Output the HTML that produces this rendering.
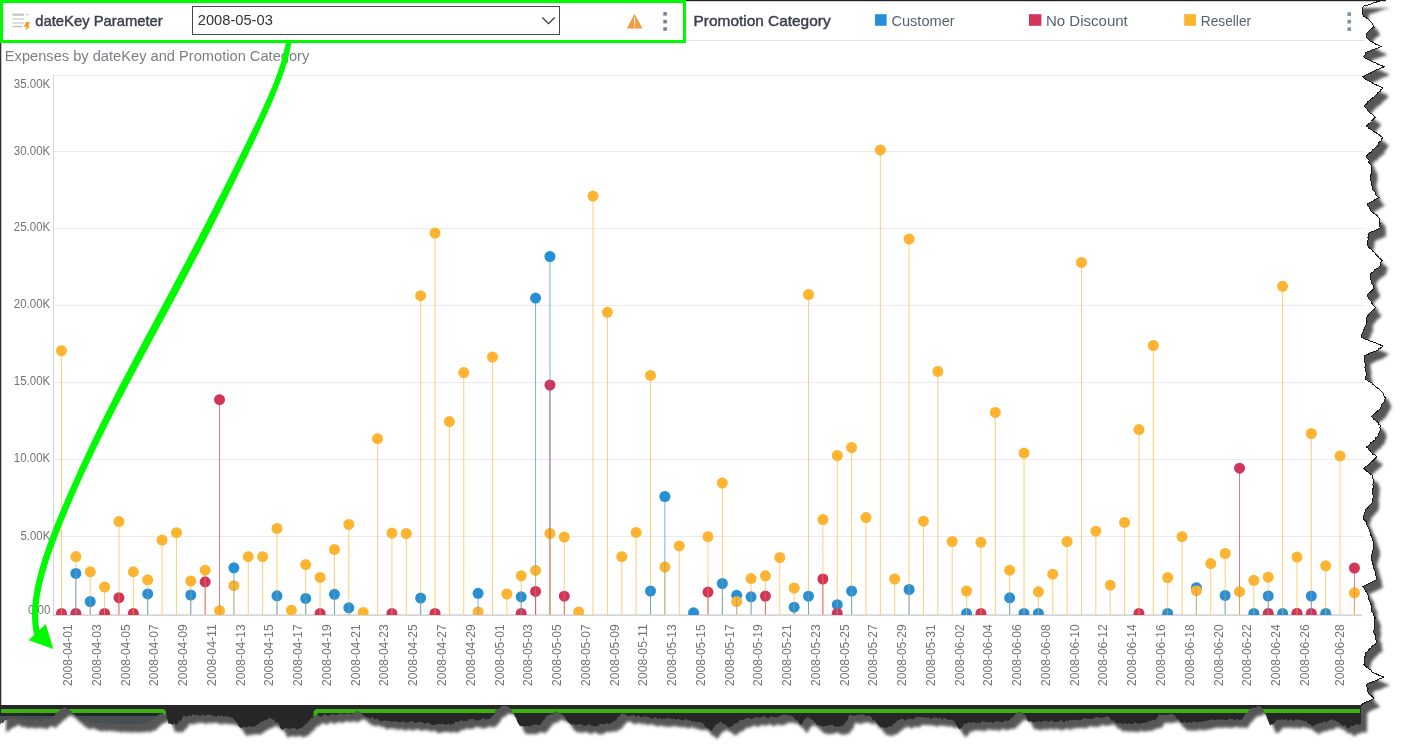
<!DOCTYPE html>
<html><head><meta charset="utf-8"><title>Expenses by dateKey and Promotion Category</title>
<style>
html,body{margin:0;padding:0;background:#fff;}
body{width:1407px;height:753px;overflow:hidden;position:relative;font-family:"Liberation Sans",Arial,sans-serif;}
svg{position:absolute;left:0;top:0;}
.ax{font-family:"Liberation Sans",Arial,sans-serif;font-size:12px;fill:#737373;}
.hd{font-family:"Liberation Sans",Arial,sans-serif;}
</style></head>
<body>
<svg width="1407" height="753" viewBox="0 0 1407 753">
<defs>
<clipPath id="plotclip"><rect x="54" y="60" width="1310" height="555"/></clipPath>
<clipPath id="paperclip"><path d="M0,0 L1384.7,0 L1382.3,0.4 L1379.9,0.9 L1378.4,1.3 L1376.3,2.1 L1373,3 L1371.5,3.8 L1369.1,4.6 L1366.9,5.3 L1364.4,5.9 L1363.2,6.6 L1362.5,8.6 L1362.5,11.4 L1362.5,14.3 L1363.7,16.1 L1366.5,17.9 L1368.4,19.5 L1370.5,21.2 L1372.8,24.2 L1374.1,27.2 L1371.5,28.6 L1369.1,30.6 L1367.4,32.5 L1366.5,34.5 L1366.5,37.2 L1368.4,39.2 L1370.5,41.2 L1373.2,42.3 L1374.1,43.3 L1376.4,44.4 L1379.2,45.4 L1381.1,46.5 L1379.5,47.5 L1376.4,48.5 L1373.8,49.5 L1371.6,50.2 L1370.6,50.8 L1367.7,51.5 L1365.4,53.2 L1365.3,55 L1363.2,56.7 L1365.2,58 L1367.2,59.2 L1370.2,60.5 L1371.5,61.4 L1373.8,62.3 L1376.7,63.2 L1377.5,64.1 L1380.2,65 L1382.3,65.9 L1384,66.8 L1381.9,67.6 L1380.3,68.5 L1377.6,69.3 L1375.7,70.1 L1374.1,71 L1372.7,71.8 L1371,72.8 L1368.6,73.8 L1366.4,74.8 L1364.9,75.8 L1362.7,76.8 L1364.3,78.1 L1365.7,79.3 L1367.7,80.6 L1370.1,81.5 L1371.8,82.5 L1372.9,83.5 L1375.4,84.4 L1377.2,85.3 L1379.7,86.3 L1381.3,87.2 L1382.8,88.2 L1380.9,89.7 L1380.7,91.2 L1377.6,92.7 L1376.7,94.2 L1375.3,95.7 L1374.1,97.1 L1371.4,98.6 L1370.4,100 L1368,101.5 L1367.5,102.9 L1366.1,104.4 L1364,105.8 L1365.4,107.5 L1367.1,109.1 L1367.7,110.8 L1369.3,112.4 L1371.9,113.9 L1373.6,115.5 L1375.3,117.1 L1374,118.6 L1372.3,120.1 L1371.5,121.5 L1370.2,123 L1367.8,124.5 L1366.4,126 L1368.3,127.2 L1368.8,128.5 L1371.5,129.8 L1372.7,131 L1375,132.3 L1377.6,133.5 L1379.3,134.8 L1380.4,136 L1382.8,137.3 L1381.6,139 L1381.1,140.8 L1378.9,142.5 L1378.7,144.3 L1377.8,146 L1375.6,147.5 L1373.9,148.9 L1372.1,150.4 L1371.8,151.8 L1369,153.3 L1367.6,154.7 L1366.4,156.2 L1367.2,158.2 L1369.1,160.2 L1368.7,162.2 L1370.4,164.2 L1371.5,166.2 L1371.3,168.2 L1371.7,170.2 L1371.3,172.3 L1371.1,174.3 L1370.2,176.3 L1370.2,178.5 L1370.9,180.8 L1371.5,183 L1371.6,185.3 L1373,187.7 L1372.7,190 L1375.1,191.9 L1375.2,193.8 L1376.8,195.7 L1379,197.6 L1376.6,198.7 L1374.8,199.7 L1373.3,200.8 L1371.6,201.9 L1369.2,202.9 L1367.7,204 L1367.8,205.9 L1369.5,207.8 L1370.3,209.6 L1371.5,211.5 L1373.5,213.1 L1376.1,214.7 L1377.5,216.2 L1379,217.8 L1379.3,219.8 L1379.7,221.8 L1380.1,223.9 L1379.2,225.9 L1380.3,227.9 L1379.1,228.7 L1377,229.6 L1375.3,230.4 L1373.3,231.2 L1370.7,232.1 L1369,232.9 L1368.6,235 L1367.9,237.1 L1368.6,239.2 L1367.3,241.3 L1367.1,243.4 L1367.7,245.5 L1368.7,247 L1370.1,248.5 L1372,250 L1373,251.5 L1375.3,253 L1375.8,254.5 L1377.5,256 L1378.8,257.6 L1380.7,259.1 L1382.3,260.6 L1380.3,262.7 L1380.8,264.8 L1379,266.9 L1377.4,268.4 L1374.8,269.9 L1373.3,271.5 L1371.7,273 L1370.2,274.5 L1370.3,276.7 L1370.2,278.9 L1371.8,281.1 L1371.5,283.3 L1373.6,285.8 L1374,288.3 L1372.6,289.8 L1371.3,291.3 L1369.2,292.9 L1367.8,294.4 L1367.2,295.9 L1368.3,297.8 L1369.5,299.7 L1371.8,301.5 L1372,303.4 L1373.1,305.3 L1375.3,307.2 L1374.6,309 L1372.3,310.7 L1370.1,312.5 L1369.3,314.2 L1367.7,316 L1366.3,318 L1366.8,320 L1367.1,322.1 L1366.4,324.1 L1365.2,326.1 L1364.8,328.4 L1363.3,330.6 L1362.7,332.9 L1361.6,335.1 L1361.4,337.4 L1363.8,338.2 L1365.3,339 L1367.7,339.8 L1368.9,340.6 L1370.6,341.4 L1373.6,342.2 L1375.9,343 L1377.6,343.8 L1379.5,344.6 L1381.4,345.4 L1382.8,346.2 L1381.6,347.5 L1379,348.7 L1377.8,350 L1375.9,350.9 L1373.6,351.8 L1371,352.7 L1369.1,353.6 L1367.5,354.5 L1365.5,355.4 L1364,356.3 L1364.6,359.1 L1364.5,362 L1365.6,364.6 L1364.9,367.1 L1365.2,369.7 L1366,372 L1366.1,374.3 L1366,376.6 L1365.2,378.9 L1367.1,380.2 L1368.9,381.4 L1371.5,382.7 L1372.8,384.2 L1374.5,385.7 L1376.2,387.2 L1378.8,388.7 L1380.3,390.2 L1382.3,392.1 L1383.4,394 L1384,395.9 L1385.3,397.8 L1384.7,400 L1384,402.2 L1381.8,404.4 L1381.6,406.6 L1380.4,408 L1379.5,409.5 L1377.8,410.9 L1376.3,412.4 L1374.3,413.8 L1372.4,415.3 L1371.5,416.7 L1373.5,418.2 L1374.1,419.6 L1376.4,421.1 L1378.2,422.6 L1378.6,424 L1380.3,425.5 L1379.9,427.5 L1380.6,429.5 L1379.9,431.6 L1378.7,433.6 L1379,435.6 L1376.8,437 L1375.2,438.4 L1375,439.8 L1373.3,441.2 L1370.5,442.7 L1370.1,444.1 L1368.8,445.5 L1366.4,446.9 L1368.1,448.3 L1369,449.8 L1370.8,451.2 L1371.5,452.7 L1372.7,454.1 L1375.9,455.6 L1376.5,457 L1375.2,458.4 L1373.4,459.8 L1372.6,461.2 L1370.1,462.6 L1369.3,464.1 L1367.6,465.5 L1365,466.9 L1363.9,468.3 L1365.2,469.8 L1367,471.3 L1368.7,472.9 L1371.1,474.4 L1372.7,475.9 L1372.9,478.4 L1374,480.9 L1373.6,482.9 L1372.8,484.9 L1374,487 L1372.7,489 L1372.7,491 L1372.6,493 L1372.9,495 L1373.4,497.1 L1372.6,499.1 L1372.7,501.1 L1372.2,502.8 L1370.2,504.4 L1369,506.1 L1367.7,507.8 L1365.6,509.4 L1365.2,511.1 L1364.7,513.2 L1363.8,515.3 L1363.9,517.4 L1364,519.6 L1366.3,521.8 L1366.2,524 L1367.7,526.2 L1368.4,528.2 L1369.6,530.2 L1370.1,532.3 L1370.4,534.3 L1371.5,536.3 L1372.1,538.5 L1372.8,540.6 L1373.8,542.8 L1373.9,545 L1373.9,548.5 L1372.5,550.6 L1372.6,552.8 L1371.3,554.9 L1371.1,557 L1371.3,559.3 L1372.7,561.5 L1372.8,563.8 L1373.5,566 L1373.9,568.3 L1374.9,570.6 L1375.8,572.8 L1375.5,575.1 L1376.4,577.3 L1376.8,579.6 L1374.8,580.6 L1372.8,581.6 L1371.1,582.6 L1368.6,583.6 L1366.7,584.6 L1364.6,585.6 L1362.6,586.6 L1364.5,588.6 L1365.2,590.6 L1366.7,592.5 L1368,594.5 L1368.3,596.5 L1368.4,598.8 L1369.5,601.1 L1370.8,603.3 L1371.2,605.6 L1371.1,607.9 L1371.3,609.9 L1372.1,611.8 L1373.5,613.8 L1373.7,615.7 L1375.3,617.7 L1374.6,619.8 L1374.1,622 L1374.9,624.1 L1374.9,626.2 L1374.8,628.4 L1373.9,630.5 L1373.9,632.8 L1375.4,635 L1375.9,637.3 L1375.6,639.5 L1376.8,641.8 L1376.1,643.2 L1374.8,644.6 L1372,646 L1371.9,647.5 L1369.5,648.9 L1368.2,650.3 L1367.7,651.7 L1365.4,653.1 L1365.7,655.4 L1364.2,657.6 L1364.4,659.9 L1364.3,662.1 L1364,664.4 L1365.4,665.8 L1366.8,667.2 L1368.6,668.6 L1371,670.1 L1371.4,671.5 L1373.9,672.9 L1376,673.7 L1377.8,674.6 L1379,675.4 L1381.5,676.3 L1383.8,677.1 L1382.1,677.9 L1380.1,678.7 L1377.4,679.5 L1377.2,680.3 L1374.9,681 L1373.4,681.8 L1369.9,682.6 L1368.4,683.4 L1366.9,684.2 L1366.4,686.3 L1368.1,688.5 L1367.5,690.6 L1368.3,692.7 L1369.5,694.6 L1371.9,696.4 L1373.9,698.3 L1372.5,699.4 L1370.2,700.5 L1367.1,701.5 L1365.4,702.6 L1362.7,703.9 L1361.2,705.2 L1361,723.8 L1358.7,724.9 L1356.4,723.8 L1354.9,724.9 L1353.5,726.2 L1352,725.5 L1350.6,726.3 L1349.1,728.4 L1347.6,728.1 L1346.1,726.5 L1344.6,724.8 L1343.1,726.2 L1341.6,724.6 L1340.1,724.2 L1338.6,721.5 L1337.1,722.6 L1335.6,719.7 L1334.1,721 L1332.6,719.2 L1331.1,719.6 L1329.5,719.9 L1328,721 L1326.4,722.6 L1324.9,721.4 L1323.4,721.6 L1321.8,723.2 L1320.3,723 L1318.8,723.2 L1317.2,723.9 L1315.7,724.2 L1314.1,725.2 L1312.6,726.5 L1311.1,724.9 L1309.7,723.8 L1308.2,723.9 L1306.8,721.6 L1305.3,721 L1303.7,720.9 L1302.1,720 L1300.5,720.3 L1298.9,719.3 L1297.2,719.8 L1295.6,719.1 L1294,720.9 L1292.4,720.3 L1290.8,719.2 L1289.2,719.9 L1287.6,721 L1286,718.7 L1284.3,720.5 L1282.7,719.3 L1281.1,719.4 L1279.5,720.2 L1277.9,719.2 L1276.7,720 L1275.4,721.4 L1274.2,722.9 L1273,724.7 L1271.7,724.1 L1270.5,725.6 L1269.8,724.9 L1269,723 L1268.3,721.3 L1267.6,719.2 L1266.8,717.5 L1266.1,715.1 L1265.4,713.8 L1264.7,712.1 L1263.9,712.3 L1263.2,710.1 L1262,708.2 L1260.8,706.8 L1259.6,706.4 L1257.8,705.6 L1255.9,707.8 L1254.1,708.1 L1252.3,707.4 L1251.2,709 L1250.1,709.2 L1249,710.3 L1247.9,711.6 L1246.8,713.2 L1245.7,713.6 L1244.6,715.5 L1243.5,716.2 L1242.4,719.2 L1241.3,719.2 L1239.6,720.5 L1238,719.5 L1236.3,718.8 L1234.7,720.7 L1233,719.1 L1231.3,719.3 L1229.7,718.5 L1228,719.5 L1226.4,719.9 L1224.7,720 L1223,719.3 L1221.4,720.2 L1219.7,719 L1218.1,719.7 L1216.4,719.4 L1214.8,720.2 L1213.1,719.4 L1211.4,719.4 L1209.8,720.2 L1208.1,720.1 L1206.5,721.1 L1204.8,721 L1203.1,721.2 L1201.4,721.9 L1199.7,721.8 L1198.1,722.1 L1196.4,722.7 L1194.7,721.6 L1193,721.6 L1191.3,723.4 L1189.6,721.4 L1188,723 L1186.3,723 L1184.6,721.6 L1182.9,722.9 L1181.5,722.6 L1180.2,721.6 L1178.8,719.8 L1177.4,718.9 L1176,718 L1174.7,715.1 L1173.3,714.9 L1171.9,713.7 L1170.2,713.8 L1168.5,714.8 L1166.8,714.9 L1165.1,715.1 L1163.4,714.6 L1161.7,715.5 L1160,714.6 L1158.8,714.6 L1158,716.6 L1157.1,718.1 L1156.2,718.4 L1155.4,720.6 L1153.7,719.7 L1152,720.3 L1150.3,721.2 L1148.6,720.8 L1146.8,723 L1145.1,722.6 L1143.4,723.1 L1141.7,723.1 L1140,723.5 L1138.3,723.7 L1136.6,723.3 L1134.9,722.1 L1133.2,724.2 L1131.5,724.1 L1129.8,723.6 L1128.1,723.7 L1126.4,724.1 L1124.7,722.6 L1123,724.4 L1121.3,723.2 L1119.6,722.8 L1117.9,724 L1116.6,722.4 L1115.3,722.7 L1114,720.3 L1112.8,720.8 L1111.5,720.4 L1110.2,718.2 L1108.9,717 L1107.6,716.3 L1105.9,716.5 L1104.2,717.3 L1102.5,717.8 L1100.8,717.6 L1099.1,718 L1097.4,716.8 L1095.7,717.2 L1094,717.7 L1092.3,719.3 L1090.6,718.9 L1089,718.5 L1087.4,719.3 L1085.7,718 L1084.1,718.2 L1082.5,718.9 L1080.9,720.1 L1079.2,720.2 L1077.6,720.3 L1076,719.4 L1074.4,720.1 L1072.7,720.1 L1071.1,720.2 L1069.5,719.5 L1067.9,721.6 L1066.2,719.9 L1064.6,722 L1063,722.1 L1061.4,719.8 L1059.7,721.1 L1058.1,722.1 L1056.5,721.4 L1054.9,722.6 L1053.3,721.3 L1051.7,720.8 L1050.1,720.6 L1048.5,722.6 L1046.9,720.6 L1045.3,721.6 L1043.7,720.5 L1042,721.5 L1040.4,722.6 L1038.8,720.4 L1037.2,722.2 L1035.6,721.4 L1034,722.4 L1032.4,721.9 L1030.8,720.7 L1029.2,721.4 L1028,721 L1026.9,718.5 L1025.8,715.9 L1024.6,714.4 L1023.4,714.3 L1022.3,712.9 L1020.6,712.3 L1018.9,712 L1017.6,712.6 L1016.4,713.2 L1015.1,714.8 L1013.8,715.8 L1012.5,718.3 L1011.2,717.2 L1010,720.2 L1008.7,720.6 L1007,721.6 L1005.3,719.9 L1003.6,722.1 L1001.9,721.7 L1000.2,722.4 L998.5,720.9 L996.7,721.3 L995,721.5 L993.3,723.2 L991.6,722.2 L989.9,721.8 L988.2,722.3 L986.5,722.2 L984.8,721.8 L983.1,721.3 L981.4,721.5 L979.7,723.5 L978,722.1 L976.2,723.8 L974.5,722.1 L972.8,722.2 L971.1,722.9 L969.4,722.1 L967.7,722.7 L966,724.2 L964.3,723.1 L963.2,725.6 L962.2,726.9 L961.1,727.9 L960.1,729.1 L959,728.8 L957.9,727.6 L956.8,725.2 L955.7,724.3 L954.6,721.2 L953.5,721.6 L952.4,719.7 L950.7,719.4 L949,720 L947.3,719.5 L945.6,718.4 L943.9,717.6 L942.2,719.7 L940.5,717.4 L938.8,718.1 L937.1,718 L935.4,717.5 L933.7,717.3 L932,718.4 L930.3,718.9 L928.5,717 L926.8,717.9 L925.1,716.9 L923.4,717.5 L921.7,717 L920,717.2 L918.4,716.7 L916.7,717 L915.1,717.5 L913.4,719.6 L911.8,718.9 L910.1,719 L908.4,718.4 L906.7,720.3 L904.9,720.6 L903.2,719.3 L901.5,718.6 L899.8,719.7 L898.4,720.1 L897,720.9 L895.5,722.7 L894.1,723.2 L892.7,724.8 L891.3,726.6 L889.6,726.1 L887.9,727 L886.1,728 L884.4,727.8 L882.7,727 L881,727.4 L879.8,726 L878.6,725.1 L877.4,723.5 L876.2,722.2 L875,720.3 L873.9,719.7 L872.7,720.3 L871.5,716.9 L870.3,716.7 L869.1,715.5 L867.4,715.8 L865.7,716.3 L864,714.5 L862.3,714.6 L860.6,714.4 L858.8,714.7 L857.1,714.8 L855.4,716 L853.7,715.7 L852,715.7 L850.3,714.6 L849.4,714.7 L848.6,716.2 L847.8,719.3 L846.9,721.2 L846,721.5 L845.2,723.2 L844.4,723 L843.5,725.7 L841.8,725.4 L840.1,726.8 L838.4,726.5 L836.7,726.6 L835,726.9 L833.3,725 L831.6,724.7 L829.9,724.8 L828.2,725.8 L826.5,725.7 L824.8,726 L823.1,726.5 L821.3,725.8 L819.6,725.4 L817.9,724.9 L816.6,724.5 L815.4,722.6 L814.1,721.8 L812.8,719.4 L811.5,720.3 L810.2,717.8 L809,718.5 L807.7,716.3 L806.6,718.1 L805.4,718.7 L804.3,719.6 L803.2,721.4 L802,723.8 L800.9,724.9 L799.7,724.2 L798.4,721.4 L797.2,720.1 L796,720 L794.8,719 L793.5,717.2 L792.3,716.3 L790.6,715.3 L788.9,716 L787.2,714.2 L785.5,714.7 L783.8,714.8 L782.1,714.6 L780.4,716.4 L778.7,716.3 L777,717.5 L775.3,717.2 L773.6,717.1 L771.9,716.5 L770.2,716.5 L768.5,718.4 L766.8,717.7 L765,716.7 L763.3,716 L761.6,717.2 L759.9,717.7 L758.2,717.2 L756.5,717.2 L754.8,717.1 L753.1,718.4 L751.4,719.3 L749.7,717.7 L748,717.5 L746.3,718.5 L744.6,719 L742.9,719.9 L741.2,719.7 L739.7,719.9 L738.2,722.4 L736.7,723.2 L735.2,723.6 L733.7,723.7 L732.2,726.7 L730.7,725.9 L729.2,727.4 L727.7,727.2 L726.1,724.7 L724.5,723.7 L723,724.1 L721.5,721.9 L719.9,721.4 L718.7,723.8 L717.5,723.7 L716.4,724.1 L715.2,725.4 L714,727.1 L712.9,728.9 L711.7,730.8 L710.5,730.8 L709.2,728.8 L707.9,728.4 L706.6,726.9 L705.4,727.8 L704.1,724.6 L702.8,723.3 L701.5,722.2 L700.2,722.3 L698.5,721.6 L696.8,722.5 L695.1,722 L693.4,721.2 L691.7,721.4 L690,719.7 L688.4,720.8 L686.7,719.3 L685.1,718.9 L683.4,720.8 L681.8,719.7 L680.1,720.3 L678.4,718.3 L676.7,719.9 L675,719.1 L673.2,719 L671.5,718.8 L669.8,718.3 L668.1,717.8 L666.4,718.4 L664.7,718.9 L663,718.3 L661.3,719.7 L659.6,717.4 L657.9,719.4 L656.2,717.3 L654.4,717.5 L652.7,718.5 L651,718.4 L649.3,717.2 L647.6,717.2 L645.9,715.9 L644.2,716.8 L642.5,716.4 L640.8,717.6 L639.1,715.6 L637.4,715.8 L635.7,717 L634,714.6 L632.3,715.4 L630.6,715.5 L628.9,716.2 L627.2,715.9 L625.5,713.9 L623.7,713.7 L622,713.6 L620.3,714.6 L619.2,717 L618,716.5 L616.9,719.1 L615.8,720.8 L614.6,720.6 L613.5,722.3 L611.8,722 L610.1,724.2 L608.4,723.6 L606.7,723 L605,724.6 L603.3,723.9 L601.6,724.1 L599.9,723.7 L598.2,726 L596.5,725.7 L594.9,726.7 L593.3,725.8 L591.7,726.5 L590.1,724 L588.5,724.5 L586.9,725 L585.3,726.1 L583.7,726 L582.1,724.4 L580.5,724 L578.9,724.3 L577.3,724.4 L575.7,725.4 L574.1,723.4 L572.5,724.9 L570.9,724 L569.7,723.3 L568.4,722.2 L567.2,720.7 L566,718.9 L564.8,716.8 L563.5,715.5 L562.3,714.6 L560.6,713.4 L558.9,713.6 L557.2,712 L555.5,711.6 L553.8,712.6 L552.1,714.8 L550.4,714.1 L548.7,715.5 L547.4,715.5 L546.2,716.6 L544.9,719.2 L543.6,719.7 L542.3,722.6 L541,723.5 L539.8,725 L538.5,724.9 L536.8,724.5 L535.1,724.2 L533.4,724.5 L531.6,725.7 L529.9,726.5 L528.2,726 L526.5,725.7 L524.8,726.6 L523.1,726.1 L521.4,726.3 L519.7,725.7 L518.9,724.6 L518.2,723.3 L517.4,722 L516.7,720 L515.9,717.1 L515.2,717.5 L514.4,714.5 L513.7,713.7 L512.9,712 L511.6,710.3 L510.4,709.9 L509.1,707.2 L507.8,706.6 L506.1,705.9 L504.4,705.9 L502.7,705.7 L501,706.6 L499.6,708.6 L498.1,708.7 L496.7,709.5 L495.7,710.5 L494.7,712.1 L493.7,715 L492.7,715.2 L491.7,715.9 L490.7,718 L489,719 L487.3,718.8 L485.6,719.9 L483.9,717.8 L482.1,719 L480.4,720.1 L478.7,720.4 L477,719.7 L475.3,720.9 L473.6,718.7 L471.9,719.4 L470.2,719.1 L468.5,719.3 L466.8,721.5 L465.1,720.5 L463.4,721.5 L461.7,720.2 L460,720.6 L458.4,722.2 L456.7,721.8 L455.1,722 L453.4,724 L451.8,724 L450.1,725.2 L448.4,723.2 L446.7,724.5 L445,724.7 L443.2,723.7 L441.5,724.2 L439.8,723.7 L438.1,724 L436.4,724.2 L434.7,724.9 L433,724.9 L431.3,724.8 L429.6,723.3 L427.9,722.6 L426.1,723.2 L424.4,723.8 L422.7,722.3 L421,722.3 L419.3,721.8 L417.6,722.3 L415.9,723.1 L414.2,722.4 L412.5,721.2 L410.8,721.3 L409.1,722 L407.4,722.4 L405.7,722.7 L404,721.2 L402.3,721.4 L400.6,722.3 L398.9,722.6 L397.2,721.7 L395.5,721.2 L393.8,721.1 L392.1,722.6 L390.3,720.8 L388.6,721.3 L386.9,720.6 L385.2,720.6 L383.5,720.6 L381.8,721.2 L380.1,721.2 L378.4,719.2 L376.7,718.5 L375,719.5 L373.3,717.8 L371.6,716.9 L369.9,718.9 L368.2,717.3 L366.5,717.2 L365.1,717 L363.7,714.9 L362.4,715.1 L361,712.9 L359.6,712 L357.9,711.4 L356.2,711.3 L354.5,713 L352.8,713.6 L351.1,714.6 L349.4,713.8 L347.7,712.8 L346,714.3 L344.3,713.7 L342.6,714.1 L340.9,713.3 L339.1,713.7 L337.4,714.4 L335.7,715.5 L334,713.5 L332.3,714.6 L330.6,714.7 L328.9,715.6 L327.2,716.1 L325.5,714.2 L323.8,714.1 L322.1,716.4 L320.4,716.5 L318.7,715.4 L317,715.5 L315.3,715.2 L313.6,718.3 L311.9,717.8 L310.2,718.9 L309,721.3 L307.7,721.9 L306.5,723.8 L305.3,723.4 L304.1,726.4 L302.8,726.2 L301.6,728.3 L299.9,728.1 L298.2,729.3 L296.5,729.4 L294.8,727.7 L293.1,727.9 L291.4,728.4 L289.7,728.8 L288,728.5 L286.3,727.9 L284.6,728.3 L282.9,729.6 L281.2,729.1 L280.4,728 L279.5,724.9 L278.1,722.6 L276.6,722.8 L275.2,722.1 L273.8,719.1 L272.3,720 L270.9,718 L269.2,717.7 L267.5,719.6 L265.8,720.1 L264.1,720.6 L262.6,721.8 L261.2,721.8 L259.7,723 L258.3,724.2 L256.8,724.7 L255.4,726.2 L253.9,726.6 L252.2,726.6 L250.5,726.6 L248.8,725.7 L247.1,727.3 L245.3,727.1 L243.6,726.5 L241.9,728 L240.2,727.4 L239.2,726.8 L238.1,724.6 L237.1,722.5 L236,721.9 L235,720.6 L233.3,718.4 L231.7,717.4 L230,717.2 L228.3,716.8 L226.6,715.8 L225,716.5 L223.3,716.5 L221.6,715.2 L219.9,716.5 L218.2,714.9 L216.6,716.4 L214.9,716.4 L213.2,715.5 L211.5,715.4 L209.8,714.2 L208.1,715.2 L206.4,714.8 L204.7,716.2 L203,714 L201.3,715.8 L199.6,716.1 L197.9,715.3 L196.2,714.6 L194.5,715.5 L192.8,714.1 L191.1,716.2 L189.3,715.1 L187.6,716.4 L185.9,716.5 L184.2,715.5 L183.1,716 L181.9,719.1 L180.8,720.9 L179.7,720 L178.5,722.2 L177.4,724 L175.7,724.7 L174,723.1 L172.3,725 L170.6,723.4 L168.9,724 L168.4,723.1 L167.9,719.7 L167.3,718.9 L166.8,718.3 L166.3,715.5 L164.3,714.2 L162.3,713.8 L160.3,713.8 L158.9,714.8 L157.6,715.4 L156.2,715.7 L154.9,717.1 L153.5,718.9 L152.1,718.9 L150.7,721.7 L149.2,721.9 L147.8,723.3 L146.4,722.3 L145,724 L143.3,724.7 L141.6,723 L139.9,724.1 L138.2,724.4 L136.5,723.6 L134.8,725 L133.1,724.1 L131.3,724.2 L129.6,725 L127.9,723 L126.2,725.3 L124.5,724.3 L122.8,723.7 L121.1,724.8 L119.4,724 L117.7,723.3 L116,725.1 L114.3,723.9 L112.6,723.3 L110.8,724.2 L109.1,723.3 L107.4,722.5 L105.7,723.9 L104,722 L102.3,723.1 L100.6,723.8 L98.9,722.2 L97.2,723 L95.5,723.7 L93.8,722.6 L92.1,722.6 L90.4,721.5 L88.7,720.6 L87,720.5 L85.3,720.6 L83.6,721.4 L82.2,720.7 L80.7,719.3 L79.3,718.5 L77.9,718.5 L76.4,715.5 L75,715.5 L73.8,713.7 L72.5,713.7 L71.2,711 L70,711.2 L68.5,709.1 L67,709.1 L65.5,707.6 L64,707.8 L62.5,708.5 L61,709.2 L59.5,711.2 L58,712 L56.8,713.4 L55.7,713.5 L54.5,715.8 L53.3,716.5 L52.2,716.8 L51,718.9 L49.3,720.2 L47.6,718.6 L45.9,718.5 L44.2,718.5 L42.5,720.1 L40.8,720.9 L39.1,720.8 L37.4,720 L35.7,719.8 L34,720.6 L32.3,719.2 L30.6,720.6 L28.9,720.3 L27.2,719.5 L25.5,720.1 L23.8,719.4 L22.1,720.5 L20.4,719.8 L18.7,718.4 L17,718.9 L15.3,719.4 L13.6,716.6 L11.9,717.2 L10.5,718.1 L9.1,718.6 L7.7,719.7 L6.2,720.1 L4.6,720.6 L3.1,723.5 L1.5,722.6 L0,724.9 Z"/></clipPath>
<clipPath id="bandclip"><path clip-rule="evenodd" d="M0,705 H1361 V753 H0 Z M0,716 H163 V753 H0 Z"/></clipPath>
<clipPath id="upperclip"><rect x="0" y="0" width="1407" height="705"/></clipPath>
<clipPath id="slateclip"><rect x="0" y="716" width="163" height="37"/></clipPath>
<filter id="blur" x="-5%" y="-5%" width="110%" height="110%"><feGaussianBlur stdDeviation="1.8"/></filter>
</defs>
<path d="M0,0 L1384.7,0 L1382.3,0.4 L1379.9,0.9 L1378.4,1.3 L1376.3,2.1 L1373,3 L1371.5,3.8 L1369.1,4.6 L1366.9,5.3 L1364.4,5.9 L1363.2,6.6 L1362.5,8.6 L1362.5,11.4 L1362.5,14.3 L1363.7,16.1 L1366.5,17.9 L1368.4,19.5 L1370.5,21.2 L1372.8,24.2 L1374.1,27.2 L1371.5,28.6 L1369.1,30.6 L1367.4,32.5 L1366.5,34.5 L1366.5,37.2 L1368.4,39.2 L1370.5,41.2 L1373.2,42.3 L1374.1,43.3 L1376.4,44.4 L1379.2,45.4 L1381.1,46.5 L1379.5,47.5 L1376.4,48.5 L1373.8,49.5 L1371.6,50.2 L1370.6,50.8 L1367.7,51.5 L1365.4,53.2 L1365.3,55 L1363.2,56.7 L1365.2,58 L1367.2,59.2 L1370.2,60.5 L1371.5,61.4 L1373.8,62.3 L1376.7,63.2 L1377.5,64.1 L1380.2,65 L1382.3,65.9 L1384,66.8 L1381.9,67.6 L1380.3,68.5 L1377.6,69.3 L1375.7,70.1 L1374.1,71 L1372.7,71.8 L1371,72.8 L1368.6,73.8 L1366.4,74.8 L1364.9,75.8 L1362.7,76.8 L1364.3,78.1 L1365.7,79.3 L1367.7,80.6 L1370.1,81.5 L1371.8,82.5 L1372.9,83.5 L1375.4,84.4 L1377.2,85.3 L1379.7,86.3 L1381.3,87.2 L1382.8,88.2 L1380.9,89.7 L1380.7,91.2 L1377.6,92.7 L1376.7,94.2 L1375.3,95.7 L1374.1,97.1 L1371.4,98.6 L1370.4,100 L1368,101.5 L1367.5,102.9 L1366.1,104.4 L1364,105.8 L1365.4,107.5 L1367.1,109.1 L1367.7,110.8 L1369.3,112.4 L1371.9,113.9 L1373.6,115.5 L1375.3,117.1 L1374,118.6 L1372.3,120.1 L1371.5,121.5 L1370.2,123 L1367.8,124.5 L1366.4,126 L1368.3,127.2 L1368.8,128.5 L1371.5,129.8 L1372.7,131 L1375,132.3 L1377.6,133.5 L1379.3,134.8 L1380.4,136 L1382.8,137.3 L1381.6,139 L1381.1,140.8 L1378.9,142.5 L1378.7,144.3 L1377.8,146 L1375.6,147.5 L1373.9,148.9 L1372.1,150.4 L1371.8,151.8 L1369,153.3 L1367.6,154.7 L1366.4,156.2 L1367.2,158.2 L1369.1,160.2 L1368.7,162.2 L1370.4,164.2 L1371.5,166.2 L1371.3,168.2 L1371.7,170.2 L1371.3,172.3 L1371.1,174.3 L1370.2,176.3 L1370.2,178.5 L1370.9,180.8 L1371.5,183 L1371.6,185.3 L1373,187.7 L1372.7,190 L1375.1,191.9 L1375.2,193.8 L1376.8,195.7 L1379,197.6 L1376.6,198.7 L1374.8,199.7 L1373.3,200.8 L1371.6,201.9 L1369.2,202.9 L1367.7,204 L1367.8,205.9 L1369.5,207.8 L1370.3,209.6 L1371.5,211.5 L1373.5,213.1 L1376.1,214.7 L1377.5,216.2 L1379,217.8 L1379.3,219.8 L1379.7,221.8 L1380.1,223.9 L1379.2,225.9 L1380.3,227.9 L1379.1,228.7 L1377,229.6 L1375.3,230.4 L1373.3,231.2 L1370.7,232.1 L1369,232.9 L1368.6,235 L1367.9,237.1 L1368.6,239.2 L1367.3,241.3 L1367.1,243.4 L1367.7,245.5 L1368.7,247 L1370.1,248.5 L1372,250 L1373,251.5 L1375.3,253 L1375.8,254.5 L1377.5,256 L1378.8,257.6 L1380.7,259.1 L1382.3,260.6 L1380.3,262.7 L1380.8,264.8 L1379,266.9 L1377.4,268.4 L1374.8,269.9 L1373.3,271.5 L1371.7,273 L1370.2,274.5 L1370.3,276.7 L1370.2,278.9 L1371.8,281.1 L1371.5,283.3 L1373.6,285.8 L1374,288.3 L1372.6,289.8 L1371.3,291.3 L1369.2,292.9 L1367.8,294.4 L1367.2,295.9 L1368.3,297.8 L1369.5,299.7 L1371.8,301.5 L1372,303.4 L1373.1,305.3 L1375.3,307.2 L1374.6,309 L1372.3,310.7 L1370.1,312.5 L1369.3,314.2 L1367.7,316 L1366.3,318 L1366.8,320 L1367.1,322.1 L1366.4,324.1 L1365.2,326.1 L1364.8,328.4 L1363.3,330.6 L1362.7,332.9 L1361.6,335.1 L1361.4,337.4 L1363.8,338.2 L1365.3,339 L1367.7,339.8 L1368.9,340.6 L1370.6,341.4 L1373.6,342.2 L1375.9,343 L1377.6,343.8 L1379.5,344.6 L1381.4,345.4 L1382.8,346.2 L1381.6,347.5 L1379,348.7 L1377.8,350 L1375.9,350.9 L1373.6,351.8 L1371,352.7 L1369.1,353.6 L1367.5,354.5 L1365.5,355.4 L1364,356.3 L1364.6,359.1 L1364.5,362 L1365.6,364.6 L1364.9,367.1 L1365.2,369.7 L1366,372 L1366.1,374.3 L1366,376.6 L1365.2,378.9 L1367.1,380.2 L1368.9,381.4 L1371.5,382.7 L1372.8,384.2 L1374.5,385.7 L1376.2,387.2 L1378.8,388.7 L1380.3,390.2 L1382.3,392.1 L1383.4,394 L1384,395.9 L1385.3,397.8 L1384.7,400 L1384,402.2 L1381.8,404.4 L1381.6,406.6 L1380.4,408 L1379.5,409.5 L1377.8,410.9 L1376.3,412.4 L1374.3,413.8 L1372.4,415.3 L1371.5,416.7 L1373.5,418.2 L1374.1,419.6 L1376.4,421.1 L1378.2,422.6 L1378.6,424 L1380.3,425.5 L1379.9,427.5 L1380.6,429.5 L1379.9,431.6 L1378.7,433.6 L1379,435.6 L1376.8,437 L1375.2,438.4 L1375,439.8 L1373.3,441.2 L1370.5,442.7 L1370.1,444.1 L1368.8,445.5 L1366.4,446.9 L1368.1,448.3 L1369,449.8 L1370.8,451.2 L1371.5,452.7 L1372.7,454.1 L1375.9,455.6 L1376.5,457 L1375.2,458.4 L1373.4,459.8 L1372.6,461.2 L1370.1,462.6 L1369.3,464.1 L1367.6,465.5 L1365,466.9 L1363.9,468.3 L1365.2,469.8 L1367,471.3 L1368.7,472.9 L1371.1,474.4 L1372.7,475.9 L1372.9,478.4 L1374,480.9 L1373.6,482.9 L1372.8,484.9 L1374,487 L1372.7,489 L1372.7,491 L1372.6,493 L1372.9,495 L1373.4,497.1 L1372.6,499.1 L1372.7,501.1 L1372.2,502.8 L1370.2,504.4 L1369,506.1 L1367.7,507.8 L1365.6,509.4 L1365.2,511.1 L1364.7,513.2 L1363.8,515.3 L1363.9,517.4 L1364,519.6 L1366.3,521.8 L1366.2,524 L1367.7,526.2 L1368.4,528.2 L1369.6,530.2 L1370.1,532.3 L1370.4,534.3 L1371.5,536.3 L1372.1,538.5 L1372.8,540.6 L1373.8,542.8 L1373.9,545 L1373.9,548.5 L1372.5,550.6 L1372.6,552.8 L1371.3,554.9 L1371.1,557 L1371.3,559.3 L1372.7,561.5 L1372.8,563.8 L1373.5,566 L1373.9,568.3 L1374.9,570.6 L1375.8,572.8 L1375.5,575.1 L1376.4,577.3 L1376.8,579.6 L1374.8,580.6 L1372.8,581.6 L1371.1,582.6 L1368.6,583.6 L1366.7,584.6 L1364.6,585.6 L1362.6,586.6 L1364.5,588.6 L1365.2,590.6 L1366.7,592.5 L1368,594.5 L1368.3,596.5 L1368.4,598.8 L1369.5,601.1 L1370.8,603.3 L1371.2,605.6 L1371.1,607.9 L1371.3,609.9 L1372.1,611.8 L1373.5,613.8 L1373.7,615.7 L1375.3,617.7 L1374.6,619.8 L1374.1,622 L1374.9,624.1 L1374.9,626.2 L1374.8,628.4 L1373.9,630.5 L1373.9,632.8 L1375.4,635 L1375.9,637.3 L1375.6,639.5 L1376.8,641.8 L1376.1,643.2 L1374.8,644.6 L1372,646 L1371.9,647.5 L1369.5,648.9 L1368.2,650.3 L1367.7,651.7 L1365.4,653.1 L1365.7,655.4 L1364.2,657.6 L1364.4,659.9 L1364.3,662.1 L1364,664.4 L1365.4,665.8 L1366.8,667.2 L1368.6,668.6 L1371,670.1 L1371.4,671.5 L1373.9,672.9 L1376,673.7 L1377.8,674.6 L1379,675.4 L1381.5,676.3 L1383.8,677.1 L1382.1,677.9 L1380.1,678.7 L1377.4,679.5 L1377.2,680.3 L1374.9,681 L1373.4,681.8 L1369.9,682.6 L1368.4,683.4 L1366.9,684.2 L1366.4,686.3 L1368.1,688.5 L1367.5,690.6 L1368.3,692.7 L1369.5,694.6 L1371.9,696.4 L1373.9,698.3 L1372.5,699.4 L1370.2,700.5 L1367.1,701.5 L1365.4,702.6 L1362.7,703.9 L1361.2,705.2 L1361,723.8 L1358.7,724.9 L1356.4,723.8 L1354.9,724.9 L1353.5,726.2 L1352,725.5 L1350.6,726.3 L1349.1,728.4 L1347.6,728.1 L1346.1,726.5 L1344.6,724.8 L1343.1,726.2 L1341.6,724.6 L1340.1,724.2 L1338.6,721.5 L1337.1,722.6 L1335.6,719.7 L1334.1,721 L1332.6,719.2 L1331.1,719.6 L1329.5,719.9 L1328,721 L1326.4,722.6 L1324.9,721.4 L1323.4,721.6 L1321.8,723.2 L1320.3,723 L1318.8,723.2 L1317.2,723.9 L1315.7,724.2 L1314.1,725.2 L1312.6,726.5 L1311.1,724.9 L1309.7,723.8 L1308.2,723.9 L1306.8,721.6 L1305.3,721 L1303.7,720.9 L1302.1,720 L1300.5,720.3 L1298.9,719.3 L1297.2,719.8 L1295.6,719.1 L1294,720.9 L1292.4,720.3 L1290.8,719.2 L1289.2,719.9 L1287.6,721 L1286,718.7 L1284.3,720.5 L1282.7,719.3 L1281.1,719.4 L1279.5,720.2 L1277.9,719.2 L1276.7,720 L1275.4,721.4 L1274.2,722.9 L1273,724.7 L1271.7,724.1 L1270.5,725.6 L1269.8,724.9 L1269,723 L1268.3,721.3 L1267.6,719.2 L1266.8,717.5 L1266.1,715.1 L1265.4,713.8 L1264.7,712.1 L1263.9,712.3 L1263.2,710.1 L1262,708.2 L1260.8,706.8 L1259.6,706.4 L1257.8,705.6 L1255.9,707.8 L1254.1,708.1 L1252.3,707.4 L1251.2,709 L1250.1,709.2 L1249,710.3 L1247.9,711.6 L1246.8,713.2 L1245.7,713.6 L1244.6,715.5 L1243.5,716.2 L1242.4,719.2 L1241.3,719.2 L1239.6,720.5 L1238,719.5 L1236.3,718.8 L1234.7,720.7 L1233,719.1 L1231.3,719.3 L1229.7,718.5 L1228,719.5 L1226.4,719.9 L1224.7,720 L1223,719.3 L1221.4,720.2 L1219.7,719 L1218.1,719.7 L1216.4,719.4 L1214.8,720.2 L1213.1,719.4 L1211.4,719.4 L1209.8,720.2 L1208.1,720.1 L1206.5,721.1 L1204.8,721 L1203.1,721.2 L1201.4,721.9 L1199.7,721.8 L1198.1,722.1 L1196.4,722.7 L1194.7,721.6 L1193,721.6 L1191.3,723.4 L1189.6,721.4 L1188,723 L1186.3,723 L1184.6,721.6 L1182.9,722.9 L1181.5,722.6 L1180.2,721.6 L1178.8,719.8 L1177.4,718.9 L1176,718 L1174.7,715.1 L1173.3,714.9 L1171.9,713.7 L1170.2,713.8 L1168.5,714.8 L1166.8,714.9 L1165.1,715.1 L1163.4,714.6 L1161.7,715.5 L1160,714.6 L1158.8,714.6 L1158,716.6 L1157.1,718.1 L1156.2,718.4 L1155.4,720.6 L1153.7,719.7 L1152,720.3 L1150.3,721.2 L1148.6,720.8 L1146.8,723 L1145.1,722.6 L1143.4,723.1 L1141.7,723.1 L1140,723.5 L1138.3,723.7 L1136.6,723.3 L1134.9,722.1 L1133.2,724.2 L1131.5,724.1 L1129.8,723.6 L1128.1,723.7 L1126.4,724.1 L1124.7,722.6 L1123,724.4 L1121.3,723.2 L1119.6,722.8 L1117.9,724 L1116.6,722.4 L1115.3,722.7 L1114,720.3 L1112.8,720.8 L1111.5,720.4 L1110.2,718.2 L1108.9,717 L1107.6,716.3 L1105.9,716.5 L1104.2,717.3 L1102.5,717.8 L1100.8,717.6 L1099.1,718 L1097.4,716.8 L1095.7,717.2 L1094,717.7 L1092.3,719.3 L1090.6,718.9 L1089,718.5 L1087.4,719.3 L1085.7,718 L1084.1,718.2 L1082.5,718.9 L1080.9,720.1 L1079.2,720.2 L1077.6,720.3 L1076,719.4 L1074.4,720.1 L1072.7,720.1 L1071.1,720.2 L1069.5,719.5 L1067.9,721.6 L1066.2,719.9 L1064.6,722 L1063,722.1 L1061.4,719.8 L1059.7,721.1 L1058.1,722.1 L1056.5,721.4 L1054.9,722.6 L1053.3,721.3 L1051.7,720.8 L1050.1,720.6 L1048.5,722.6 L1046.9,720.6 L1045.3,721.6 L1043.7,720.5 L1042,721.5 L1040.4,722.6 L1038.8,720.4 L1037.2,722.2 L1035.6,721.4 L1034,722.4 L1032.4,721.9 L1030.8,720.7 L1029.2,721.4 L1028,721 L1026.9,718.5 L1025.8,715.9 L1024.6,714.4 L1023.4,714.3 L1022.3,712.9 L1020.6,712.3 L1018.9,712 L1017.6,712.6 L1016.4,713.2 L1015.1,714.8 L1013.8,715.8 L1012.5,718.3 L1011.2,717.2 L1010,720.2 L1008.7,720.6 L1007,721.6 L1005.3,719.9 L1003.6,722.1 L1001.9,721.7 L1000.2,722.4 L998.5,720.9 L996.7,721.3 L995,721.5 L993.3,723.2 L991.6,722.2 L989.9,721.8 L988.2,722.3 L986.5,722.2 L984.8,721.8 L983.1,721.3 L981.4,721.5 L979.7,723.5 L978,722.1 L976.2,723.8 L974.5,722.1 L972.8,722.2 L971.1,722.9 L969.4,722.1 L967.7,722.7 L966,724.2 L964.3,723.1 L963.2,725.6 L962.2,726.9 L961.1,727.9 L960.1,729.1 L959,728.8 L957.9,727.6 L956.8,725.2 L955.7,724.3 L954.6,721.2 L953.5,721.6 L952.4,719.7 L950.7,719.4 L949,720 L947.3,719.5 L945.6,718.4 L943.9,717.6 L942.2,719.7 L940.5,717.4 L938.8,718.1 L937.1,718 L935.4,717.5 L933.7,717.3 L932,718.4 L930.3,718.9 L928.5,717 L926.8,717.9 L925.1,716.9 L923.4,717.5 L921.7,717 L920,717.2 L918.4,716.7 L916.7,717 L915.1,717.5 L913.4,719.6 L911.8,718.9 L910.1,719 L908.4,718.4 L906.7,720.3 L904.9,720.6 L903.2,719.3 L901.5,718.6 L899.8,719.7 L898.4,720.1 L897,720.9 L895.5,722.7 L894.1,723.2 L892.7,724.8 L891.3,726.6 L889.6,726.1 L887.9,727 L886.1,728 L884.4,727.8 L882.7,727 L881,727.4 L879.8,726 L878.6,725.1 L877.4,723.5 L876.2,722.2 L875,720.3 L873.9,719.7 L872.7,720.3 L871.5,716.9 L870.3,716.7 L869.1,715.5 L867.4,715.8 L865.7,716.3 L864,714.5 L862.3,714.6 L860.6,714.4 L858.8,714.7 L857.1,714.8 L855.4,716 L853.7,715.7 L852,715.7 L850.3,714.6 L849.4,714.7 L848.6,716.2 L847.8,719.3 L846.9,721.2 L846,721.5 L845.2,723.2 L844.4,723 L843.5,725.7 L841.8,725.4 L840.1,726.8 L838.4,726.5 L836.7,726.6 L835,726.9 L833.3,725 L831.6,724.7 L829.9,724.8 L828.2,725.8 L826.5,725.7 L824.8,726 L823.1,726.5 L821.3,725.8 L819.6,725.4 L817.9,724.9 L816.6,724.5 L815.4,722.6 L814.1,721.8 L812.8,719.4 L811.5,720.3 L810.2,717.8 L809,718.5 L807.7,716.3 L806.6,718.1 L805.4,718.7 L804.3,719.6 L803.2,721.4 L802,723.8 L800.9,724.9 L799.7,724.2 L798.4,721.4 L797.2,720.1 L796,720 L794.8,719 L793.5,717.2 L792.3,716.3 L790.6,715.3 L788.9,716 L787.2,714.2 L785.5,714.7 L783.8,714.8 L782.1,714.6 L780.4,716.4 L778.7,716.3 L777,717.5 L775.3,717.2 L773.6,717.1 L771.9,716.5 L770.2,716.5 L768.5,718.4 L766.8,717.7 L765,716.7 L763.3,716 L761.6,717.2 L759.9,717.7 L758.2,717.2 L756.5,717.2 L754.8,717.1 L753.1,718.4 L751.4,719.3 L749.7,717.7 L748,717.5 L746.3,718.5 L744.6,719 L742.9,719.9 L741.2,719.7 L739.7,719.9 L738.2,722.4 L736.7,723.2 L735.2,723.6 L733.7,723.7 L732.2,726.7 L730.7,725.9 L729.2,727.4 L727.7,727.2 L726.1,724.7 L724.5,723.7 L723,724.1 L721.5,721.9 L719.9,721.4 L718.7,723.8 L717.5,723.7 L716.4,724.1 L715.2,725.4 L714,727.1 L712.9,728.9 L711.7,730.8 L710.5,730.8 L709.2,728.8 L707.9,728.4 L706.6,726.9 L705.4,727.8 L704.1,724.6 L702.8,723.3 L701.5,722.2 L700.2,722.3 L698.5,721.6 L696.8,722.5 L695.1,722 L693.4,721.2 L691.7,721.4 L690,719.7 L688.4,720.8 L686.7,719.3 L685.1,718.9 L683.4,720.8 L681.8,719.7 L680.1,720.3 L678.4,718.3 L676.7,719.9 L675,719.1 L673.2,719 L671.5,718.8 L669.8,718.3 L668.1,717.8 L666.4,718.4 L664.7,718.9 L663,718.3 L661.3,719.7 L659.6,717.4 L657.9,719.4 L656.2,717.3 L654.4,717.5 L652.7,718.5 L651,718.4 L649.3,717.2 L647.6,717.2 L645.9,715.9 L644.2,716.8 L642.5,716.4 L640.8,717.6 L639.1,715.6 L637.4,715.8 L635.7,717 L634,714.6 L632.3,715.4 L630.6,715.5 L628.9,716.2 L627.2,715.9 L625.5,713.9 L623.7,713.7 L622,713.6 L620.3,714.6 L619.2,717 L618,716.5 L616.9,719.1 L615.8,720.8 L614.6,720.6 L613.5,722.3 L611.8,722 L610.1,724.2 L608.4,723.6 L606.7,723 L605,724.6 L603.3,723.9 L601.6,724.1 L599.9,723.7 L598.2,726 L596.5,725.7 L594.9,726.7 L593.3,725.8 L591.7,726.5 L590.1,724 L588.5,724.5 L586.9,725 L585.3,726.1 L583.7,726 L582.1,724.4 L580.5,724 L578.9,724.3 L577.3,724.4 L575.7,725.4 L574.1,723.4 L572.5,724.9 L570.9,724 L569.7,723.3 L568.4,722.2 L567.2,720.7 L566,718.9 L564.8,716.8 L563.5,715.5 L562.3,714.6 L560.6,713.4 L558.9,713.6 L557.2,712 L555.5,711.6 L553.8,712.6 L552.1,714.8 L550.4,714.1 L548.7,715.5 L547.4,715.5 L546.2,716.6 L544.9,719.2 L543.6,719.7 L542.3,722.6 L541,723.5 L539.8,725 L538.5,724.9 L536.8,724.5 L535.1,724.2 L533.4,724.5 L531.6,725.7 L529.9,726.5 L528.2,726 L526.5,725.7 L524.8,726.6 L523.1,726.1 L521.4,726.3 L519.7,725.7 L518.9,724.6 L518.2,723.3 L517.4,722 L516.7,720 L515.9,717.1 L515.2,717.5 L514.4,714.5 L513.7,713.7 L512.9,712 L511.6,710.3 L510.4,709.9 L509.1,707.2 L507.8,706.6 L506.1,705.9 L504.4,705.9 L502.7,705.7 L501,706.6 L499.6,708.6 L498.1,708.7 L496.7,709.5 L495.7,710.5 L494.7,712.1 L493.7,715 L492.7,715.2 L491.7,715.9 L490.7,718 L489,719 L487.3,718.8 L485.6,719.9 L483.9,717.8 L482.1,719 L480.4,720.1 L478.7,720.4 L477,719.7 L475.3,720.9 L473.6,718.7 L471.9,719.4 L470.2,719.1 L468.5,719.3 L466.8,721.5 L465.1,720.5 L463.4,721.5 L461.7,720.2 L460,720.6 L458.4,722.2 L456.7,721.8 L455.1,722 L453.4,724 L451.8,724 L450.1,725.2 L448.4,723.2 L446.7,724.5 L445,724.7 L443.2,723.7 L441.5,724.2 L439.8,723.7 L438.1,724 L436.4,724.2 L434.7,724.9 L433,724.9 L431.3,724.8 L429.6,723.3 L427.9,722.6 L426.1,723.2 L424.4,723.8 L422.7,722.3 L421,722.3 L419.3,721.8 L417.6,722.3 L415.9,723.1 L414.2,722.4 L412.5,721.2 L410.8,721.3 L409.1,722 L407.4,722.4 L405.7,722.7 L404,721.2 L402.3,721.4 L400.6,722.3 L398.9,722.6 L397.2,721.7 L395.5,721.2 L393.8,721.1 L392.1,722.6 L390.3,720.8 L388.6,721.3 L386.9,720.6 L385.2,720.6 L383.5,720.6 L381.8,721.2 L380.1,721.2 L378.4,719.2 L376.7,718.5 L375,719.5 L373.3,717.8 L371.6,716.9 L369.9,718.9 L368.2,717.3 L366.5,717.2 L365.1,717 L363.7,714.9 L362.4,715.1 L361,712.9 L359.6,712 L357.9,711.4 L356.2,711.3 L354.5,713 L352.8,713.6 L351.1,714.6 L349.4,713.8 L347.7,712.8 L346,714.3 L344.3,713.7 L342.6,714.1 L340.9,713.3 L339.1,713.7 L337.4,714.4 L335.7,715.5 L334,713.5 L332.3,714.6 L330.6,714.7 L328.9,715.6 L327.2,716.1 L325.5,714.2 L323.8,714.1 L322.1,716.4 L320.4,716.5 L318.7,715.4 L317,715.5 L315.3,715.2 L313.6,718.3 L311.9,717.8 L310.2,718.9 L309,721.3 L307.7,721.9 L306.5,723.8 L305.3,723.4 L304.1,726.4 L302.8,726.2 L301.6,728.3 L299.9,728.1 L298.2,729.3 L296.5,729.4 L294.8,727.7 L293.1,727.9 L291.4,728.4 L289.7,728.8 L288,728.5 L286.3,727.9 L284.6,728.3 L282.9,729.6 L281.2,729.1 L280.4,728 L279.5,724.9 L278.1,722.6 L276.6,722.8 L275.2,722.1 L273.8,719.1 L272.3,720 L270.9,718 L269.2,717.7 L267.5,719.6 L265.8,720.1 L264.1,720.6 L262.6,721.8 L261.2,721.8 L259.7,723 L258.3,724.2 L256.8,724.7 L255.4,726.2 L253.9,726.6 L252.2,726.6 L250.5,726.6 L248.8,725.7 L247.1,727.3 L245.3,727.1 L243.6,726.5 L241.9,728 L240.2,727.4 L239.2,726.8 L238.1,724.6 L237.1,722.5 L236,721.9 L235,720.6 L233.3,718.4 L231.7,717.4 L230,717.2 L228.3,716.8 L226.6,715.8 L225,716.5 L223.3,716.5 L221.6,715.2 L219.9,716.5 L218.2,714.9 L216.6,716.4 L214.9,716.4 L213.2,715.5 L211.5,715.4 L209.8,714.2 L208.1,715.2 L206.4,714.8 L204.7,716.2 L203,714 L201.3,715.8 L199.6,716.1 L197.9,715.3 L196.2,714.6 L194.5,715.5 L192.8,714.1 L191.1,716.2 L189.3,715.1 L187.6,716.4 L185.9,716.5 L184.2,715.5 L183.1,716 L181.9,719.1 L180.8,720.9 L179.7,720 L178.5,722.2 L177.4,724 L175.7,724.7 L174,723.1 L172.3,725 L170.6,723.4 L168.9,724 L168.4,723.1 L167.9,719.7 L167.3,718.9 L166.8,718.3 L166.3,715.5 L164.3,714.2 L162.3,713.8 L160.3,713.8 L158.9,714.8 L157.6,715.4 L156.2,715.7 L154.9,717.1 L153.5,718.9 L152.1,718.9 L150.7,721.7 L149.2,721.9 L147.8,723.3 L146.4,722.3 L145,724 L143.3,724.7 L141.6,723 L139.9,724.1 L138.2,724.4 L136.5,723.6 L134.8,725 L133.1,724.1 L131.3,724.2 L129.6,725 L127.9,723 L126.2,725.3 L124.5,724.3 L122.8,723.7 L121.1,724.8 L119.4,724 L117.7,723.3 L116,725.1 L114.3,723.9 L112.6,723.3 L110.8,724.2 L109.1,723.3 L107.4,722.5 L105.7,723.9 L104,722 L102.3,723.1 L100.6,723.8 L98.9,722.2 L97.2,723 L95.5,723.7 L93.8,722.6 L92.1,722.6 L90.4,721.5 L88.7,720.6 L87,720.5 L85.3,720.6 L83.6,721.4 L82.2,720.7 L80.7,719.3 L79.3,718.5 L77.9,718.5 L76.4,715.5 L75,715.5 L73.8,713.7 L72.5,713.7 L71.2,711 L70,711.2 L68.5,709.1 L67,709.1 L65.5,707.6 L64,707.8 L62.5,708.5 L61,709.2 L59.5,711.2 L58,712 L56.8,713.4 L55.7,713.5 L54.5,715.8 L53.3,716.5 L52.2,716.8 L51,718.9 L49.3,720.2 L47.6,718.6 L45.9,718.5 L44.2,718.5 L42.5,720.1 L40.8,720.9 L39.1,720.8 L37.4,720 L35.7,719.8 L34,720.6 L32.3,719.2 L30.6,720.6 L28.9,720.3 L27.2,719.5 L25.5,720.1 L23.8,719.4 L22.1,720.5 L20.4,719.8 L18.7,718.4 L17,718.9 L15.3,719.4 L13.6,716.6 L11.9,717.2 L10.5,718.1 L9.1,718.6 L7.7,719.7 L6.2,720.1 L4.6,720.6 L3.1,723.5 L1.5,722.6 L0,724.9 Z" transform="translate(6,8)" fill="#575757" filter="url(#blur)"/>
<g clip-path="url(#upperclip)"><path d="M0,0 L1384.7,0 L1382.3,0.4 L1379.9,0.9 L1378.4,1.3 L1376.3,2.1 L1373,3 L1371.5,3.8 L1369.1,4.6 L1366.9,5.3 L1364.4,5.9 L1363.2,6.6 L1362.5,8.6 L1362.5,11.4 L1362.5,14.3 L1363.7,16.1 L1366.5,17.9 L1368.4,19.5 L1370.5,21.2 L1372.8,24.2 L1374.1,27.2 L1371.5,28.6 L1369.1,30.6 L1367.4,32.5 L1366.5,34.5 L1366.5,37.2 L1368.4,39.2 L1370.5,41.2 L1373.2,42.3 L1374.1,43.3 L1376.4,44.4 L1379.2,45.4 L1381.1,46.5 L1379.5,47.5 L1376.4,48.5 L1373.8,49.5 L1371.6,50.2 L1370.6,50.8 L1367.7,51.5 L1365.4,53.2 L1365.3,55 L1363.2,56.7 L1365.2,58 L1367.2,59.2 L1370.2,60.5 L1371.5,61.4 L1373.8,62.3 L1376.7,63.2 L1377.5,64.1 L1380.2,65 L1382.3,65.9 L1384,66.8 L1381.9,67.6 L1380.3,68.5 L1377.6,69.3 L1375.7,70.1 L1374.1,71 L1372.7,71.8 L1371,72.8 L1368.6,73.8 L1366.4,74.8 L1364.9,75.8 L1362.7,76.8 L1364.3,78.1 L1365.7,79.3 L1367.7,80.6 L1370.1,81.5 L1371.8,82.5 L1372.9,83.5 L1375.4,84.4 L1377.2,85.3 L1379.7,86.3 L1381.3,87.2 L1382.8,88.2 L1380.9,89.7 L1380.7,91.2 L1377.6,92.7 L1376.7,94.2 L1375.3,95.7 L1374.1,97.1 L1371.4,98.6 L1370.4,100 L1368,101.5 L1367.5,102.9 L1366.1,104.4 L1364,105.8 L1365.4,107.5 L1367.1,109.1 L1367.7,110.8 L1369.3,112.4 L1371.9,113.9 L1373.6,115.5 L1375.3,117.1 L1374,118.6 L1372.3,120.1 L1371.5,121.5 L1370.2,123 L1367.8,124.5 L1366.4,126 L1368.3,127.2 L1368.8,128.5 L1371.5,129.8 L1372.7,131 L1375,132.3 L1377.6,133.5 L1379.3,134.8 L1380.4,136 L1382.8,137.3 L1381.6,139 L1381.1,140.8 L1378.9,142.5 L1378.7,144.3 L1377.8,146 L1375.6,147.5 L1373.9,148.9 L1372.1,150.4 L1371.8,151.8 L1369,153.3 L1367.6,154.7 L1366.4,156.2 L1367.2,158.2 L1369.1,160.2 L1368.7,162.2 L1370.4,164.2 L1371.5,166.2 L1371.3,168.2 L1371.7,170.2 L1371.3,172.3 L1371.1,174.3 L1370.2,176.3 L1370.2,178.5 L1370.9,180.8 L1371.5,183 L1371.6,185.3 L1373,187.7 L1372.7,190 L1375.1,191.9 L1375.2,193.8 L1376.8,195.7 L1379,197.6 L1376.6,198.7 L1374.8,199.7 L1373.3,200.8 L1371.6,201.9 L1369.2,202.9 L1367.7,204 L1367.8,205.9 L1369.5,207.8 L1370.3,209.6 L1371.5,211.5 L1373.5,213.1 L1376.1,214.7 L1377.5,216.2 L1379,217.8 L1379.3,219.8 L1379.7,221.8 L1380.1,223.9 L1379.2,225.9 L1380.3,227.9 L1379.1,228.7 L1377,229.6 L1375.3,230.4 L1373.3,231.2 L1370.7,232.1 L1369,232.9 L1368.6,235 L1367.9,237.1 L1368.6,239.2 L1367.3,241.3 L1367.1,243.4 L1367.7,245.5 L1368.7,247 L1370.1,248.5 L1372,250 L1373,251.5 L1375.3,253 L1375.8,254.5 L1377.5,256 L1378.8,257.6 L1380.7,259.1 L1382.3,260.6 L1380.3,262.7 L1380.8,264.8 L1379,266.9 L1377.4,268.4 L1374.8,269.9 L1373.3,271.5 L1371.7,273 L1370.2,274.5 L1370.3,276.7 L1370.2,278.9 L1371.8,281.1 L1371.5,283.3 L1373.6,285.8 L1374,288.3 L1372.6,289.8 L1371.3,291.3 L1369.2,292.9 L1367.8,294.4 L1367.2,295.9 L1368.3,297.8 L1369.5,299.7 L1371.8,301.5 L1372,303.4 L1373.1,305.3 L1375.3,307.2 L1374.6,309 L1372.3,310.7 L1370.1,312.5 L1369.3,314.2 L1367.7,316 L1366.3,318 L1366.8,320 L1367.1,322.1 L1366.4,324.1 L1365.2,326.1 L1364.8,328.4 L1363.3,330.6 L1362.7,332.9 L1361.6,335.1 L1361.4,337.4 L1363.8,338.2 L1365.3,339 L1367.7,339.8 L1368.9,340.6 L1370.6,341.4 L1373.6,342.2 L1375.9,343 L1377.6,343.8 L1379.5,344.6 L1381.4,345.4 L1382.8,346.2 L1381.6,347.5 L1379,348.7 L1377.8,350 L1375.9,350.9 L1373.6,351.8 L1371,352.7 L1369.1,353.6 L1367.5,354.5 L1365.5,355.4 L1364,356.3 L1364.6,359.1 L1364.5,362 L1365.6,364.6 L1364.9,367.1 L1365.2,369.7 L1366,372 L1366.1,374.3 L1366,376.6 L1365.2,378.9 L1367.1,380.2 L1368.9,381.4 L1371.5,382.7 L1372.8,384.2 L1374.5,385.7 L1376.2,387.2 L1378.8,388.7 L1380.3,390.2 L1382.3,392.1 L1383.4,394 L1384,395.9 L1385.3,397.8 L1384.7,400 L1384,402.2 L1381.8,404.4 L1381.6,406.6 L1380.4,408 L1379.5,409.5 L1377.8,410.9 L1376.3,412.4 L1374.3,413.8 L1372.4,415.3 L1371.5,416.7 L1373.5,418.2 L1374.1,419.6 L1376.4,421.1 L1378.2,422.6 L1378.6,424 L1380.3,425.5 L1379.9,427.5 L1380.6,429.5 L1379.9,431.6 L1378.7,433.6 L1379,435.6 L1376.8,437 L1375.2,438.4 L1375,439.8 L1373.3,441.2 L1370.5,442.7 L1370.1,444.1 L1368.8,445.5 L1366.4,446.9 L1368.1,448.3 L1369,449.8 L1370.8,451.2 L1371.5,452.7 L1372.7,454.1 L1375.9,455.6 L1376.5,457 L1375.2,458.4 L1373.4,459.8 L1372.6,461.2 L1370.1,462.6 L1369.3,464.1 L1367.6,465.5 L1365,466.9 L1363.9,468.3 L1365.2,469.8 L1367,471.3 L1368.7,472.9 L1371.1,474.4 L1372.7,475.9 L1372.9,478.4 L1374,480.9 L1373.6,482.9 L1372.8,484.9 L1374,487 L1372.7,489 L1372.7,491 L1372.6,493 L1372.9,495 L1373.4,497.1 L1372.6,499.1 L1372.7,501.1 L1372.2,502.8 L1370.2,504.4 L1369,506.1 L1367.7,507.8 L1365.6,509.4 L1365.2,511.1 L1364.7,513.2 L1363.8,515.3 L1363.9,517.4 L1364,519.6 L1366.3,521.8 L1366.2,524 L1367.7,526.2 L1368.4,528.2 L1369.6,530.2 L1370.1,532.3 L1370.4,534.3 L1371.5,536.3 L1372.1,538.5 L1372.8,540.6 L1373.8,542.8 L1373.9,545 L1373.9,548.5 L1372.5,550.6 L1372.6,552.8 L1371.3,554.9 L1371.1,557 L1371.3,559.3 L1372.7,561.5 L1372.8,563.8 L1373.5,566 L1373.9,568.3 L1374.9,570.6 L1375.8,572.8 L1375.5,575.1 L1376.4,577.3 L1376.8,579.6 L1374.8,580.6 L1372.8,581.6 L1371.1,582.6 L1368.6,583.6 L1366.7,584.6 L1364.6,585.6 L1362.6,586.6 L1364.5,588.6 L1365.2,590.6 L1366.7,592.5 L1368,594.5 L1368.3,596.5 L1368.4,598.8 L1369.5,601.1 L1370.8,603.3 L1371.2,605.6 L1371.1,607.9 L1371.3,609.9 L1372.1,611.8 L1373.5,613.8 L1373.7,615.7 L1375.3,617.7 L1374.6,619.8 L1374.1,622 L1374.9,624.1 L1374.9,626.2 L1374.8,628.4 L1373.9,630.5 L1373.9,632.8 L1375.4,635 L1375.9,637.3 L1375.6,639.5 L1376.8,641.8 L1376.1,643.2 L1374.8,644.6 L1372,646 L1371.9,647.5 L1369.5,648.9 L1368.2,650.3 L1367.7,651.7 L1365.4,653.1 L1365.7,655.4 L1364.2,657.6 L1364.4,659.9 L1364.3,662.1 L1364,664.4 L1365.4,665.8 L1366.8,667.2 L1368.6,668.6 L1371,670.1 L1371.4,671.5 L1373.9,672.9 L1376,673.7 L1377.8,674.6 L1379,675.4 L1381.5,676.3 L1383.8,677.1 L1382.1,677.9 L1380.1,678.7 L1377.4,679.5 L1377.2,680.3 L1374.9,681 L1373.4,681.8 L1369.9,682.6 L1368.4,683.4 L1366.9,684.2 L1366.4,686.3 L1368.1,688.5 L1367.5,690.6 L1368.3,692.7 L1369.5,694.6 L1371.9,696.4 L1373.9,698.3 L1372.5,699.4 L1370.2,700.5 L1367.1,701.5 L1365.4,702.6 L1362.7,703.9 L1361.2,705.2 L1361,723.8 L1358.7,724.9 L1356.4,723.8 L1354.9,724.9 L1353.5,726.2 L1352,725.5 L1350.6,726.3 L1349.1,728.4 L1347.6,728.1 L1346.1,726.5 L1344.6,724.8 L1343.1,726.2 L1341.6,724.6 L1340.1,724.2 L1338.6,721.5 L1337.1,722.6 L1335.6,719.7 L1334.1,721 L1332.6,719.2 L1331.1,719.6 L1329.5,719.9 L1328,721 L1326.4,722.6 L1324.9,721.4 L1323.4,721.6 L1321.8,723.2 L1320.3,723 L1318.8,723.2 L1317.2,723.9 L1315.7,724.2 L1314.1,725.2 L1312.6,726.5 L1311.1,724.9 L1309.7,723.8 L1308.2,723.9 L1306.8,721.6 L1305.3,721 L1303.7,720.9 L1302.1,720 L1300.5,720.3 L1298.9,719.3 L1297.2,719.8 L1295.6,719.1 L1294,720.9 L1292.4,720.3 L1290.8,719.2 L1289.2,719.9 L1287.6,721 L1286,718.7 L1284.3,720.5 L1282.7,719.3 L1281.1,719.4 L1279.5,720.2 L1277.9,719.2 L1276.7,720 L1275.4,721.4 L1274.2,722.9 L1273,724.7 L1271.7,724.1 L1270.5,725.6 L1269.8,724.9 L1269,723 L1268.3,721.3 L1267.6,719.2 L1266.8,717.5 L1266.1,715.1 L1265.4,713.8 L1264.7,712.1 L1263.9,712.3 L1263.2,710.1 L1262,708.2 L1260.8,706.8 L1259.6,706.4 L1257.8,705.6 L1255.9,707.8 L1254.1,708.1 L1252.3,707.4 L1251.2,709 L1250.1,709.2 L1249,710.3 L1247.9,711.6 L1246.8,713.2 L1245.7,713.6 L1244.6,715.5 L1243.5,716.2 L1242.4,719.2 L1241.3,719.2 L1239.6,720.5 L1238,719.5 L1236.3,718.8 L1234.7,720.7 L1233,719.1 L1231.3,719.3 L1229.7,718.5 L1228,719.5 L1226.4,719.9 L1224.7,720 L1223,719.3 L1221.4,720.2 L1219.7,719 L1218.1,719.7 L1216.4,719.4 L1214.8,720.2 L1213.1,719.4 L1211.4,719.4 L1209.8,720.2 L1208.1,720.1 L1206.5,721.1 L1204.8,721 L1203.1,721.2 L1201.4,721.9 L1199.7,721.8 L1198.1,722.1 L1196.4,722.7 L1194.7,721.6 L1193,721.6 L1191.3,723.4 L1189.6,721.4 L1188,723 L1186.3,723 L1184.6,721.6 L1182.9,722.9 L1181.5,722.6 L1180.2,721.6 L1178.8,719.8 L1177.4,718.9 L1176,718 L1174.7,715.1 L1173.3,714.9 L1171.9,713.7 L1170.2,713.8 L1168.5,714.8 L1166.8,714.9 L1165.1,715.1 L1163.4,714.6 L1161.7,715.5 L1160,714.6 L1158.8,714.6 L1158,716.6 L1157.1,718.1 L1156.2,718.4 L1155.4,720.6 L1153.7,719.7 L1152,720.3 L1150.3,721.2 L1148.6,720.8 L1146.8,723 L1145.1,722.6 L1143.4,723.1 L1141.7,723.1 L1140,723.5 L1138.3,723.7 L1136.6,723.3 L1134.9,722.1 L1133.2,724.2 L1131.5,724.1 L1129.8,723.6 L1128.1,723.7 L1126.4,724.1 L1124.7,722.6 L1123,724.4 L1121.3,723.2 L1119.6,722.8 L1117.9,724 L1116.6,722.4 L1115.3,722.7 L1114,720.3 L1112.8,720.8 L1111.5,720.4 L1110.2,718.2 L1108.9,717 L1107.6,716.3 L1105.9,716.5 L1104.2,717.3 L1102.5,717.8 L1100.8,717.6 L1099.1,718 L1097.4,716.8 L1095.7,717.2 L1094,717.7 L1092.3,719.3 L1090.6,718.9 L1089,718.5 L1087.4,719.3 L1085.7,718 L1084.1,718.2 L1082.5,718.9 L1080.9,720.1 L1079.2,720.2 L1077.6,720.3 L1076,719.4 L1074.4,720.1 L1072.7,720.1 L1071.1,720.2 L1069.5,719.5 L1067.9,721.6 L1066.2,719.9 L1064.6,722 L1063,722.1 L1061.4,719.8 L1059.7,721.1 L1058.1,722.1 L1056.5,721.4 L1054.9,722.6 L1053.3,721.3 L1051.7,720.8 L1050.1,720.6 L1048.5,722.6 L1046.9,720.6 L1045.3,721.6 L1043.7,720.5 L1042,721.5 L1040.4,722.6 L1038.8,720.4 L1037.2,722.2 L1035.6,721.4 L1034,722.4 L1032.4,721.9 L1030.8,720.7 L1029.2,721.4 L1028,721 L1026.9,718.5 L1025.8,715.9 L1024.6,714.4 L1023.4,714.3 L1022.3,712.9 L1020.6,712.3 L1018.9,712 L1017.6,712.6 L1016.4,713.2 L1015.1,714.8 L1013.8,715.8 L1012.5,718.3 L1011.2,717.2 L1010,720.2 L1008.7,720.6 L1007,721.6 L1005.3,719.9 L1003.6,722.1 L1001.9,721.7 L1000.2,722.4 L998.5,720.9 L996.7,721.3 L995,721.5 L993.3,723.2 L991.6,722.2 L989.9,721.8 L988.2,722.3 L986.5,722.2 L984.8,721.8 L983.1,721.3 L981.4,721.5 L979.7,723.5 L978,722.1 L976.2,723.8 L974.5,722.1 L972.8,722.2 L971.1,722.9 L969.4,722.1 L967.7,722.7 L966,724.2 L964.3,723.1 L963.2,725.6 L962.2,726.9 L961.1,727.9 L960.1,729.1 L959,728.8 L957.9,727.6 L956.8,725.2 L955.7,724.3 L954.6,721.2 L953.5,721.6 L952.4,719.7 L950.7,719.4 L949,720 L947.3,719.5 L945.6,718.4 L943.9,717.6 L942.2,719.7 L940.5,717.4 L938.8,718.1 L937.1,718 L935.4,717.5 L933.7,717.3 L932,718.4 L930.3,718.9 L928.5,717 L926.8,717.9 L925.1,716.9 L923.4,717.5 L921.7,717 L920,717.2 L918.4,716.7 L916.7,717 L915.1,717.5 L913.4,719.6 L911.8,718.9 L910.1,719 L908.4,718.4 L906.7,720.3 L904.9,720.6 L903.2,719.3 L901.5,718.6 L899.8,719.7 L898.4,720.1 L897,720.9 L895.5,722.7 L894.1,723.2 L892.7,724.8 L891.3,726.6 L889.6,726.1 L887.9,727 L886.1,728 L884.4,727.8 L882.7,727 L881,727.4 L879.8,726 L878.6,725.1 L877.4,723.5 L876.2,722.2 L875,720.3 L873.9,719.7 L872.7,720.3 L871.5,716.9 L870.3,716.7 L869.1,715.5 L867.4,715.8 L865.7,716.3 L864,714.5 L862.3,714.6 L860.6,714.4 L858.8,714.7 L857.1,714.8 L855.4,716 L853.7,715.7 L852,715.7 L850.3,714.6 L849.4,714.7 L848.6,716.2 L847.8,719.3 L846.9,721.2 L846,721.5 L845.2,723.2 L844.4,723 L843.5,725.7 L841.8,725.4 L840.1,726.8 L838.4,726.5 L836.7,726.6 L835,726.9 L833.3,725 L831.6,724.7 L829.9,724.8 L828.2,725.8 L826.5,725.7 L824.8,726 L823.1,726.5 L821.3,725.8 L819.6,725.4 L817.9,724.9 L816.6,724.5 L815.4,722.6 L814.1,721.8 L812.8,719.4 L811.5,720.3 L810.2,717.8 L809,718.5 L807.7,716.3 L806.6,718.1 L805.4,718.7 L804.3,719.6 L803.2,721.4 L802,723.8 L800.9,724.9 L799.7,724.2 L798.4,721.4 L797.2,720.1 L796,720 L794.8,719 L793.5,717.2 L792.3,716.3 L790.6,715.3 L788.9,716 L787.2,714.2 L785.5,714.7 L783.8,714.8 L782.1,714.6 L780.4,716.4 L778.7,716.3 L777,717.5 L775.3,717.2 L773.6,717.1 L771.9,716.5 L770.2,716.5 L768.5,718.4 L766.8,717.7 L765,716.7 L763.3,716 L761.6,717.2 L759.9,717.7 L758.2,717.2 L756.5,717.2 L754.8,717.1 L753.1,718.4 L751.4,719.3 L749.7,717.7 L748,717.5 L746.3,718.5 L744.6,719 L742.9,719.9 L741.2,719.7 L739.7,719.9 L738.2,722.4 L736.7,723.2 L735.2,723.6 L733.7,723.7 L732.2,726.7 L730.7,725.9 L729.2,727.4 L727.7,727.2 L726.1,724.7 L724.5,723.7 L723,724.1 L721.5,721.9 L719.9,721.4 L718.7,723.8 L717.5,723.7 L716.4,724.1 L715.2,725.4 L714,727.1 L712.9,728.9 L711.7,730.8 L710.5,730.8 L709.2,728.8 L707.9,728.4 L706.6,726.9 L705.4,727.8 L704.1,724.6 L702.8,723.3 L701.5,722.2 L700.2,722.3 L698.5,721.6 L696.8,722.5 L695.1,722 L693.4,721.2 L691.7,721.4 L690,719.7 L688.4,720.8 L686.7,719.3 L685.1,718.9 L683.4,720.8 L681.8,719.7 L680.1,720.3 L678.4,718.3 L676.7,719.9 L675,719.1 L673.2,719 L671.5,718.8 L669.8,718.3 L668.1,717.8 L666.4,718.4 L664.7,718.9 L663,718.3 L661.3,719.7 L659.6,717.4 L657.9,719.4 L656.2,717.3 L654.4,717.5 L652.7,718.5 L651,718.4 L649.3,717.2 L647.6,717.2 L645.9,715.9 L644.2,716.8 L642.5,716.4 L640.8,717.6 L639.1,715.6 L637.4,715.8 L635.7,717 L634,714.6 L632.3,715.4 L630.6,715.5 L628.9,716.2 L627.2,715.9 L625.5,713.9 L623.7,713.7 L622,713.6 L620.3,714.6 L619.2,717 L618,716.5 L616.9,719.1 L615.8,720.8 L614.6,720.6 L613.5,722.3 L611.8,722 L610.1,724.2 L608.4,723.6 L606.7,723 L605,724.6 L603.3,723.9 L601.6,724.1 L599.9,723.7 L598.2,726 L596.5,725.7 L594.9,726.7 L593.3,725.8 L591.7,726.5 L590.1,724 L588.5,724.5 L586.9,725 L585.3,726.1 L583.7,726 L582.1,724.4 L580.5,724 L578.9,724.3 L577.3,724.4 L575.7,725.4 L574.1,723.4 L572.5,724.9 L570.9,724 L569.7,723.3 L568.4,722.2 L567.2,720.7 L566,718.9 L564.8,716.8 L563.5,715.5 L562.3,714.6 L560.6,713.4 L558.9,713.6 L557.2,712 L555.5,711.6 L553.8,712.6 L552.1,714.8 L550.4,714.1 L548.7,715.5 L547.4,715.5 L546.2,716.6 L544.9,719.2 L543.6,719.7 L542.3,722.6 L541,723.5 L539.8,725 L538.5,724.9 L536.8,724.5 L535.1,724.2 L533.4,724.5 L531.6,725.7 L529.9,726.5 L528.2,726 L526.5,725.7 L524.8,726.6 L523.1,726.1 L521.4,726.3 L519.7,725.7 L518.9,724.6 L518.2,723.3 L517.4,722 L516.7,720 L515.9,717.1 L515.2,717.5 L514.4,714.5 L513.7,713.7 L512.9,712 L511.6,710.3 L510.4,709.9 L509.1,707.2 L507.8,706.6 L506.1,705.9 L504.4,705.9 L502.7,705.7 L501,706.6 L499.6,708.6 L498.1,708.7 L496.7,709.5 L495.7,710.5 L494.7,712.1 L493.7,715 L492.7,715.2 L491.7,715.9 L490.7,718 L489,719 L487.3,718.8 L485.6,719.9 L483.9,717.8 L482.1,719 L480.4,720.1 L478.7,720.4 L477,719.7 L475.3,720.9 L473.6,718.7 L471.9,719.4 L470.2,719.1 L468.5,719.3 L466.8,721.5 L465.1,720.5 L463.4,721.5 L461.7,720.2 L460,720.6 L458.4,722.2 L456.7,721.8 L455.1,722 L453.4,724 L451.8,724 L450.1,725.2 L448.4,723.2 L446.7,724.5 L445,724.7 L443.2,723.7 L441.5,724.2 L439.8,723.7 L438.1,724 L436.4,724.2 L434.7,724.9 L433,724.9 L431.3,724.8 L429.6,723.3 L427.9,722.6 L426.1,723.2 L424.4,723.8 L422.7,722.3 L421,722.3 L419.3,721.8 L417.6,722.3 L415.9,723.1 L414.2,722.4 L412.5,721.2 L410.8,721.3 L409.1,722 L407.4,722.4 L405.7,722.7 L404,721.2 L402.3,721.4 L400.6,722.3 L398.9,722.6 L397.2,721.7 L395.5,721.2 L393.8,721.1 L392.1,722.6 L390.3,720.8 L388.6,721.3 L386.9,720.6 L385.2,720.6 L383.5,720.6 L381.8,721.2 L380.1,721.2 L378.4,719.2 L376.7,718.5 L375,719.5 L373.3,717.8 L371.6,716.9 L369.9,718.9 L368.2,717.3 L366.5,717.2 L365.1,717 L363.7,714.9 L362.4,715.1 L361,712.9 L359.6,712 L357.9,711.4 L356.2,711.3 L354.5,713 L352.8,713.6 L351.1,714.6 L349.4,713.8 L347.7,712.8 L346,714.3 L344.3,713.7 L342.6,714.1 L340.9,713.3 L339.1,713.7 L337.4,714.4 L335.7,715.5 L334,713.5 L332.3,714.6 L330.6,714.7 L328.9,715.6 L327.2,716.1 L325.5,714.2 L323.8,714.1 L322.1,716.4 L320.4,716.5 L318.7,715.4 L317,715.5 L315.3,715.2 L313.6,718.3 L311.9,717.8 L310.2,718.9 L309,721.3 L307.7,721.9 L306.5,723.8 L305.3,723.4 L304.1,726.4 L302.8,726.2 L301.6,728.3 L299.9,728.1 L298.2,729.3 L296.5,729.4 L294.8,727.7 L293.1,727.9 L291.4,728.4 L289.7,728.8 L288,728.5 L286.3,727.9 L284.6,728.3 L282.9,729.6 L281.2,729.1 L280.4,728 L279.5,724.9 L278.1,722.6 L276.6,722.8 L275.2,722.1 L273.8,719.1 L272.3,720 L270.9,718 L269.2,717.7 L267.5,719.6 L265.8,720.1 L264.1,720.6 L262.6,721.8 L261.2,721.8 L259.7,723 L258.3,724.2 L256.8,724.7 L255.4,726.2 L253.9,726.6 L252.2,726.6 L250.5,726.6 L248.8,725.7 L247.1,727.3 L245.3,727.1 L243.6,726.5 L241.9,728 L240.2,727.4 L239.2,726.8 L238.1,724.6 L237.1,722.5 L236,721.9 L235,720.6 L233.3,718.4 L231.7,717.4 L230,717.2 L228.3,716.8 L226.6,715.8 L225,716.5 L223.3,716.5 L221.6,715.2 L219.9,716.5 L218.2,714.9 L216.6,716.4 L214.9,716.4 L213.2,715.5 L211.5,715.4 L209.8,714.2 L208.1,715.2 L206.4,714.8 L204.7,716.2 L203,714 L201.3,715.8 L199.6,716.1 L197.9,715.3 L196.2,714.6 L194.5,715.5 L192.8,714.1 L191.1,716.2 L189.3,715.1 L187.6,716.4 L185.9,716.5 L184.2,715.5 L183.1,716 L181.9,719.1 L180.8,720.9 L179.7,720 L178.5,722.2 L177.4,724 L175.7,724.7 L174,723.1 L172.3,725 L170.6,723.4 L168.9,724 L168.4,723.1 L167.9,719.7 L167.3,718.9 L166.8,718.3 L166.3,715.5 L164.3,714.2 L162.3,713.8 L160.3,713.8 L158.9,714.8 L157.6,715.4 L156.2,715.7 L154.9,717.1 L153.5,718.9 L152.1,718.9 L150.7,721.7 L149.2,721.9 L147.8,723.3 L146.4,722.3 L145,724 L143.3,724.7 L141.6,723 L139.9,724.1 L138.2,724.4 L136.5,723.6 L134.8,725 L133.1,724.1 L131.3,724.2 L129.6,725 L127.9,723 L126.2,725.3 L124.5,724.3 L122.8,723.7 L121.1,724.8 L119.4,724 L117.7,723.3 L116,725.1 L114.3,723.9 L112.6,723.3 L110.8,724.2 L109.1,723.3 L107.4,722.5 L105.7,723.9 L104,722 L102.3,723.1 L100.6,723.8 L98.9,722.2 L97.2,723 L95.5,723.7 L93.8,722.6 L92.1,722.6 L90.4,721.5 L88.7,720.6 L87,720.5 L85.3,720.6 L83.6,721.4 L82.2,720.7 L80.7,719.3 L79.3,718.5 L77.9,718.5 L76.4,715.5 L75,715.5 L73.8,713.7 L72.5,713.7 L71.2,711 L70,711.2 L68.5,709.1 L67,709.1 L65.5,707.6 L64,707.8 L62.5,708.5 L61,709.2 L59.5,711.2 L58,712 L56.8,713.4 L55.7,713.5 L54.5,715.8 L53.3,716.5 L52.2,716.8 L51,718.9 L49.3,720.2 L47.6,718.6 L45.9,718.5 L44.2,718.5 L42.5,720.1 L40.8,720.9 L39.1,720.8 L37.4,720 L35.7,719.8 L34,720.6 L32.3,719.2 L30.6,720.6 L28.9,720.3 L27.2,719.5 L25.5,720.1 L23.8,719.4 L22.1,720.5 L20.4,719.8 L18.7,718.4 L17,718.9 L15.3,719.4 L13.6,716.6 L11.9,717.2 L10.5,718.1 L9.1,718.6 L7.7,719.7 L6.2,720.1 L4.6,720.6 L3.1,723.5 L1.5,722.6 L0,724.9 Z" fill="#fff"/></g>
<!-- chart -->
<g clip-path="url(#paperclip)">
<line x1="54" y1="75.5" x2="1364" y2="75.5" stroke="#ebebeb" stroke-width="1"/>
<line x1="54" y1="151.5" x2="1364" y2="151.5" stroke="#ebebeb" stroke-width="1"/>
<line x1="54" y1="228.5" x2="1364" y2="228.5" stroke="#ebebeb" stroke-width="1"/>
<line x1="54" y1="305.5" x2="1364" y2="305.5" stroke="#ebebeb" stroke-width="1"/>
<line x1="54" y1="382.5" x2="1364" y2="382.5" stroke="#ebebeb" stroke-width="1"/>
<line x1="54" y1="459.5" x2="1364" y2="459.5" stroke="#ebebeb" stroke-width="1"/>
<line x1="54" y1="536.5" x2="1364" y2="536.5" stroke="#ebebeb" stroke-width="1"/>
<line x1="53.5" y1="75" x2="53.5" y2="615" stroke="#d6d6d6" stroke-width="1"/>
<line x1="53" y1="615.1" x2="1362" y2="615.1" stroke="#d6d6d6" stroke-width="1.6"/>
<g clip-path="url(#plotclip)"><circle cx="75.87" cy="573.4" r="5.5" fill="#278fd6"/><circle cx="90.23" cy="601.5" r="5.5" fill="#278fd6"/><circle cx="147.70" cy="593.9" r="5.5" fill="#278fd6"/><circle cx="190.79" cy="595.0" r="5.5" fill="#278fd6"/><circle cx="233.89" cy="567.8" r="5.5" fill="#278fd6"/><circle cx="276.99" cy="595.8" r="5.5" fill="#278fd6"/><circle cx="305.72" cy="598.4" r="5.5" fill="#278fd6"/><circle cx="334.45" cy="594.3" r="5.5" fill="#278fd6"/><circle cx="348.82" cy="607.8" r="5.5" fill="#278fd6"/><circle cx="420.65" cy="598.1" r="5.5" fill="#278fd6"/><circle cx="478.11" cy="593.3" r="5.5" fill="#278fd6"/><circle cx="521.21" cy="596.8" r="5.5" fill="#278fd6"/><circle cx="535.58" cy="298.1" r="5.5" fill="#278fd6"/><circle cx="549.94" cy="256.5" r="5.5" fill="#278fd6"/><circle cx="650.51" cy="591.0" r="5.5" fill="#278fd6"/><circle cx="664.87" cy="496.5" r="5.5" fill="#278fd6"/><circle cx="693.60" cy="612.8" r="5.5" fill="#278fd6"/><circle cx="722.34" cy="583.5" r="5.5" fill="#278fd6"/><circle cx="736.70" cy="595.3" r="5.5" fill="#278fd6"/><circle cx="751.07" cy="596.8" r="5.5" fill="#278fd6"/><circle cx="794.17" cy="607.2" r="5.5" fill="#278fd6"/><circle cx="808.53" cy="596.2" r="5.5" fill="#278fd6"/><circle cx="837.26" cy="604.7" r="5.5" fill="#278fd6"/><circle cx="851.63" cy="591.1" r="5.5" fill="#278fd6"/><circle cx="909.09" cy="589.5" r="5.5" fill="#278fd6"/><circle cx="966.56" cy="613.5" r="5.5" fill="#278fd6"/><circle cx="1009.66" cy="597.8" r="5.5" fill="#278fd6"/><circle cx="1024.02" cy="613.5" r="5.5" fill="#278fd6"/><circle cx="1038.39" cy="613.5" r="5.5" fill="#278fd6"/><circle cx="1167.68" cy="613.5" r="5.5" fill="#278fd6"/><circle cx="1196.41" cy="587.7" r="5.5" fill="#278fd6"/><circle cx="1225.15" cy="595.4" r="5.5" fill="#278fd6"/><circle cx="1253.88" cy="613.5" r="5.5" fill="#278fd6"/><circle cx="1268.24" cy="596.0" r="5.5" fill="#278fd6"/><circle cx="1282.61" cy="613.5" r="5.5" fill="#278fd6"/><circle cx="1296.98" cy="613.5" r="5.5" fill="#278fd6"/><circle cx="1311.34" cy="596.0" r="5.5" fill="#278fd6"/><circle cx="1325.71" cy="613.5" r="5.5" fill="#278fd6"/><circle cx="61.50" cy="613.5" r="5.5" fill="#d1355b"/><circle cx="75.87" cy="613.5" r="5.5" fill="#d1355b"/><circle cx="104.60" cy="613.5" r="5.5" fill="#d1355b"/><circle cx="118.96" cy="597.7" r="5.5" fill="#d1355b"/><circle cx="133.33" cy="613.5" r="5.5" fill="#d1355b"/><circle cx="205.16" cy="581.8" r="5.5" fill="#d1355b"/><circle cx="219.53" cy="399.7" r="5.5" fill="#d1355b"/><circle cx="320.09" cy="613.5" r="5.5" fill="#d1355b"/><circle cx="391.92" cy="613.5" r="5.5" fill="#d1355b"/><circle cx="435.02" cy="613.5" r="5.5" fill="#d1355b"/><circle cx="521.21" cy="613.5" r="5.5" fill="#d1355b"/><circle cx="535.58" cy="591.4" r="5.5" fill="#d1355b"/><circle cx="549.94" cy="385.0" r="5.5" fill="#d1355b"/><circle cx="564.31" cy="596.2" r="5.5" fill="#d1355b"/><circle cx="707.97" cy="592.1" r="5.5" fill="#d1355b"/><circle cx="765.43" cy="596.1" r="5.5" fill="#d1355b"/><circle cx="822.90" cy="579.0" r="5.5" fill="#d1355b"/><circle cx="837.26" cy="613.5" r="5.5" fill="#d1355b"/><circle cx="980.92" cy="613.5" r="5.5" fill="#d1355b"/><circle cx="1138.95" cy="613.5" r="5.5" fill="#d1355b"/><circle cx="1239.51" cy="468.2" r="5.5" fill="#d1355b"/><circle cx="1268.24" cy="613.5" r="5.5" fill="#d1355b"/><circle cx="1296.98" cy="613.5" r="5.5" fill="#d1355b"/><circle cx="1311.34" cy="613.5" r="5.5" fill="#d1355b"/><circle cx="1354.44" cy="568.0" r="5.5" fill="#d1355b"/><circle cx="61.50" cy="350.7" r="5.5" fill="#fdb431"/><circle cx="75.87" cy="556.6" r="5.5" fill="#fdb431"/><circle cx="90.23" cy="571.8" r="5.5" fill="#fdb431"/><circle cx="104.60" cy="587.0" r="5.5" fill="#fdb431"/><circle cx="118.96" cy="521.6" r="5.5" fill="#fdb431"/><circle cx="133.33" cy="571.8" r="5.5" fill="#fdb431"/><circle cx="147.70" cy="579.8" r="5.5" fill="#fdb431"/><circle cx="162.06" cy="540.0" r="5.5" fill="#fdb431"/><circle cx="176.43" cy="532.7" r="5.5" fill="#fdb431"/><circle cx="190.79" cy="581.0" r="5.5" fill="#fdb431"/><circle cx="205.16" cy="570.2" r="5.5" fill="#fdb431"/><circle cx="219.53" cy="610.7" r="5.5" fill="#fdb431"/><circle cx="233.89" cy="585.7" r="5.5" fill="#fdb431"/><circle cx="248.26" cy="556.7" r="5.5" fill="#fdb431"/><circle cx="262.62" cy="556.7" r="5.5" fill="#fdb431"/><circle cx="276.99" cy="528.4" r="5.5" fill="#fdb431"/><circle cx="291.36" cy="610.2" r="5.5" fill="#fdb431"/><circle cx="305.72" cy="564.6" r="5.5" fill="#fdb431"/><circle cx="320.09" cy="577.4" r="5.5" fill="#fdb431"/><circle cx="334.45" cy="549.5" r="5.5" fill="#fdb431"/><circle cx="348.82" cy="524.4" r="5.5" fill="#fdb431"/><circle cx="363.19" cy="612.4" r="5.5" fill="#fdb431"/><circle cx="377.55" cy="438.7" r="5.5" fill="#fdb431"/><circle cx="391.92" cy="533.1" r="5.5" fill="#fdb431"/><circle cx="406.28" cy="533.5" r="5.5" fill="#fdb431"/><circle cx="420.65" cy="295.7" r="5.5" fill="#fdb431"/><circle cx="435.02" cy="233.1" r="5.5" fill="#fdb431"/><circle cx="449.38" cy="421.6" r="5.5" fill="#fdb431"/><circle cx="463.75" cy="372.6" r="5.5" fill="#fdb431"/><circle cx="478.11" cy="612.0" r="5.5" fill="#fdb431"/><circle cx="492.48" cy="357.0" r="5.5" fill="#fdb431"/><circle cx="506.85" cy="594.0" r="5.5" fill="#fdb431"/><circle cx="521.21" cy="575.8" r="5.5" fill="#fdb431"/><circle cx="535.58" cy="570.4" r="5.5" fill="#fdb431"/><circle cx="549.94" cy="533.5" r="5.5" fill="#fdb431"/><circle cx="564.31" cy="537.1" r="5.5" fill="#fdb431"/><circle cx="578.68" cy="612.0" r="5.5" fill="#fdb431"/><circle cx="593.04" cy="196.1" r="5.5" fill="#fdb431"/><circle cx="607.41" cy="312.3" r="5.5" fill="#fdb431"/><circle cx="621.77" cy="556.7" r="5.5" fill="#fdb431"/><circle cx="636.14" cy="532.4" r="5.5" fill="#fdb431"/><circle cx="650.51" cy="375.4" r="5.5" fill="#fdb431"/><circle cx="664.87" cy="567.0" r="5.5" fill="#fdb431"/><circle cx="679.24" cy="545.9" r="5.5" fill="#fdb431"/><circle cx="707.97" cy="536.7" r="5.5" fill="#fdb431"/><circle cx="722.34" cy="483.0" r="5.5" fill="#fdb431"/><circle cx="736.70" cy="601.6" r="5.5" fill="#fdb431"/><circle cx="751.07" cy="578.6" r="5.5" fill="#fdb431"/><circle cx="765.43" cy="575.8" r="5.5" fill="#fdb431"/><circle cx="779.80" cy="557.5" r="5.5" fill="#fdb431"/><circle cx="794.17" cy="588.0" r="5.5" fill="#fdb431"/><circle cx="808.53" cy="294.5" r="5.5" fill="#fdb431"/><circle cx="822.90" cy="519.6" r="5.5" fill="#fdb431"/><circle cx="837.26" cy="455.5" r="5.5" fill="#fdb431"/><circle cx="851.63" cy="447.5" r="5.5" fill="#fdb431"/><circle cx="866.00" cy="517.6" r="5.5" fill="#fdb431"/><circle cx="880.36" cy="149.9" r="5.5" fill="#fdb431"/><circle cx="894.73" cy="579.0" r="5.5" fill="#fdb431"/><circle cx="909.09" cy="239.0" r="5.5" fill="#fdb431"/><circle cx="923.46" cy="521.2" r="5.5" fill="#fdb431"/><circle cx="937.83" cy="371.4" r="5.5" fill="#fdb431"/><circle cx="952.19" cy="541.5" r="5.5" fill="#fdb431"/><circle cx="966.56" cy="591.0" r="5.5" fill="#fdb431"/><circle cx="980.92" cy="542.3" r="5.5" fill="#fdb431"/><circle cx="995.29" cy="412.4" r="5.5" fill="#fdb431"/><circle cx="1009.66" cy="570.2" r="5.5" fill="#fdb431"/><circle cx="1024.02" cy="453.1" r="5.5" fill="#fdb431"/><circle cx="1038.39" cy="591.8" r="5.5" fill="#fdb431"/><circle cx="1052.75" cy="574.2" r="5.5" fill="#fdb431"/><circle cx="1067.12" cy="541.5" r="5.5" fill="#fdb431"/><circle cx="1081.49" cy="262.4" r="5.5" fill="#fdb431"/><circle cx="1095.85" cy="531.2" r="5.5" fill="#fdb431"/><circle cx="1110.22" cy="585.2" r="5.5" fill="#fdb431"/><circle cx="1124.58" cy="522.4" r="5.5" fill="#fdb431"/><circle cx="1138.95" cy="429.6" r="5.5" fill="#fdb431"/><circle cx="1153.32" cy="345.5" r="5.5" fill="#fdb431"/><circle cx="1167.68" cy="577.6" r="5.5" fill="#fdb431"/><circle cx="1182.05" cy="536.7" r="5.5" fill="#fdb431"/><circle cx="1196.41" cy="590.7" r="5.5" fill="#fdb431"/><circle cx="1210.78" cy="563.6" r="5.5" fill="#fdb431"/><circle cx="1225.15" cy="553.5" r="5.5" fill="#fdb431"/><circle cx="1239.51" cy="591.7" r="5.5" fill="#fdb431"/><circle cx="1253.88" cy="580.3" r="5.5" fill="#fdb431"/><circle cx="1268.24" cy="577.2" r="5.5" fill="#fdb431"/><circle cx="1282.61" cy="286.3" r="5.5" fill="#fdb431"/><circle cx="1296.98" cy="557.1" r="5.5" fill="#fdb431"/><circle cx="1311.34" cy="433.5" r="5.5" fill="#fdb431"/><circle cx="1325.71" cy="565.8" r="5.5" fill="#fdb431"/><circle cx="1340.07" cy="455.9" r="5.5" fill="#fdb431"/><circle cx="1354.44" cy="592.8" r="5.5" fill="#fdb431"/><line x1="61.50" y1="345.7" x2="61.50" y2="614.6" stroke="#fdb431" stroke-opacity="0.65" stroke-width="1"/><line x1="75.87" y1="551.6" x2="75.87" y2="614.6" stroke="#fdb431" stroke-opacity="0.65" stroke-width="1"/><line x1="75.87" y1="568.4" x2="75.87" y2="614.6" stroke="#278fd6" stroke-opacity="0.65" stroke-width="1"/><line x1="90.23" y1="566.8" x2="90.23" y2="614.6" stroke="#fdb431" stroke-opacity="0.65" stroke-width="1"/><line x1="90.23" y1="596.5" x2="90.23" y2="614.6" stroke="#278fd6" stroke-opacity="0.65" stroke-width="1"/><line x1="104.60" y1="582.0" x2="104.60" y2="614.6" stroke="#fdb431" stroke-opacity="0.65" stroke-width="1"/><line x1="118.96" y1="516.6" x2="118.96" y2="614.6" stroke="#fdb431" stroke-opacity="0.65" stroke-width="1"/><line x1="118.96" y1="592.7" x2="118.96" y2="614.6" stroke="#d1355b" stroke-opacity="0.65" stroke-width="1"/><line x1="133.33" y1="566.8" x2="133.33" y2="614.6" stroke="#fdb431" stroke-opacity="0.65" stroke-width="1"/><line x1="147.70" y1="574.8" x2="147.70" y2="614.6" stroke="#fdb431" stroke-opacity="0.65" stroke-width="1"/><line x1="147.70" y1="588.9" x2="147.70" y2="614.6" stroke="#278fd6" stroke-opacity="0.65" stroke-width="1"/><line x1="162.06" y1="535.0" x2="162.06" y2="614.6" stroke="#fdb431" stroke-opacity="0.65" stroke-width="1"/><line x1="176.43" y1="527.7" x2="176.43" y2="614.6" stroke="#fdb431" stroke-opacity="0.65" stroke-width="1"/><line x1="190.79" y1="576.0" x2="190.79" y2="614.6" stroke="#fdb431" stroke-opacity="0.65" stroke-width="1"/><line x1="190.79" y1="590.0" x2="190.79" y2="614.6" stroke="#278fd6" stroke-opacity="0.65" stroke-width="1"/><line x1="205.16" y1="565.2" x2="205.16" y2="614.6" stroke="#fdb431" stroke-opacity="0.65" stroke-width="1"/><line x1="205.16" y1="576.8" x2="205.16" y2="614.6" stroke="#d1355b" stroke-opacity="0.65" stroke-width="1"/><line x1="219.53" y1="394.7" x2="219.53" y2="614.6" stroke="#d1355b" stroke-opacity="0.65" stroke-width="1"/><line x1="219.53" y1="605.7" x2="219.53" y2="614.6" stroke="#fdb431" stroke-opacity="0.65" stroke-width="1"/><line x1="233.89" y1="562.8" x2="233.89" y2="614.6" stroke="#278fd6" stroke-opacity="0.65" stroke-width="1"/><line x1="233.89" y1="580.7" x2="233.89" y2="614.6" stroke="#fdb431" stroke-opacity="0.65" stroke-width="1"/><line x1="248.26" y1="551.7" x2="248.26" y2="614.6" stroke="#fdb431" stroke-opacity="0.65" stroke-width="1"/><line x1="262.62" y1="551.7" x2="262.62" y2="614.6" stroke="#fdb431" stroke-opacity="0.65" stroke-width="1"/><line x1="276.99" y1="523.4" x2="276.99" y2="614.6" stroke="#fdb431" stroke-opacity="0.65" stroke-width="1"/><line x1="276.99" y1="590.8" x2="276.99" y2="614.6" stroke="#278fd6" stroke-opacity="0.65" stroke-width="1"/><line x1="291.36" y1="605.2" x2="291.36" y2="614.6" stroke="#fdb431" stroke-opacity="0.65" stroke-width="1"/><line x1="305.72" y1="559.6" x2="305.72" y2="614.6" stroke="#fdb431" stroke-opacity="0.65" stroke-width="1"/><line x1="305.72" y1="593.4" x2="305.72" y2="614.6" stroke="#278fd6" stroke-opacity="0.65" stroke-width="1"/><line x1="320.09" y1="572.4" x2="320.09" y2="614.6" stroke="#fdb431" stroke-opacity="0.65" stroke-width="1"/><line x1="334.45" y1="544.5" x2="334.45" y2="614.6" stroke="#fdb431" stroke-opacity="0.65" stroke-width="1"/><line x1="334.45" y1="589.3" x2="334.45" y2="614.6" stroke="#278fd6" stroke-opacity="0.65" stroke-width="1"/><line x1="348.82" y1="519.4" x2="348.82" y2="614.6" stroke="#fdb431" stroke-opacity="0.65" stroke-width="1"/><line x1="348.82" y1="602.8" x2="348.82" y2="614.6" stroke="#278fd6" stroke-opacity="0.65" stroke-width="1"/><line x1="363.19" y1="607.4" x2="363.19" y2="614.6" stroke="#fdb431" stroke-opacity="0.65" stroke-width="1"/><line x1="377.55" y1="433.7" x2="377.55" y2="614.6" stroke="#fdb431" stroke-opacity="0.65" stroke-width="1"/><line x1="391.92" y1="528.1" x2="391.92" y2="614.6" stroke="#fdb431" stroke-opacity="0.65" stroke-width="1"/><line x1="406.28" y1="528.5" x2="406.28" y2="614.6" stroke="#fdb431" stroke-opacity="0.65" stroke-width="1"/><line x1="420.65" y1="290.7" x2="420.65" y2="614.6" stroke="#fdb431" stroke-opacity="0.65" stroke-width="1"/><line x1="420.65" y1="593.1" x2="420.65" y2="614.6" stroke="#278fd6" stroke-opacity="0.65" stroke-width="1"/><line x1="435.02" y1="228.1" x2="435.02" y2="614.6" stroke="#fdb431" stroke-opacity="0.65" stroke-width="1"/><line x1="449.38" y1="416.6" x2="449.38" y2="614.6" stroke="#fdb431" stroke-opacity="0.65" stroke-width="1"/><line x1="463.75" y1="367.6" x2="463.75" y2="614.6" stroke="#fdb431" stroke-opacity="0.65" stroke-width="1"/><line x1="478.11" y1="588.3" x2="478.11" y2="614.6" stroke="#278fd6" stroke-opacity="0.65" stroke-width="1"/><line x1="478.11" y1="607.0" x2="478.11" y2="614.6" stroke="#fdb431" stroke-opacity="0.65" stroke-width="1"/><line x1="492.48" y1="352.0" x2="492.48" y2="614.6" stroke="#fdb431" stroke-opacity="0.65" stroke-width="1"/><line x1="506.85" y1="589.0" x2="506.85" y2="614.6" stroke="#fdb431" stroke-opacity="0.65" stroke-width="1"/><line x1="521.21" y1="570.8" x2="521.21" y2="614.6" stroke="#fdb431" stroke-opacity="0.65" stroke-width="1"/><line x1="521.21" y1="591.8" x2="521.21" y2="614.6" stroke="#278fd6" stroke-opacity="0.65" stroke-width="1"/><line x1="535.58" y1="293.1" x2="535.58" y2="614.6" stroke="#278fd6" stroke-opacity="0.65" stroke-width="1"/><line x1="535.58" y1="565.4" x2="535.58" y2="614.6" stroke="#fdb431" stroke-opacity="0.65" stroke-width="1"/><line x1="535.58" y1="586.4" x2="535.58" y2="614.6" stroke="#d1355b" stroke-opacity="0.65" stroke-width="1"/><line x1="549.94" y1="251.5" x2="549.94" y2="614.6" stroke="#278fd6" stroke-opacity="0.65" stroke-width="1"/><line x1="549.94" y1="380.0" x2="549.94" y2="614.6" stroke="#d1355b" stroke-opacity="0.65" stroke-width="1"/><line x1="549.94" y1="528.5" x2="549.94" y2="614.6" stroke="#fdb431" stroke-opacity="0.65" stroke-width="1"/><line x1="564.31" y1="532.1" x2="564.31" y2="614.6" stroke="#fdb431" stroke-opacity="0.65" stroke-width="1"/><line x1="564.31" y1="591.2" x2="564.31" y2="614.6" stroke="#d1355b" stroke-opacity="0.65" stroke-width="1"/><line x1="578.68" y1="607.0" x2="578.68" y2="614.6" stroke="#fdb431" stroke-opacity="0.65" stroke-width="1"/><line x1="593.04" y1="191.1" x2="593.04" y2="614.6" stroke="#fdb431" stroke-opacity="0.65" stroke-width="1"/><line x1="607.41" y1="307.3" x2="607.41" y2="614.6" stroke="#fdb431" stroke-opacity="0.65" stroke-width="1"/><line x1="621.77" y1="551.7" x2="621.77" y2="614.6" stroke="#fdb431" stroke-opacity="0.65" stroke-width="1"/><line x1="636.14" y1="527.4" x2="636.14" y2="614.6" stroke="#fdb431" stroke-opacity="0.65" stroke-width="1"/><line x1="650.51" y1="370.4" x2="650.51" y2="614.6" stroke="#fdb431" stroke-opacity="0.65" stroke-width="1"/><line x1="650.51" y1="586.0" x2="650.51" y2="614.6" stroke="#278fd6" stroke-opacity="0.65" stroke-width="1"/><line x1="664.87" y1="491.5" x2="664.87" y2="614.6" stroke="#278fd6" stroke-opacity="0.65" stroke-width="1"/><line x1="664.87" y1="562.0" x2="664.87" y2="614.6" stroke="#fdb431" stroke-opacity="0.65" stroke-width="1"/><line x1="679.24" y1="540.9" x2="679.24" y2="614.6" stroke="#fdb431" stroke-opacity="0.65" stroke-width="1"/><line x1="693.60" y1="607.8" x2="693.60" y2="614.6" stroke="#278fd6" stroke-opacity="0.65" stroke-width="1"/><line x1="707.97" y1="531.7" x2="707.97" y2="614.6" stroke="#fdb431" stroke-opacity="0.65" stroke-width="1"/><line x1="707.97" y1="587.1" x2="707.97" y2="614.6" stroke="#d1355b" stroke-opacity="0.65" stroke-width="1"/><line x1="722.34" y1="478.0" x2="722.34" y2="614.6" stroke="#fdb431" stroke-opacity="0.65" stroke-width="1"/><line x1="722.34" y1="578.5" x2="722.34" y2="614.6" stroke="#278fd6" stroke-opacity="0.65" stroke-width="1"/><line x1="736.70" y1="590.3" x2="736.70" y2="614.6" stroke="#278fd6" stroke-opacity="0.65" stroke-width="1"/><line x1="736.70" y1="596.6" x2="736.70" y2="614.6" stroke="#fdb431" stroke-opacity="0.65" stroke-width="1"/><line x1="751.07" y1="573.6" x2="751.07" y2="614.6" stroke="#fdb431" stroke-opacity="0.65" stroke-width="1"/><line x1="751.07" y1="591.8" x2="751.07" y2="614.6" stroke="#278fd6" stroke-opacity="0.65" stroke-width="1"/><line x1="765.43" y1="570.8" x2="765.43" y2="614.6" stroke="#fdb431" stroke-opacity="0.65" stroke-width="1"/><line x1="765.43" y1="591.1" x2="765.43" y2="614.6" stroke="#d1355b" stroke-opacity="0.65" stroke-width="1"/><line x1="779.80" y1="552.5" x2="779.80" y2="614.6" stroke="#fdb431" stroke-opacity="0.65" stroke-width="1"/><line x1="794.17" y1="583.0" x2="794.17" y2="614.6" stroke="#fdb431" stroke-opacity="0.65" stroke-width="1"/><line x1="794.17" y1="602.2" x2="794.17" y2="614.6" stroke="#278fd6" stroke-opacity="0.65" stroke-width="1"/><line x1="808.53" y1="289.5" x2="808.53" y2="614.6" stroke="#fdb431" stroke-opacity="0.65" stroke-width="1"/><line x1="808.53" y1="591.2" x2="808.53" y2="614.6" stroke="#278fd6" stroke-opacity="0.65" stroke-width="1"/><line x1="822.90" y1="514.6" x2="822.90" y2="614.6" stroke="#fdb431" stroke-opacity="0.65" stroke-width="1"/><line x1="822.90" y1="574.0" x2="822.90" y2="614.6" stroke="#d1355b" stroke-opacity="0.65" stroke-width="1"/><line x1="837.26" y1="450.5" x2="837.26" y2="614.6" stroke="#fdb431" stroke-opacity="0.65" stroke-width="1"/><line x1="837.26" y1="599.7" x2="837.26" y2="614.6" stroke="#278fd6" stroke-opacity="0.65" stroke-width="1"/><line x1="851.63" y1="442.5" x2="851.63" y2="614.6" stroke="#fdb431" stroke-opacity="0.65" stroke-width="1"/><line x1="851.63" y1="586.1" x2="851.63" y2="614.6" stroke="#278fd6" stroke-opacity="0.65" stroke-width="1"/><line x1="866.00" y1="512.6" x2="866.00" y2="614.6" stroke="#fdb431" stroke-opacity="0.65" stroke-width="1"/><line x1="880.36" y1="144.9" x2="880.36" y2="614.6" stroke="#fdb431" stroke-opacity="0.65" stroke-width="1"/><line x1="894.73" y1="574.0" x2="894.73" y2="614.6" stroke="#fdb431" stroke-opacity="0.65" stroke-width="1"/><line x1="909.09" y1="234.0" x2="909.09" y2="614.6" stroke="#fdb431" stroke-opacity="0.65" stroke-width="1"/><line x1="909.09" y1="584.5" x2="909.09" y2="614.6" stroke="#278fd6" stroke-opacity="0.65" stroke-width="1"/><line x1="923.46" y1="516.2" x2="923.46" y2="614.6" stroke="#fdb431" stroke-opacity="0.65" stroke-width="1"/><line x1="937.83" y1="366.4" x2="937.83" y2="614.6" stroke="#fdb431" stroke-opacity="0.65" stroke-width="1"/><line x1="952.19" y1="536.5" x2="952.19" y2="614.6" stroke="#fdb431" stroke-opacity="0.65" stroke-width="1"/><line x1="966.56" y1="586.0" x2="966.56" y2="614.6" stroke="#fdb431" stroke-opacity="0.65" stroke-width="1"/><line x1="980.92" y1="537.3" x2="980.92" y2="614.6" stroke="#fdb431" stroke-opacity="0.65" stroke-width="1"/><line x1="995.29" y1="407.4" x2="995.29" y2="614.6" stroke="#fdb431" stroke-opacity="0.65" stroke-width="1"/><line x1="1009.66" y1="565.2" x2="1009.66" y2="614.6" stroke="#fdb431" stroke-opacity="0.65" stroke-width="1"/><line x1="1009.66" y1="592.8" x2="1009.66" y2="614.6" stroke="#278fd6" stroke-opacity="0.65" stroke-width="1"/><line x1="1024.02" y1="448.1" x2="1024.02" y2="614.6" stroke="#fdb431" stroke-opacity="0.65" stroke-width="1"/><line x1="1038.39" y1="586.8" x2="1038.39" y2="614.6" stroke="#fdb431" stroke-opacity="0.65" stroke-width="1"/><line x1="1052.75" y1="569.2" x2="1052.75" y2="614.6" stroke="#fdb431" stroke-opacity="0.65" stroke-width="1"/><line x1="1067.12" y1="536.5" x2="1067.12" y2="614.6" stroke="#fdb431" stroke-opacity="0.65" stroke-width="1"/><line x1="1081.49" y1="257.4" x2="1081.49" y2="614.6" stroke="#fdb431" stroke-opacity="0.65" stroke-width="1"/><line x1="1095.85" y1="526.2" x2="1095.85" y2="614.6" stroke="#fdb431" stroke-opacity="0.65" stroke-width="1"/><line x1="1110.22" y1="580.2" x2="1110.22" y2="614.6" stroke="#fdb431" stroke-opacity="0.65" stroke-width="1"/><line x1="1124.58" y1="517.4" x2="1124.58" y2="614.6" stroke="#fdb431" stroke-opacity="0.65" stroke-width="1"/><line x1="1138.95" y1="424.6" x2="1138.95" y2="614.6" stroke="#fdb431" stroke-opacity="0.65" stroke-width="1"/><line x1="1153.32" y1="340.5" x2="1153.32" y2="614.6" stroke="#fdb431" stroke-opacity="0.65" stroke-width="1"/><line x1="1167.68" y1="572.6" x2="1167.68" y2="614.6" stroke="#fdb431" stroke-opacity="0.65" stroke-width="1"/><line x1="1182.05" y1="531.7" x2="1182.05" y2="614.6" stroke="#fdb431" stroke-opacity="0.65" stroke-width="1"/><line x1="1196.41" y1="582.7" x2="1196.41" y2="614.6" stroke="#278fd6" stroke-opacity="0.65" stroke-width="1"/><line x1="1196.41" y1="585.7" x2="1196.41" y2="614.6" stroke="#fdb431" stroke-opacity="0.65" stroke-width="1"/><line x1="1210.78" y1="558.6" x2="1210.78" y2="614.6" stroke="#fdb431" stroke-opacity="0.65" stroke-width="1"/><line x1="1225.15" y1="548.5" x2="1225.15" y2="614.6" stroke="#fdb431" stroke-opacity="0.65" stroke-width="1"/><line x1="1225.15" y1="590.4" x2="1225.15" y2="614.6" stroke="#278fd6" stroke-opacity="0.65" stroke-width="1"/><line x1="1239.51" y1="463.2" x2="1239.51" y2="614.6" stroke="#d1355b" stroke-opacity="0.65" stroke-width="1"/><line x1="1239.51" y1="586.7" x2="1239.51" y2="614.6" stroke="#fdb431" stroke-opacity="0.65" stroke-width="1"/><line x1="1253.88" y1="575.3" x2="1253.88" y2="614.6" stroke="#fdb431" stroke-opacity="0.65" stroke-width="1"/><line x1="1268.24" y1="572.2" x2="1268.24" y2="614.6" stroke="#fdb431" stroke-opacity="0.65" stroke-width="1"/><line x1="1268.24" y1="591.0" x2="1268.24" y2="614.6" stroke="#278fd6" stroke-opacity="0.65" stroke-width="1"/><line x1="1282.61" y1="281.3" x2="1282.61" y2="614.6" stroke="#fdb431" stroke-opacity="0.65" stroke-width="1"/><line x1="1296.98" y1="552.1" x2="1296.98" y2="614.6" stroke="#fdb431" stroke-opacity="0.65" stroke-width="1"/><line x1="1311.34" y1="428.5" x2="1311.34" y2="614.6" stroke="#fdb431" stroke-opacity="0.65" stroke-width="1"/><line x1="1311.34" y1="591.0" x2="1311.34" y2="614.6" stroke="#278fd6" stroke-opacity="0.65" stroke-width="1"/><line x1="1325.71" y1="560.8" x2="1325.71" y2="614.6" stroke="#fdb431" stroke-opacity="0.65" stroke-width="1"/><line x1="1340.07" y1="450.9" x2="1340.07" y2="614.6" stroke="#fdb431" stroke-opacity="0.65" stroke-width="1"/><line x1="1354.44" y1="563.0" x2="1354.44" y2="614.6" stroke="#d1355b" stroke-opacity="0.65" stroke-width="1"/><line x1="1354.44" y1="587.8" x2="1354.44" y2="614.6" stroke="#fdb431" stroke-opacity="0.65" stroke-width="1"/></g>
<text x="13.8" y="87.9" class="ax" textLength="36.5" lengthAdjust="spacingAndGlyphs">35.00K</text>
<text x="13.8" y="154.6" class="ax" textLength="36.5" lengthAdjust="spacingAndGlyphs">30.00K</text>
<text x="13.8" y="231.4" class="ax" textLength="36.5" lengthAdjust="spacingAndGlyphs">25.00K</text>
<text x="13.8" y="308.4" class="ax" textLength="36.5" lengthAdjust="spacingAndGlyphs">20.00K</text>
<text x="13.8" y="385.4" class="ax" textLength="36.5" lengthAdjust="spacingAndGlyphs">15.00K</text>
<text x="13.8" y="462.4" class="ax" textLength="36.5" lengthAdjust="spacingAndGlyphs">10.00K</text>
<text x="20.5" y="539.6" class="ax" textLength="29.8" lengthAdjust="spacingAndGlyphs">5.00K</text>
<text x="28.0" y="613.6" class="ax" textLength="22.3" lengthAdjust="spacingAndGlyphs">0.00</text>
<text transform="translate(72.10,624.3) rotate(-90)" x="-61.6" class="ax" textLength="61.6" lengthAdjust="spacingAndGlyphs">2008-04-01</text>
<text transform="translate(100.86,624.3) rotate(-90)" x="-61.6" class="ax" textLength="61.6" lengthAdjust="spacingAndGlyphs">2008-04-03</text>
<text transform="translate(129.62,624.3) rotate(-90)" x="-61.6" class="ax" textLength="61.6" lengthAdjust="spacingAndGlyphs">2008-04-05</text>
<text transform="translate(158.38,624.3) rotate(-90)" x="-61.6" class="ax" textLength="61.6" lengthAdjust="spacingAndGlyphs">2008-04-07</text>
<text transform="translate(187.14,624.3) rotate(-90)" x="-61.6" class="ax" textLength="61.6" lengthAdjust="spacingAndGlyphs">2008-04-09</text>
<text transform="translate(215.90,624.3) rotate(-90)" x="-61.6" class="ax" textLength="61.6" lengthAdjust="spacingAndGlyphs">2008-04-11</text>
<text transform="translate(244.66,624.3) rotate(-90)" x="-61.6" class="ax" textLength="61.6" lengthAdjust="spacingAndGlyphs">2008-04-13</text>
<text transform="translate(273.42,624.3) rotate(-90)" x="-61.6" class="ax" textLength="61.6" lengthAdjust="spacingAndGlyphs">2008-04-15</text>
<text transform="translate(302.18,624.3) rotate(-90)" x="-61.6" class="ax" textLength="61.6" lengthAdjust="spacingAndGlyphs">2008-04-17</text>
<text transform="translate(330.94,624.3) rotate(-90)" x="-61.6" class="ax" textLength="61.6" lengthAdjust="spacingAndGlyphs">2008-04-19</text>
<text transform="translate(359.70,624.3) rotate(-90)" x="-61.6" class="ax" textLength="61.6" lengthAdjust="spacingAndGlyphs">2008-04-21</text>
<text transform="translate(388.46,624.3) rotate(-90)" x="-61.6" class="ax" textLength="61.6" lengthAdjust="spacingAndGlyphs">2008-04-23</text>
<text transform="translate(417.22,624.3) rotate(-90)" x="-61.6" class="ax" textLength="61.6" lengthAdjust="spacingAndGlyphs">2008-04-25</text>
<text transform="translate(445.98,624.3) rotate(-90)" x="-61.6" class="ax" textLength="61.6" lengthAdjust="spacingAndGlyphs">2008-04-27</text>
<text transform="translate(474.74,624.3) rotate(-90)" x="-61.6" class="ax" textLength="61.6" lengthAdjust="spacingAndGlyphs">2008-04-29</text>
<text transform="translate(503.50,624.3) rotate(-90)" x="-61.6" class="ax" textLength="61.6" lengthAdjust="spacingAndGlyphs">2008-05-01</text>
<text transform="translate(532.26,624.3) rotate(-90)" x="-61.6" class="ax" textLength="61.6" lengthAdjust="spacingAndGlyphs">2008-05-03</text>
<text transform="translate(561.02,624.3) rotate(-90)" x="-61.6" class="ax" textLength="61.6" lengthAdjust="spacingAndGlyphs">2008-05-05</text>
<text transform="translate(589.78,624.3) rotate(-90)" x="-61.6" class="ax" textLength="61.6" lengthAdjust="spacingAndGlyphs">2008-05-07</text>
<text transform="translate(618.54,624.3) rotate(-90)" x="-61.6" class="ax" textLength="61.6" lengthAdjust="spacingAndGlyphs">2008-05-09</text>
<text transform="translate(647.30,624.3) rotate(-90)" x="-61.6" class="ax" textLength="61.6" lengthAdjust="spacingAndGlyphs">2008-05-11</text>
<text transform="translate(676.06,624.3) rotate(-90)" x="-61.6" class="ax" textLength="61.6" lengthAdjust="spacingAndGlyphs">2008-05-13</text>
<text transform="translate(704.82,624.3) rotate(-90)" x="-61.6" class="ax" textLength="61.6" lengthAdjust="spacingAndGlyphs">2008-05-15</text>
<text transform="translate(733.58,624.3) rotate(-90)" x="-61.6" class="ax" textLength="61.6" lengthAdjust="spacingAndGlyphs">2008-05-17</text>
<text transform="translate(762.34,624.3) rotate(-90)" x="-61.6" class="ax" textLength="61.6" lengthAdjust="spacingAndGlyphs">2008-05-19</text>
<text transform="translate(791.10,624.3) rotate(-90)" x="-61.6" class="ax" textLength="61.6" lengthAdjust="spacingAndGlyphs">2008-05-21</text>
<text transform="translate(819.86,624.3) rotate(-90)" x="-61.6" class="ax" textLength="61.6" lengthAdjust="spacingAndGlyphs">2008-05-23</text>
<text transform="translate(848.62,624.3) rotate(-90)" x="-61.6" class="ax" textLength="61.6" lengthAdjust="spacingAndGlyphs">2008-05-25</text>
<text transform="translate(877.38,624.3) rotate(-90)" x="-61.6" class="ax" textLength="61.6" lengthAdjust="spacingAndGlyphs">2008-05-27</text>
<text transform="translate(906.14,624.3) rotate(-90)" x="-61.6" class="ax" textLength="61.6" lengthAdjust="spacingAndGlyphs">2008-05-29</text>
<text transform="translate(934.90,624.3) rotate(-90)" x="-61.6" class="ax" textLength="61.6" lengthAdjust="spacingAndGlyphs">2008-05-31</text>
<text transform="translate(963.66,624.3) rotate(-90)" x="-61.6" class="ax" textLength="61.6" lengthAdjust="spacingAndGlyphs">2008-06-02</text>
<text transform="translate(992.42,624.3) rotate(-90)" x="-61.6" class="ax" textLength="61.6" lengthAdjust="spacingAndGlyphs">2008-06-04</text>
<text transform="translate(1021.18,624.3) rotate(-90)" x="-61.6" class="ax" textLength="61.6" lengthAdjust="spacingAndGlyphs">2008-06-06</text>
<text transform="translate(1049.94,624.3) rotate(-90)" x="-61.6" class="ax" textLength="61.6" lengthAdjust="spacingAndGlyphs">2008-06-08</text>
<text transform="translate(1078.70,624.3) rotate(-90)" x="-61.6" class="ax" textLength="61.6" lengthAdjust="spacingAndGlyphs">2008-06-10</text>
<text transform="translate(1107.46,624.3) rotate(-90)" x="-61.6" class="ax" textLength="61.6" lengthAdjust="spacingAndGlyphs">2008-06-12</text>
<text transform="translate(1136.22,624.3) rotate(-90)" x="-61.6" class="ax" textLength="61.6" lengthAdjust="spacingAndGlyphs">2008-06-14</text>
<text transform="translate(1164.98,624.3) rotate(-90)" x="-61.6" class="ax" textLength="61.6" lengthAdjust="spacingAndGlyphs">2008-06-16</text>
<text transform="translate(1193.74,624.3) rotate(-90)" x="-61.6" class="ax" textLength="61.6" lengthAdjust="spacingAndGlyphs">2008-06-18</text>
<text transform="translate(1222.50,624.3) rotate(-90)" x="-61.6" class="ax" textLength="61.6" lengthAdjust="spacingAndGlyphs">2008-06-20</text>
<text transform="translate(1251.26,624.3) rotate(-90)" x="-61.6" class="ax" textLength="61.6" lengthAdjust="spacingAndGlyphs">2008-06-22</text>
<text transform="translate(1280.02,624.3) rotate(-90)" x="-61.6" class="ax" textLength="61.6" lengthAdjust="spacingAndGlyphs">2008-06-24</text>
<text transform="translate(1308.78,624.3) rotate(-90)" x="-61.6" class="ax" textLength="61.6" lengthAdjust="spacingAndGlyphs">2008-06-26</text>
<text transform="translate(1343.90,624.3) rotate(-90)" x="-61.6" class="ax" textLength="61.6" lengthAdjust="spacingAndGlyphs">2008-06-28</text>
</g>
<!-- title -->
<text x="4.8" y="60.9" class="hd" font-size="14" fill="#7a7e86" textLength="304.5" lengthAdjust="spacingAndGlyphs">Expenses by dateKey and Promotion Category</text>
<!-- header separator -->
<line x1="686" y1="40.5" x2="1365" y2="40.5" stroke="#e2e2e2" stroke-width="1"/>
<!-- legend -->
<text x="693.6" y="25.9" class="hd" font-size="15" fill="#3d3f4f" stroke="#3d3f4f" stroke-width="0.45" textLength="137" lengthAdjust="spacingAndGlyphs">Promotion Category</text>
<rect x="875" y="14.2" width="11.6" height="11.6" fill="#268ed6"/>
<text x="891.4" y="25.9" class="hd" font-size="15" fill="#58616f" textLength="63.3" lengthAdjust="spacingAndGlyphs">Customer</text>
<rect x="1029" y="14.2" width="12.4" height="11.6" fill="#d2355c"/>
<text x="1045.9" y="25.9" class="hd" font-size="15" fill="#58616f" textLength="81.9" lengthAdjust="spacingAndGlyphs">No Discount</text>
<rect x="1184.2" y="14.2" width="11.8" height="11.6" fill="#fdb52f"/>
<text x="1200.8" y="25.9" class="hd" font-size="15" fill="#58616f" textLength="50.3" lengthAdjust="spacingAndGlyphs">Reseller</text>
<rect x="1347.4" y="12.3" width="3.7" height="3.6" fill="#7f93aa"/>
<rect x="1347.4" y="19.9" width="3.7" height="3.6" fill="#7f93aa"/>
<rect x="1347.4" y="27.3" width="3.7" height="3.6" fill="#7f93aa"/>
<!-- parameter header -->
<g>
<rect x="12.5" y="13.6" width="11.3" height="2.2" fill="#c4c4c4"/>
<rect x="12.5" y="18.3" width="11.3" height="1.6" fill="#d4d4d4"/>
<rect x="12.5" y="22.2" width="11.3" height="1.6" fill="#d4d4d4"/>
<rect x="12.5" y="25.9" width="9.8" height="1.3" fill="#bdbdbd"/>
<polygon points="25.1,13.7 28.7,13.7 26.9,15.9" fill="#cfcfcf"/>
<polygon points="25.9,22 30.1,22 28.1,25.9 30.2,25.9 25.2,30.8 26.7,27 24,27" fill="#f89c1c"/>
</g>
<text x="35.3" y="25.5" class="hd" font-size="15" fill="#3d3f4f" stroke="#3d3f4f" stroke-width="0.45" textLength="127.4" lengthAdjust="spacingAndGlyphs">dateKey Parameter</text>
<rect x="192.5" y="6.5" width="367" height="28" fill="#fff" stroke="#474747" stroke-width="1"/>
<text x="197.8" y="24.9" class="hd" font-size="15" fill="#333" textLength="75" lengthAdjust="spacingAndGlyphs">2008-05-03</text>
<polyline points="542.3,17.5 548.5,23.7 554.7,17.5" fill="none" stroke="#3a3a3a" stroke-width="1.3"/>
<polygon points="634.6,13.7 626.8,28.5 642.5,28.5" fill="#f59c42"/>
<rect x="634.1" y="17.2" width="1" height="7.4" fill="#fff"/>
<rect x="634.1" y="25.8" width="1" height="1.4" fill="#fff"/>
<rect x="663.3" y="12.1" width="3.6" height="3.5" fill="#6f8196"/>
<rect x="663.3" y="19.9" width="3.6" height="3.5" fill="#6f8196"/>
<rect x="663.3" y="27.2" width="3.6" height="3.5" fill="#6f8196"/>
<!-- borders -->
<rect x="686" y="0" width="700" height="1.2" fill="#222"/>
<rect x="0" y="40" width="1.3" height="670" fill="#303030"/>
<!-- bottom dark band (inside paper) -->
<g clip-path="url(#bandclip)"><path d="M0,0 L1384.7,0 L1382.3,0.4 L1379.9,0.9 L1378.4,1.3 L1376.3,2.1 L1373,3 L1371.5,3.8 L1369.1,4.6 L1366.9,5.3 L1364.4,5.9 L1363.2,6.6 L1362.5,8.6 L1362.5,11.4 L1362.5,14.3 L1363.7,16.1 L1366.5,17.9 L1368.4,19.5 L1370.5,21.2 L1372.8,24.2 L1374.1,27.2 L1371.5,28.6 L1369.1,30.6 L1367.4,32.5 L1366.5,34.5 L1366.5,37.2 L1368.4,39.2 L1370.5,41.2 L1373.2,42.3 L1374.1,43.3 L1376.4,44.4 L1379.2,45.4 L1381.1,46.5 L1379.5,47.5 L1376.4,48.5 L1373.8,49.5 L1371.6,50.2 L1370.6,50.8 L1367.7,51.5 L1365.4,53.2 L1365.3,55 L1363.2,56.7 L1365.2,58 L1367.2,59.2 L1370.2,60.5 L1371.5,61.4 L1373.8,62.3 L1376.7,63.2 L1377.5,64.1 L1380.2,65 L1382.3,65.9 L1384,66.8 L1381.9,67.6 L1380.3,68.5 L1377.6,69.3 L1375.7,70.1 L1374.1,71 L1372.7,71.8 L1371,72.8 L1368.6,73.8 L1366.4,74.8 L1364.9,75.8 L1362.7,76.8 L1364.3,78.1 L1365.7,79.3 L1367.7,80.6 L1370.1,81.5 L1371.8,82.5 L1372.9,83.5 L1375.4,84.4 L1377.2,85.3 L1379.7,86.3 L1381.3,87.2 L1382.8,88.2 L1380.9,89.7 L1380.7,91.2 L1377.6,92.7 L1376.7,94.2 L1375.3,95.7 L1374.1,97.1 L1371.4,98.6 L1370.4,100 L1368,101.5 L1367.5,102.9 L1366.1,104.4 L1364,105.8 L1365.4,107.5 L1367.1,109.1 L1367.7,110.8 L1369.3,112.4 L1371.9,113.9 L1373.6,115.5 L1375.3,117.1 L1374,118.6 L1372.3,120.1 L1371.5,121.5 L1370.2,123 L1367.8,124.5 L1366.4,126 L1368.3,127.2 L1368.8,128.5 L1371.5,129.8 L1372.7,131 L1375,132.3 L1377.6,133.5 L1379.3,134.8 L1380.4,136 L1382.8,137.3 L1381.6,139 L1381.1,140.8 L1378.9,142.5 L1378.7,144.3 L1377.8,146 L1375.6,147.5 L1373.9,148.9 L1372.1,150.4 L1371.8,151.8 L1369,153.3 L1367.6,154.7 L1366.4,156.2 L1367.2,158.2 L1369.1,160.2 L1368.7,162.2 L1370.4,164.2 L1371.5,166.2 L1371.3,168.2 L1371.7,170.2 L1371.3,172.3 L1371.1,174.3 L1370.2,176.3 L1370.2,178.5 L1370.9,180.8 L1371.5,183 L1371.6,185.3 L1373,187.7 L1372.7,190 L1375.1,191.9 L1375.2,193.8 L1376.8,195.7 L1379,197.6 L1376.6,198.7 L1374.8,199.7 L1373.3,200.8 L1371.6,201.9 L1369.2,202.9 L1367.7,204 L1367.8,205.9 L1369.5,207.8 L1370.3,209.6 L1371.5,211.5 L1373.5,213.1 L1376.1,214.7 L1377.5,216.2 L1379,217.8 L1379.3,219.8 L1379.7,221.8 L1380.1,223.9 L1379.2,225.9 L1380.3,227.9 L1379.1,228.7 L1377,229.6 L1375.3,230.4 L1373.3,231.2 L1370.7,232.1 L1369,232.9 L1368.6,235 L1367.9,237.1 L1368.6,239.2 L1367.3,241.3 L1367.1,243.4 L1367.7,245.5 L1368.7,247 L1370.1,248.5 L1372,250 L1373,251.5 L1375.3,253 L1375.8,254.5 L1377.5,256 L1378.8,257.6 L1380.7,259.1 L1382.3,260.6 L1380.3,262.7 L1380.8,264.8 L1379,266.9 L1377.4,268.4 L1374.8,269.9 L1373.3,271.5 L1371.7,273 L1370.2,274.5 L1370.3,276.7 L1370.2,278.9 L1371.8,281.1 L1371.5,283.3 L1373.6,285.8 L1374,288.3 L1372.6,289.8 L1371.3,291.3 L1369.2,292.9 L1367.8,294.4 L1367.2,295.9 L1368.3,297.8 L1369.5,299.7 L1371.8,301.5 L1372,303.4 L1373.1,305.3 L1375.3,307.2 L1374.6,309 L1372.3,310.7 L1370.1,312.5 L1369.3,314.2 L1367.7,316 L1366.3,318 L1366.8,320 L1367.1,322.1 L1366.4,324.1 L1365.2,326.1 L1364.8,328.4 L1363.3,330.6 L1362.7,332.9 L1361.6,335.1 L1361.4,337.4 L1363.8,338.2 L1365.3,339 L1367.7,339.8 L1368.9,340.6 L1370.6,341.4 L1373.6,342.2 L1375.9,343 L1377.6,343.8 L1379.5,344.6 L1381.4,345.4 L1382.8,346.2 L1381.6,347.5 L1379,348.7 L1377.8,350 L1375.9,350.9 L1373.6,351.8 L1371,352.7 L1369.1,353.6 L1367.5,354.5 L1365.5,355.4 L1364,356.3 L1364.6,359.1 L1364.5,362 L1365.6,364.6 L1364.9,367.1 L1365.2,369.7 L1366,372 L1366.1,374.3 L1366,376.6 L1365.2,378.9 L1367.1,380.2 L1368.9,381.4 L1371.5,382.7 L1372.8,384.2 L1374.5,385.7 L1376.2,387.2 L1378.8,388.7 L1380.3,390.2 L1382.3,392.1 L1383.4,394 L1384,395.9 L1385.3,397.8 L1384.7,400 L1384,402.2 L1381.8,404.4 L1381.6,406.6 L1380.4,408 L1379.5,409.5 L1377.8,410.9 L1376.3,412.4 L1374.3,413.8 L1372.4,415.3 L1371.5,416.7 L1373.5,418.2 L1374.1,419.6 L1376.4,421.1 L1378.2,422.6 L1378.6,424 L1380.3,425.5 L1379.9,427.5 L1380.6,429.5 L1379.9,431.6 L1378.7,433.6 L1379,435.6 L1376.8,437 L1375.2,438.4 L1375,439.8 L1373.3,441.2 L1370.5,442.7 L1370.1,444.1 L1368.8,445.5 L1366.4,446.9 L1368.1,448.3 L1369,449.8 L1370.8,451.2 L1371.5,452.7 L1372.7,454.1 L1375.9,455.6 L1376.5,457 L1375.2,458.4 L1373.4,459.8 L1372.6,461.2 L1370.1,462.6 L1369.3,464.1 L1367.6,465.5 L1365,466.9 L1363.9,468.3 L1365.2,469.8 L1367,471.3 L1368.7,472.9 L1371.1,474.4 L1372.7,475.9 L1372.9,478.4 L1374,480.9 L1373.6,482.9 L1372.8,484.9 L1374,487 L1372.7,489 L1372.7,491 L1372.6,493 L1372.9,495 L1373.4,497.1 L1372.6,499.1 L1372.7,501.1 L1372.2,502.8 L1370.2,504.4 L1369,506.1 L1367.7,507.8 L1365.6,509.4 L1365.2,511.1 L1364.7,513.2 L1363.8,515.3 L1363.9,517.4 L1364,519.6 L1366.3,521.8 L1366.2,524 L1367.7,526.2 L1368.4,528.2 L1369.6,530.2 L1370.1,532.3 L1370.4,534.3 L1371.5,536.3 L1372.1,538.5 L1372.8,540.6 L1373.8,542.8 L1373.9,545 L1373.9,548.5 L1372.5,550.6 L1372.6,552.8 L1371.3,554.9 L1371.1,557 L1371.3,559.3 L1372.7,561.5 L1372.8,563.8 L1373.5,566 L1373.9,568.3 L1374.9,570.6 L1375.8,572.8 L1375.5,575.1 L1376.4,577.3 L1376.8,579.6 L1374.8,580.6 L1372.8,581.6 L1371.1,582.6 L1368.6,583.6 L1366.7,584.6 L1364.6,585.6 L1362.6,586.6 L1364.5,588.6 L1365.2,590.6 L1366.7,592.5 L1368,594.5 L1368.3,596.5 L1368.4,598.8 L1369.5,601.1 L1370.8,603.3 L1371.2,605.6 L1371.1,607.9 L1371.3,609.9 L1372.1,611.8 L1373.5,613.8 L1373.7,615.7 L1375.3,617.7 L1374.6,619.8 L1374.1,622 L1374.9,624.1 L1374.9,626.2 L1374.8,628.4 L1373.9,630.5 L1373.9,632.8 L1375.4,635 L1375.9,637.3 L1375.6,639.5 L1376.8,641.8 L1376.1,643.2 L1374.8,644.6 L1372,646 L1371.9,647.5 L1369.5,648.9 L1368.2,650.3 L1367.7,651.7 L1365.4,653.1 L1365.7,655.4 L1364.2,657.6 L1364.4,659.9 L1364.3,662.1 L1364,664.4 L1365.4,665.8 L1366.8,667.2 L1368.6,668.6 L1371,670.1 L1371.4,671.5 L1373.9,672.9 L1376,673.7 L1377.8,674.6 L1379,675.4 L1381.5,676.3 L1383.8,677.1 L1382.1,677.9 L1380.1,678.7 L1377.4,679.5 L1377.2,680.3 L1374.9,681 L1373.4,681.8 L1369.9,682.6 L1368.4,683.4 L1366.9,684.2 L1366.4,686.3 L1368.1,688.5 L1367.5,690.6 L1368.3,692.7 L1369.5,694.6 L1371.9,696.4 L1373.9,698.3 L1372.5,699.4 L1370.2,700.5 L1367.1,701.5 L1365.4,702.6 L1362.7,703.9 L1361.2,705.2 L1361,723.8 L1358.7,724.9 L1356.4,723.8 L1354.9,724.9 L1353.5,726.2 L1352,725.5 L1350.6,726.3 L1349.1,728.4 L1347.6,728.1 L1346.1,726.5 L1344.6,724.8 L1343.1,726.2 L1341.6,724.6 L1340.1,724.2 L1338.6,721.5 L1337.1,722.6 L1335.6,719.7 L1334.1,721 L1332.6,719.2 L1331.1,719.6 L1329.5,719.9 L1328,721 L1326.4,722.6 L1324.9,721.4 L1323.4,721.6 L1321.8,723.2 L1320.3,723 L1318.8,723.2 L1317.2,723.9 L1315.7,724.2 L1314.1,725.2 L1312.6,726.5 L1311.1,724.9 L1309.7,723.8 L1308.2,723.9 L1306.8,721.6 L1305.3,721 L1303.7,720.9 L1302.1,720 L1300.5,720.3 L1298.9,719.3 L1297.2,719.8 L1295.6,719.1 L1294,720.9 L1292.4,720.3 L1290.8,719.2 L1289.2,719.9 L1287.6,721 L1286,718.7 L1284.3,720.5 L1282.7,719.3 L1281.1,719.4 L1279.5,720.2 L1277.9,719.2 L1276.7,720 L1275.4,721.4 L1274.2,722.9 L1273,724.7 L1271.7,724.1 L1270.5,725.6 L1269.8,724.9 L1269,723 L1268.3,721.3 L1267.6,719.2 L1266.8,717.5 L1266.1,715.1 L1265.4,713.8 L1264.7,712.1 L1263.9,712.3 L1263.2,710.1 L1262,708.2 L1260.8,706.8 L1259.6,706.4 L1257.8,705.6 L1255.9,707.8 L1254.1,708.1 L1252.3,707.4 L1251.2,709 L1250.1,709.2 L1249,710.3 L1247.9,711.6 L1246.8,713.2 L1245.7,713.6 L1244.6,715.5 L1243.5,716.2 L1242.4,719.2 L1241.3,719.2 L1239.6,720.5 L1238,719.5 L1236.3,718.8 L1234.7,720.7 L1233,719.1 L1231.3,719.3 L1229.7,718.5 L1228,719.5 L1226.4,719.9 L1224.7,720 L1223,719.3 L1221.4,720.2 L1219.7,719 L1218.1,719.7 L1216.4,719.4 L1214.8,720.2 L1213.1,719.4 L1211.4,719.4 L1209.8,720.2 L1208.1,720.1 L1206.5,721.1 L1204.8,721 L1203.1,721.2 L1201.4,721.9 L1199.7,721.8 L1198.1,722.1 L1196.4,722.7 L1194.7,721.6 L1193,721.6 L1191.3,723.4 L1189.6,721.4 L1188,723 L1186.3,723 L1184.6,721.6 L1182.9,722.9 L1181.5,722.6 L1180.2,721.6 L1178.8,719.8 L1177.4,718.9 L1176,718 L1174.7,715.1 L1173.3,714.9 L1171.9,713.7 L1170.2,713.8 L1168.5,714.8 L1166.8,714.9 L1165.1,715.1 L1163.4,714.6 L1161.7,715.5 L1160,714.6 L1158.8,714.6 L1158,716.6 L1157.1,718.1 L1156.2,718.4 L1155.4,720.6 L1153.7,719.7 L1152,720.3 L1150.3,721.2 L1148.6,720.8 L1146.8,723 L1145.1,722.6 L1143.4,723.1 L1141.7,723.1 L1140,723.5 L1138.3,723.7 L1136.6,723.3 L1134.9,722.1 L1133.2,724.2 L1131.5,724.1 L1129.8,723.6 L1128.1,723.7 L1126.4,724.1 L1124.7,722.6 L1123,724.4 L1121.3,723.2 L1119.6,722.8 L1117.9,724 L1116.6,722.4 L1115.3,722.7 L1114,720.3 L1112.8,720.8 L1111.5,720.4 L1110.2,718.2 L1108.9,717 L1107.6,716.3 L1105.9,716.5 L1104.2,717.3 L1102.5,717.8 L1100.8,717.6 L1099.1,718 L1097.4,716.8 L1095.7,717.2 L1094,717.7 L1092.3,719.3 L1090.6,718.9 L1089,718.5 L1087.4,719.3 L1085.7,718 L1084.1,718.2 L1082.5,718.9 L1080.9,720.1 L1079.2,720.2 L1077.6,720.3 L1076,719.4 L1074.4,720.1 L1072.7,720.1 L1071.1,720.2 L1069.5,719.5 L1067.9,721.6 L1066.2,719.9 L1064.6,722 L1063,722.1 L1061.4,719.8 L1059.7,721.1 L1058.1,722.1 L1056.5,721.4 L1054.9,722.6 L1053.3,721.3 L1051.7,720.8 L1050.1,720.6 L1048.5,722.6 L1046.9,720.6 L1045.3,721.6 L1043.7,720.5 L1042,721.5 L1040.4,722.6 L1038.8,720.4 L1037.2,722.2 L1035.6,721.4 L1034,722.4 L1032.4,721.9 L1030.8,720.7 L1029.2,721.4 L1028,721 L1026.9,718.5 L1025.8,715.9 L1024.6,714.4 L1023.4,714.3 L1022.3,712.9 L1020.6,712.3 L1018.9,712 L1017.6,712.6 L1016.4,713.2 L1015.1,714.8 L1013.8,715.8 L1012.5,718.3 L1011.2,717.2 L1010,720.2 L1008.7,720.6 L1007,721.6 L1005.3,719.9 L1003.6,722.1 L1001.9,721.7 L1000.2,722.4 L998.5,720.9 L996.7,721.3 L995,721.5 L993.3,723.2 L991.6,722.2 L989.9,721.8 L988.2,722.3 L986.5,722.2 L984.8,721.8 L983.1,721.3 L981.4,721.5 L979.7,723.5 L978,722.1 L976.2,723.8 L974.5,722.1 L972.8,722.2 L971.1,722.9 L969.4,722.1 L967.7,722.7 L966,724.2 L964.3,723.1 L963.2,725.6 L962.2,726.9 L961.1,727.9 L960.1,729.1 L959,728.8 L957.9,727.6 L956.8,725.2 L955.7,724.3 L954.6,721.2 L953.5,721.6 L952.4,719.7 L950.7,719.4 L949,720 L947.3,719.5 L945.6,718.4 L943.9,717.6 L942.2,719.7 L940.5,717.4 L938.8,718.1 L937.1,718 L935.4,717.5 L933.7,717.3 L932,718.4 L930.3,718.9 L928.5,717 L926.8,717.9 L925.1,716.9 L923.4,717.5 L921.7,717 L920,717.2 L918.4,716.7 L916.7,717 L915.1,717.5 L913.4,719.6 L911.8,718.9 L910.1,719 L908.4,718.4 L906.7,720.3 L904.9,720.6 L903.2,719.3 L901.5,718.6 L899.8,719.7 L898.4,720.1 L897,720.9 L895.5,722.7 L894.1,723.2 L892.7,724.8 L891.3,726.6 L889.6,726.1 L887.9,727 L886.1,728 L884.4,727.8 L882.7,727 L881,727.4 L879.8,726 L878.6,725.1 L877.4,723.5 L876.2,722.2 L875,720.3 L873.9,719.7 L872.7,720.3 L871.5,716.9 L870.3,716.7 L869.1,715.5 L867.4,715.8 L865.7,716.3 L864,714.5 L862.3,714.6 L860.6,714.4 L858.8,714.7 L857.1,714.8 L855.4,716 L853.7,715.7 L852,715.7 L850.3,714.6 L849.4,714.7 L848.6,716.2 L847.8,719.3 L846.9,721.2 L846,721.5 L845.2,723.2 L844.4,723 L843.5,725.7 L841.8,725.4 L840.1,726.8 L838.4,726.5 L836.7,726.6 L835,726.9 L833.3,725 L831.6,724.7 L829.9,724.8 L828.2,725.8 L826.5,725.7 L824.8,726 L823.1,726.5 L821.3,725.8 L819.6,725.4 L817.9,724.9 L816.6,724.5 L815.4,722.6 L814.1,721.8 L812.8,719.4 L811.5,720.3 L810.2,717.8 L809,718.5 L807.7,716.3 L806.6,718.1 L805.4,718.7 L804.3,719.6 L803.2,721.4 L802,723.8 L800.9,724.9 L799.7,724.2 L798.4,721.4 L797.2,720.1 L796,720 L794.8,719 L793.5,717.2 L792.3,716.3 L790.6,715.3 L788.9,716 L787.2,714.2 L785.5,714.7 L783.8,714.8 L782.1,714.6 L780.4,716.4 L778.7,716.3 L777,717.5 L775.3,717.2 L773.6,717.1 L771.9,716.5 L770.2,716.5 L768.5,718.4 L766.8,717.7 L765,716.7 L763.3,716 L761.6,717.2 L759.9,717.7 L758.2,717.2 L756.5,717.2 L754.8,717.1 L753.1,718.4 L751.4,719.3 L749.7,717.7 L748,717.5 L746.3,718.5 L744.6,719 L742.9,719.9 L741.2,719.7 L739.7,719.9 L738.2,722.4 L736.7,723.2 L735.2,723.6 L733.7,723.7 L732.2,726.7 L730.7,725.9 L729.2,727.4 L727.7,727.2 L726.1,724.7 L724.5,723.7 L723,724.1 L721.5,721.9 L719.9,721.4 L718.7,723.8 L717.5,723.7 L716.4,724.1 L715.2,725.4 L714,727.1 L712.9,728.9 L711.7,730.8 L710.5,730.8 L709.2,728.8 L707.9,728.4 L706.6,726.9 L705.4,727.8 L704.1,724.6 L702.8,723.3 L701.5,722.2 L700.2,722.3 L698.5,721.6 L696.8,722.5 L695.1,722 L693.4,721.2 L691.7,721.4 L690,719.7 L688.4,720.8 L686.7,719.3 L685.1,718.9 L683.4,720.8 L681.8,719.7 L680.1,720.3 L678.4,718.3 L676.7,719.9 L675,719.1 L673.2,719 L671.5,718.8 L669.8,718.3 L668.1,717.8 L666.4,718.4 L664.7,718.9 L663,718.3 L661.3,719.7 L659.6,717.4 L657.9,719.4 L656.2,717.3 L654.4,717.5 L652.7,718.5 L651,718.4 L649.3,717.2 L647.6,717.2 L645.9,715.9 L644.2,716.8 L642.5,716.4 L640.8,717.6 L639.1,715.6 L637.4,715.8 L635.7,717 L634,714.6 L632.3,715.4 L630.6,715.5 L628.9,716.2 L627.2,715.9 L625.5,713.9 L623.7,713.7 L622,713.6 L620.3,714.6 L619.2,717 L618,716.5 L616.9,719.1 L615.8,720.8 L614.6,720.6 L613.5,722.3 L611.8,722 L610.1,724.2 L608.4,723.6 L606.7,723 L605,724.6 L603.3,723.9 L601.6,724.1 L599.9,723.7 L598.2,726 L596.5,725.7 L594.9,726.7 L593.3,725.8 L591.7,726.5 L590.1,724 L588.5,724.5 L586.9,725 L585.3,726.1 L583.7,726 L582.1,724.4 L580.5,724 L578.9,724.3 L577.3,724.4 L575.7,725.4 L574.1,723.4 L572.5,724.9 L570.9,724 L569.7,723.3 L568.4,722.2 L567.2,720.7 L566,718.9 L564.8,716.8 L563.5,715.5 L562.3,714.6 L560.6,713.4 L558.9,713.6 L557.2,712 L555.5,711.6 L553.8,712.6 L552.1,714.8 L550.4,714.1 L548.7,715.5 L547.4,715.5 L546.2,716.6 L544.9,719.2 L543.6,719.7 L542.3,722.6 L541,723.5 L539.8,725 L538.5,724.9 L536.8,724.5 L535.1,724.2 L533.4,724.5 L531.6,725.7 L529.9,726.5 L528.2,726 L526.5,725.7 L524.8,726.6 L523.1,726.1 L521.4,726.3 L519.7,725.7 L518.9,724.6 L518.2,723.3 L517.4,722 L516.7,720 L515.9,717.1 L515.2,717.5 L514.4,714.5 L513.7,713.7 L512.9,712 L511.6,710.3 L510.4,709.9 L509.1,707.2 L507.8,706.6 L506.1,705.9 L504.4,705.9 L502.7,705.7 L501,706.6 L499.6,708.6 L498.1,708.7 L496.7,709.5 L495.7,710.5 L494.7,712.1 L493.7,715 L492.7,715.2 L491.7,715.9 L490.7,718 L489,719 L487.3,718.8 L485.6,719.9 L483.9,717.8 L482.1,719 L480.4,720.1 L478.7,720.4 L477,719.7 L475.3,720.9 L473.6,718.7 L471.9,719.4 L470.2,719.1 L468.5,719.3 L466.8,721.5 L465.1,720.5 L463.4,721.5 L461.7,720.2 L460,720.6 L458.4,722.2 L456.7,721.8 L455.1,722 L453.4,724 L451.8,724 L450.1,725.2 L448.4,723.2 L446.7,724.5 L445,724.7 L443.2,723.7 L441.5,724.2 L439.8,723.7 L438.1,724 L436.4,724.2 L434.7,724.9 L433,724.9 L431.3,724.8 L429.6,723.3 L427.9,722.6 L426.1,723.2 L424.4,723.8 L422.7,722.3 L421,722.3 L419.3,721.8 L417.6,722.3 L415.9,723.1 L414.2,722.4 L412.5,721.2 L410.8,721.3 L409.1,722 L407.4,722.4 L405.7,722.7 L404,721.2 L402.3,721.4 L400.6,722.3 L398.9,722.6 L397.2,721.7 L395.5,721.2 L393.8,721.1 L392.1,722.6 L390.3,720.8 L388.6,721.3 L386.9,720.6 L385.2,720.6 L383.5,720.6 L381.8,721.2 L380.1,721.2 L378.4,719.2 L376.7,718.5 L375,719.5 L373.3,717.8 L371.6,716.9 L369.9,718.9 L368.2,717.3 L366.5,717.2 L365.1,717 L363.7,714.9 L362.4,715.1 L361,712.9 L359.6,712 L357.9,711.4 L356.2,711.3 L354.5,713 L352.8,713.6 L351.1,714.6 L349.4,713.8 L347.7,712.8 L346,714.3 L344.3,713.7 L342.6,714.1 L340.9,713.3 L339.1,713.7 L337.4,714.4 L335.7,715.5 L334,713.5 L332.3,714.6 L330.6,714.7 L328.9,715.6 L327.2,716.1 L325.5,714.2 L323.8,714.1 L322.1,716.4 L320.4,716.5 L318.7,715.4 L317,715.5 L315.3,715.2 L313.6,718.3 L311.9,717.8 L310.2,718.9 L309,721.3 L307.7,721.9 L306.5,723.8 L305.3,723.4 L304.1,726.4 L302.8,726.2 L301.6,728.3 L299.9,728.1 L298.2,729.3 L296.5,729.4 L294.8,727.7 L293.1,727.9 L291.4,728.4 L289.7,728.8 L288,728.5 L286.3,727.9 L284.6,728.3 L282.9,729.6 L281.2,729.1 L280.4,728 L279.5,724.9 L278.1,722.6 L276.6,722.8 L275.2,722.1 L273.8,719.1 L272.3,720 L270.9,718 L269.2,717.7 L267.5,719.6 L265.8,720.1 L264.1,720.6 L262.6,721.8 L261.2,721.8 L259.7,723 L258.3,724.2 L256.8,724.7 L255.4,726.2 L253.9,726.6 L252.2,726.6 L250.5,726.6 L248.8,725.7 L247.1,727.3 L245.3,727.1 L243.6,726.5 L241.9,728 L240.2,727.4 L239.2,726.8 L238.1,724.6 L237.1,722.5 L236,721.9 L235,720.6 L233.3,718.4 L231.7,717.4 L230,717.2 L228.3,716.8 L226.6,715.8 L225,716.5 L223.3,716.5 L221.6,715.2 L219.9,716.5 L218.2,714.9 L216.6,716.4 L214.9,716.4 L213.2,715.5 L211.5,715.4 L209.8,714.2 L208.1,715.2 L206.4,714.8 L204.7,716.2 L203,714 L201.3,715.8 L199.6,716.1 L197.9,715.3 L196.2,714.6 L194.5,715.5 L192.8,714.1 L191.1,716.2 L189.3,715.1 L187.6,716.4 L185.9,716.5 L184.2,715.5 L183.1,716 L181.9,719.1 L180.8,720.9 L179.7,720 L178.5,722.2 L177.4,724 L175.7,724.7 L174,723.1 L172.3,725 L170.6,723.4 L168.9,724 L168.4,723.1 L167.9,719.7 L167.3,718.9 L166.8,718.3 L166.3,715.5 L164.3,714.2 L162.3,713.8 L160.3,713.8 L158.9,714.8 L157.6,715.4 L156.2,715.7 L154.9,717.1 L153.5,718.9 L152.1,718.9 L150.7,721.7 L149.2,721.9 L147.8,723.3 L146.4,722.3 L145,724 L143.3,724.7 L141.6,723 L139.9,724.1 L138.2,724.4 L136.5,723.6 L134.8,725 L133.1,724.1 L131.3,724.2 L129.6,725 L127.9,723 L126.2,725.3 L124.5,724.3 L122.8,723.7 L121.1,724.8 L119.4,724 L117.7,723.3 L116,725.1 L114.3,723.9 L112.6,723.3 L110.8,724.2 L109.1,723.3 L107.4,722.5 L105.7,723.9 L104,722 L102.3,723.1 L100.6,723.8 L98.9,722.2 L97.2,723 L95.5,723.7 L93.8,722.6 L92.1,722.6 L90.4,721.5 L88.7,720.6 L87,720.5 L85.3,720.6 L83.6,721.4 L82.2,720.7 L80.7,719.3 L79.3,718.5 L77.9,718.5 L76.4,715.5 L75,715.5 L73.8,713.7 L72.5,713.7 L71.2,711 L70,711.2 L68.5,709.1 L67,709.1 L65.5,707.6 L64,707.8 L62.5,708.5 L61,709.2 L59.5,711.2 L58,712 L56.8,713.4 L55.7,713.5 L54.5,715.8 L53.3,716.5 L52.2,716.8 L51,718.9 L49.3,720.2 L47.6,718.6 L45.9,718.5 L44.2,718.5 L42.5,720.1 L40.8,720.9 L39.1,720.8 L37.4,720 L35.7,719.8 L34,720.6 L32.3,719.2 L30.6,720.6 L28.9,720.3 L27.2,719.5 L25.5,720.1 L23.8,719.4 L22.1,720.5 L20.4,719.8 L18.7,718.4 L17,718.9 L15.3,719.4 L13.6,716.6 L11.9,717.2 L10.5,718.1 L9.1,718.6 L7.7,719.7 L6.2,720.1 L4.6,720.6 L3.1,723.5 L1.5,722.6 L0,724.9 Z" fill="#272727"/></g>
<g clip-path="url(#slateclip)"><path d="M0,0 L1384.7,0 L1382.3,0.4 L1379.9,0.9 L1378.4,1.3 L1376.3,2.1 L1373,3 L1371.5,3.8 L1369.1,4.6 L1366.9,5.3 L1364.4,5.9 L1363.2,6.6 L1362.5,8.6 L1362.5,11.4 L1362.5,14.3 L1363.7,16.1 L1366.5,17.9 L1368.4,19.5 L1370.5,21.2 L1372.8,24.2 L1374.1,27.2 L1371.5,28.6 L1369.1,30.6 L1367.4,32.5 L1366.5,34.5 L1366.5,37.2 L1368.4,39.2 L1370.5,41.2 L1373.2,42.3 L1374.1,43.3 L1376.4,44.4 L1379.2,45.4 L1381.1,46.5 L1379.5,47.5 L1376.4,48.5 L1373.8,49.5 L1371.6,50.2 L1370.6,50.8 L1367.7,51.5 L1365.4,53.2 L1365.3,55 L1363.2,56.7 L1365.2,58 L1367.2,59.2 L1370.2,60.5 L1371.5,61.4 L1373.8,62.3 L1376.7,63.2 L1377.5,64.1 L1380.2,65 L1382.3,65.9 L1384,66.8 L1381.9,67.6 L1380.3,68.5 L1377.6,69.3 L1375.7,70.1 L1374.1,71 L1372.7,71.8 L1371,72.8 L1368.6,73.8 L1366.4,74.8 L1364.9,75.8 L1362.7,76.8 L1364.3,78.1 L1365.7,79.3 L1367.7,80.6 L1370.1,81.5 L1371.8,82.5 L1372.9,83.5 L1375.4,84.4 L1377.2,85.3 L1379.7,86.3 L1381.3,87.2 L1382.8,88.2 L1380.9,89.7 L1380.7,91.2 L1377.6,92.7 L1376.7,94.2 L1375.3,95.7 L1374.1,97.1 L1371.4,98.6 L1370.4,100 L1368,101.5 L1367.5,102.9 L1366.1,104.4 L1364,105.8 L1365.4,107.5 L1367.1,109.1 L1367.7,110.8 L1369.3,112.4 L1371.9,113.9 L1373.6,115.5 L1375.3,117.1 L1374,118.6 L1372.3,120.1 L1371.5,121.5 L1370.2,123 L1367.8,124.5 L1366.4,126 L1368.3,127.2 L1368.8,128.5 L1371.5,129.8 L1372.7,131 L1375,132.3 L1377.6,133.5 L1379.3,134.8 L1380.4,136 L1382.8,137.3 L1381.6,139 L1381.1,140.8 L1378.9,142.5 L1378.7,144.3 L1377.8,146 L1375.6,147.5 L1373.9,148.9 L1372.1,150.4 L1371.8,151.8 L1369,153.3 L1367.6,154.7 L1366.4,156.2 L1367.2,158.2 L1369.1,160.2 L1368.7,162.2 L1370.4,164.2 L1371.5,166.2 L1371.3,168.2 L1371.7,170.2 L1371.3,172.3 L1371.1,174.3 L1370.2,176.3 L1370.2,178.5 L1370.9,180.8 L1371.5,183 L1371.6,185.3 L1373,187.7 L1372.7,190 L1375.1,191.9 L1375.2,193.8 L1376.8,195.7 L1379,197.6 L1376.6,198.7 L1374.8,199.7 L1373.3,200.8 L1371.6,201.9 L1369.2,202.9 L1367.7,204 L1367.8,205.9 L1369.5,207.8 L1370.3,209.6 L1371.5,211.5 L1373.5,213.1 L1376.1,214.7 L1377.5,216.2 L1379,217.8 L1379.3,219.8 L1379.7,221.8 L1380.1,223.9 L1379.2,225.9 L1380.3,227.9 L1379.1,228.7 L1377,229.6 L1375.3,230.4 L1373.3,231.2 L1370.7,232.1 L1369,232.9 L1368.6,235 L1367.9,237.1 L1368.6,239.2 L1367.3,241.3 L1367.1,243.4 L1367.7,245.5 L1368.7,247 L1370.1,248.5 L1372,250 L1373,251.5 L1375.3,253 L1375.8,254.5 L1377.5,256 L1378.8,257.6 L1380.7,259.1 L1382.3,260.6 L1380.3,262.7 L1380.8,264.8 L1379,266.9 L1377.4,268.4 L1374.8,269.9 L1373.3,271.5 L1371.7,273 L1370.2,274.5 L1370.3,276.7 L1370.2,278.9 L1371.8,281.1 L1371.5,283.3 L1373.6,285.8 L1374,288.3 L1372.6,289.8 L1371.3,291.3 L1369.2,292.9 L1367.8,294.4 L1367.2,295.9 L1368.3,297.8 L1369.5,299.7 L1371.8,301.5 L1372,303.4 L1373.1,305.3 L1375.3,307.2 L1374.6,309 L1372.3,310.7 L1370.1,312.5 L1369.3,314.2 L1367.7,316 L1366.3,318 L1366.8,320 L1367.1,322.1 L1366.4,324.1 L1365.2,326.1 L1364.8,328.4 L1363.3,330.6 L1362.7,332.9 L1361.6,335.1 L1361.4,337.4 L1363.8,338.2 L1365.3,339 L1367.7,339.8 L1368.9,340.6 L1370.6,341.4 L1373.6,342.2 L1375.9,343 L1377.6,343.8 L1379.5,344.6 L1381.4,345.4 L1382.8,346.2 L1381.6,347.5 L1379,348.7 L1377.8,350 L1375.9,350.9 L1373.6,351.8 L1371,352.7 L1369.1,353.6 L1367.5,354.5 L1365.5,355.4 L1364,356.3 L1364.6,359.1 L1364.5,362 L1365.6,364.6 L1364.9,367.1 L1365.2,369.7 L1366,372 L1366.1,374.3 L1366,376.6 L1365.2,378.9 L1367.1,380.2 L1368.9,381.4 L1371.5,382.7 L1372.8,384.2 L1374.5,385.7 L1376.2,387.2 L1378.8,388.7 L1380.3,390.2 L1382.3,392.1 L1383.4,394 L1384,395.9 L1385.3,397.8 L1384.7,400 L1384,402.2 L1381.8,404.4 L1381.6,406.6 L1380.4,408 L1379.5,409.5 L1377.8,410.9 L1376.3,412.4 L1374.3,413.8 L1372.4,415.3 L1371.5,416.7 L1373.5,418.2 L1374.1,419.6 L1376.4,421.1 L1378.2,422.6 L1378.6,424 L1380.3,425.5 L1379.9,427.5 L1380.6,429.5 L1379.9,431.6 L1378.7,433.6 L1379,435.6 L1376.8,437 L1375.2,438.4 L1375,439.8 L1373.3,441.2 L1370.5,442.7 L1370.1,444.1 L1368.8,445.5 L1366.4,446.9 L1368.1,448.3 L1369,449.8 L1370.8,451.2 L1371.5,452.7 L1372.7,454.1 L1375.9,455.6 L1376.5,457 L1375.2,458.4 L1373.4,459.8 L1372.6,461.2 L1370.1,462.6 L1369.3,464.1 L1367.6,465.5 L1365,466.9 L1363.9,468.3 L1365.2,469.8 L1367,471.3 L1368.7,472.9 L1371.1,474.4 L1372.7,475.9 L1372.9,478.4 L1374,480.9 L1373.6,482.9 L1372.8,484.9 L1374,487 L1372.7,489 L1372.7,491 L1372.6,493 L1372.9,495 L1373.4,497.1 L1372.6,499.1 L1372.7,501.1 L1372.2,502.8 L1370.2,504.4 L1369,506.1 L1367.7,507.8 L1365.6,509.4 L1365.2,511.1 L1364.7,513.2 L1363.8,515.3 L1363.9,517.4 L1364,519.6 L1366.3,521.8 L1366.2,524 L1367.7,526.2 L1368.4,528.2 L1369.6,530.2 L1370.1,532.3 L1370.4,534.3 L1371.5,536.3 L1372.1,538.5 L1372.8,540.6 L1373.8,542.8 L1373.9,545 L1373.9,548.5 L1372.5,550.6 L1372.6,552.8 L1371.3,554.9 L1371.1,557 L1371.3,559.3 L1372.7,561.5 L1372.8,563.8 L1373.5,566 L1373.9,568.3 L1374.9,570.6 L1375.8,572.8 L1375.5,575.1 L1376.4,577.3 L1376.8,579.6 L1374.8,580.6 L1372.8,581.6 L1371.1,582.6 L1368.6,583.6 L1366.7,584.6 L1364.6,585.6 L1362.6,586.6 L1364.5,588.6 L1365.2,590.6 L1366.7,592.5 L1368,594.5 L1368.3,596.5 L1368.4,598.8 L1369.5,601.1 L1370.8,603.3 L1371.2,605.6 L1371.1,607.9 L1371.3,609.9 L1372.1,611.8 L1373.5,613.8 L1373.7,615.7 L1375.3,617.7 L1374.6,619.8 L1374.1,622 L1374.9,624.1 L1374.9,626.2 L1374.8,628.4 L1373.9,630.5 L1373.9,632.8 L1375.4,635 L1375.9,637.3 L1375.6,639.5 L1376.8,641.8 L1376.1,643.2 L1374.8,644.6 L1372,646 L1371.9,647.5 L1369.5,648.9 L1368.2,650.3 L1367.7,651.7 L1365.4,653.1 L1365.7,655.4 L1364.2,657.6 L1364.4,659.9 L1364.3,662.1 L1364,664.4 L1365.4,665.8 L1366.8,667.2 L1368.6,668.6 L1371,670.1 L1371.4,671.5 L1373.9,672.9 L1376,673.7 L1377.8,674.6 L1379,675.4 L1381.5,676.3 L1383.8,677.1 L1382.1,677.9 L1380.1,678.7 L1377.4,679.5 L1377.2,680.3 L1374.9,681 L1373.4,681.8 L1369.9,682.6 L1368.4,683.4 L1366.9,684.2 L1366.4,686.3 L1368.1,688.5 L1367.5,690.6 L1368.3,692.7 L1369.5,694.6 L1371.9,696.4 L1373.9,698.3 L1372.5,699.4 L1370.2,700.5 L1367.1,701.5 L1365.4,702.6 L1362.7,703.9 L1361.2,705.2 L1361,723.8 L1358.7,724.9 L1356.4,723.8 L1354.9,724.9 L1353.5,726.2 L1352,725.5 L1350.6,726.3 L1349.1,728.4 L1347.6,728.1 L1346.1,726.5 L1344.6,724.8 L1343.1,726.2 L1341.6,724.6 L1340.1,724.2 L1338.6,721.5 L1337.1,722.6 L1335.6,719.7 L1334.1,721 L1332.6,719.2 L1331.1,719.6 L1329.5,719.9 L1328,721 L1326.4,722.6 L1324.9,721.4 L1323.4,721.6 L1321.8,723.2 L1320.3,723 L1318.8,723.2 L1317.2,723.9 L1315.7,724.2 L1314.1,725.2 L1312.6,726.5 L1311.1,724.9 L1309.7,723.8 L1308.2,723.9 L1306.8,721.6 L1305.3,721 L1303.7,720.9 L1302.1,720 L1300.5,720.3 L1298.9,719.3 L1297.2,719.8 L1295.6,719.1 L1294,720.9 L1292.4,720.3 L1290.8,719.2 L1289.2,719.9 L1287.6,721 L1286,718.7 L1284.3,720.5 L1282.7,719.3 L1281.1,719.4 L1279.5,720.2 L1277.9,719.2 L1276.7,720 L1275.4,721.4 L1274.2,722.9 L1273,724.7 L1271.7,724.1 L1270.5,725.6 L1269.8,724.9 L1269,723 L1268.3,721.3 L1267.6,719.2 L1266.8,717.5 L1266.1,715.1 L1265.4,713.8 L1264.7,712.1 L1263.9,712.3 L1263.2,710.1 L1262,708.2 L1260.8,706.8 L1259.6,706.4 L1257.8,705.6 L1255.9,707.8 L1254.1,708.1 L1252.3,707.4 L1251.2,709 L1250.1,709.2 L1249,710.3 L1247.9,711.6 L1246.8,713.2 L1245.7,713.6 L1244.6,715.5 L1243.5,716.2 L1242.4,719.2 L1241.3,719.2 L1239.6,720.5 L1238,719.5 L1236.3,718.8 L1234.7,720.7 L1233,719.1 L1231.3,719.3 L1229.7,718.5 L1228,719.5 L1226.4,719.9 L1224.7,720 L1223,719.3 L1221.4,720.2 L1219.7,719 L1218.1,719.7 L1216.4,719.4 L1214.8,720.2 L1213.1,719.4 L1211.4,719.4 L1209.8,720.2 L1208.1,720.1 L1206.5,721.1 L1204.8,721 L1203.1,721.2 L1201.4,721.9 L1199.7,721.8 L1198.1,722.1 L1196.4,722.7 L1194.7,721.6 L1193,721.6 L1191.3,723.4 L1189.6,721.4 L1188,723 L1186.3,723 L1184.6,721.6 L1182.9,722.9 L1181.5,722.6 L1180.2,721.6 L1178.8,719.8 L1177.4,718.9 L1176,718 L1174.7,715.1 L1173.3,714.9 L1171.9,713.7 L1170.2,713.8 L1168.5,714.8 L1166.8,714.9 L1165.1,715.1 L1163.4,714.6 L1161.7,715.5 L1160,714.6 L1158.8,714.6 L1158,716.6 L1157.1,718.1 L1156.2,718.4 L1155.4,720.6 L1153.7,719.7 L1152,720.3 L1150.3,721.2 L1148.6,720.8 L1146.8,723 L1145.1,722.6 L1143.4,723.1 L1141.7,723.1 L1140,723.5 L1138.3,723.7 L1136.6,723.3 L1134.9,722.1 L1133.2,724.2 L1131.5,724.1 L1129.8,723.6 L1128.1,723.7 L1126.4,724.1 L1124.7,722.6 L1123,724.4 L1121.3,723.2 L1119.6,722.8 L1117.9,724 L1116.6,722.4 L1115.3,722.7 L1114,720.3 L1112.8,720.8 L1111.5,720.4 L1110.2,718.2 L1108.9,717 L1107.6,716.3 L1105.9,716.5 L1104.2,717.3 L1102.5,717.8 L1100.8,717.6 L1099.1,718 L1097.4,716.8 L1095.7,717.2 L1094,717.7 L1092.3,719.3 L1090.6,718.9 L1089,718.5 L1087.4,719.3 L1085.7,718 L1084.1,718.2 L1082.5,718.9 L1080.9,720.1 L1079.2,720.2 L1077.6,720.3 L1076,719.4 L1074.4,720.1 L1072.7,720.1 L1071.1,720.2 L1069.5,719.5 L1067.9,721.6 L1066.2,719.9 L1064.6,722 L1063,722.1 L1061.4,719.8 L1059.7,721.1 L1058.1,722.1 L1056.5,721.4 L1054.9,722.6 L1053.3,721.3 L1051.7,720.8 L1050.1,720.6 L1048.5,722.6 L1046.9,720.6 L1045.3,721.6 L1043.7,720.5 L1042,721.5 L1040.4,722.6 L1038.8,720.4 L1037.2,722.2 L1035.6,721.4 L1034,722.4 L1032.4,721.9 L1030.8,720.7 L1029.2,721.4 L1028,721 L1026.9,718.5 L1025.8,715.9 L1024.6,714.4 L1023.4,714.3 L1022.3,712.9 L1020.6,712.3 L1018.9,712 L1017.6,712.6 L1016.4,713.2 L1015.1,714.8 L1013.8,715.8 L1012.5,718.3 L1011.2,717.2 L1010,720.2 L1008.7,720.6 L1007,721.6 L1005.3,719.9 L1003.6,722.1 L1001.9,721.7 L1000.2,722.4 L998.5,720.9 L996.7,721.3 L995,721.5 L993.3,723.2 L991.6,722.2 L989.9,721.8 L988.2,722.3 L986.5,722.2 L984.8,721.8 L983.1,721.3 L981.4,721.5 L979.7,723.5 L978,722.1 L976.2,723.8 L974.5,722.1 L972.8,722.2 L971.1,722.9 L969.4,722.1 L967.7,722.7 L966,724.2 L964.3,723.1 L963.2,725.6 L962.2,726.9 L961.1,727.9 L960.1,729.1 L959,728.8 L957.9,727.6 L956.8,725.2 L955.7,724.3 L954.6,721.2 L953.5,721.6 L952.4,719.7 L950.7,719.4 L949,720 L947.3,719.5 L945.6,718.4 L943.9,717.6 L942.2,719.7 L940.5,717.4 L938.8,718.1 L937.1,718 L935.4,717.5 L933.7,717.3 L932,718.4 L930.3,718.9 L928.5,717 L926.8,717.9 L925.1,716.9 L923.4,717.5 L921.7,717 L920,717.2 L918.4,716.7 L916.7,717 L915.1,717.5 L913.4,719.6 L911.8,718.9 L910.1,719 L908.4,718.4 L906.7,720.3 L904.9,720.6 L903.2,719.3 L901.5,718.6 L899.8,719.7 L898.4,720.1 L897,720.9 L895.5,722.7 L894.1,723.2 L892.7,724.8 L891.3,726.6 L889.6,726.1 L887.9,727 L886.1,728 L884.4,727.8 L882.7,727 L881,727.4 L879.8,726 L878.6,725.1 L877.4,723.5 L876.2,722.2 L875,720.3 L873.9,719.7 L872.7,720.3 L871.5,716.9 L870.3,716.7 L869.1,715.5 L867.4,715.8 L865.7,716.3 L864,714.5 L862.3,714.6 L860.6,714.4 L858.8,714.7 L857.1,714.8 L855.4,716 L853.7,715.7 L852,715.7 L850.3,714.6 L849.4,714.7 L848.6,716.2 L847.8,719.3 L846.9,721.2 L846,721.5 L845.2,723.2 L844.4,723 L843.5,725.7 L841.8,725.4 L840.1,726.8 L838.4,726.5 L836.7,726.6 L835,726.9 L833.3,725 L831.6,724.7 L829.9,724.8 L828.2,725.8 L826.5,725.7 L824.8,726 L823.1,726.5 L821.3,725.8 L819.6,725.4 L817.9,724.9 L816.6,724.5 L815.4,722.6 L814.1,721.8 L812.8,719.4 L811.5,720.3 L810.2,717.8 L809,718.5 L807.7,716.3 L806.6,718.1 L805.4,718.7 L804.3,719.6 L803.2,721.4 L802,723.8 L800.9,724.9 L799.7,724.2 L798.4,721.4 L797.2,720.1 L796,720 L794.8,719 L793.5,717.2 L792.3,716.3 L790.6,715.3 L788.9,716 L787.2,714.2 L785.5,714.7 L783.8,714.8 L782.1,714.6 L780.4,716.4 L778.7,716.3 L777,717.5 L775.3,717.2 L773.6,717.1 L771.9,716.5 L770.2,716.5 L768.5,718.4 L766.8,717.7 L765,716.7 L763.3,716 L761.6,717.2 L759.9,717.7 L758.2,717.2 L756.5,717.2 L754.8,717.1 L753.1,718.4 L751.4,719.3 L749.7,717.7 L748,717.5 L746.3,718.5 L744.6,719 L742.9,719.9 L741.2,719.7 L739.7,719.9 L738.2,722.4 L736.7,723.2 L735.2,723.6 L733.7,723.7 L732.2,726.7 L730.7,725.9 L729.2,727.4 L727.7,727.2 L726.1,724.7 L724.5,723.7 L723,724.1 L721.5,721.9 L719.9,721.4 L718.7,723.8 L717.5,723.7 L716.4,724.1 L715.2,725.4 L714,727.1 L712.9,728.9 L711.7,730.8 L710.5,730.8 L709.2,728.8 L707.9,728.4 L706.6,726.9 L705.4,727.8 L704.1,724.6 L702.8,723.3 L701.5,722.2 L700.2,722.3 L698.5,721.6 L696.8,722.5 L695.1,722 L693.4,721.2 L691.7,721.4 L690,719.7 L688.4,720.8 L686.7,719.3 L685.1,718.9 L683.4,720.8 L681.8,719.7 L680.1,720.3 L678.4,718.3 L676.7,719.9 L675,719.1 L673.2,719 L671.5,718.8 L669.8,718.3 L668.1,717.8 L666.4,718.4 L664.7,718.9 L663,718.3 L661.3,719.7 L659.6,717.4 L657.9,719.4 L656.2,717.3 L654.4,717.5 L652.7,718.5 L651,718.4 L649.3,717.2 L647.6,717.2 L645.9,715.9 L644.2,716.8 L642.5,716.4 L640.8,717.6 L639.1,715.6 L637.4,715.8 L635.7,717 L634,714.6 L632.3,715.4 L630.6,715.5 L628.9,716.2 L627.2,715.9 L625.5,713.9 L623.7,713.7 L622,713.6 L620.3,714.6 L619.2,717 L618,716.5 L616.9,719.1 L615.8,720.8 L614.6,720.6 L613.5,722.3 L611.8,722 L610.1,724.2 L608.4,723.6 L606.7,723 L605,724.6 L603.3,723.9 L601.6,724.1 L599.9,723.7 L598.2,726 L596.5,725.7 L594.9,726.7 L593.3,725.8 L591.7,726.5 L590.1,724 L588.5,724.5 L586.9,725 L585.3,726.1 L583.7,726 L582.1,724.4 L580.5,724 L578.9,724.3 L577.3,724.4 L575.7,725.4 L574.1,723.4 L572.5,724.9 L570.9,724 L569.7,723.3 L568.4,722.2 L567.2,720.7 L566,718.9 L564.8,716.8 L563.5,715.5 L562.3,714.6 L560.6,713.4 L558.9,713.6 L557.2,712 L555.5,711.6 L553.8,712.6 L552.1,714.8 L550.4,714.1 L548.7,715.5 L547.4,715.5 L546.2,716.6 L544.9,719.2 L543.6,719.7 L542.3,722.6 L541,723.5 L539.8,725 L538.5,724.9 L536.8,724.5 L535.1,724.2 L533.4,724.5 L531.6,725.7 L529.9,726.5 L528.2,726 L526.5,725.7 L524.8,726.6 L523.1,726.1 L521.4,726.3 L519.7,725.7 L518.9,724.6 L518.2,723.3 L517.4,722 L516.7,720 L515.9,717.1 L515.2,717.5 L514.4,714.5 L513.7,713.7 L512.9,712 L511.6,710.3 L510.4,709.9 L509.1,707.2 L507.8,706.6 L506.1,705.9 L504.4,705.9 L502.7,705.7 L501,706.6 L499.6,708.6 L498.1,708.7 L496.7,709.5 L495.7,710.5 L494.7,712.1 L493.7,715 L492.7,715.2 L491.7,715.9 L490.7,718 L489,719 L487.3,718.8 L485.6,719.9 L483.9,717.8 L482.1,719 L480.4,720.1 L478.7,720.4 L477,719.7 L475.3,720.9 L473.6,718.7 L471.9,719.4 L470.2,719.1 L468.5,719.3 L466.8,721.5 L465.1,720.5 L463.4,721.5 L461.7,720.2 L460,720.6 L458.4,722.2 L456.7,721.8 L455.1,722 L453.4,724 L451.8,724 L450.1,725.2 L448.4,723.2 L446.7,724.5 L445,724.7 L443.2,723.7 L441.5,724.2 L439.8,723.7 L438.1,724 L436.4,724.2 L434.7,724.9 L433,724.9 L431.3,724.8 L429.6,723.3 L427.9,722.6 L426.1,723.2 L424.4,723.8 L422.7,722.3 L421,722.3 L419.3,721.8 L417.6,722.3 L415.9,723.1 L414.2,722.4 L412.5,721.2 L410.8,721.3 L409.1,722 L407.4,722.4 L405.7,722.7 L404,721.2 L402.3,721.4 L400.6,722.3 L398.9,722.6 L397.2,721.7 L395.5,721.2 L393.8,721.1 L392.1,722.6 L390.3,720.8 L388.6,721.3 L386.9,720.6 L385.2,720.6 L383.5,720.6 L381.8,721.2 L380.1,721.2 L378.4,719.2 L376.7,718.5 L375,719.5 L373.3,717.8 L371.6,716.9 L369.9,718.9 L368.2,717.3 L366.5,717.2 L365.1,717 L363.7,714.9 L362.4,715.1 L361,712.9 L359.6,712 L357.9,711.4 L356.2,711.3 L354.5,713 L352.8,713.6 L351.1,714.6 L349.4,713.8 L347.7,712.8 L346,714.3 L344.3,713.7 L342.6,714.1 L340.9,713.3 L339.1,713.7 L337.4,714.4 L335.7,715.5 L334,713.5 L332.3,714.6 L330.6,714.7 L328.9,715.6 L327.2,716.1 L325.5,714.2 L323.8,714.1 L322.1,716.4 L320.4,716.5 L318.7,715.4 L317,715.5 L315.3,715.2 L313.6,718.3 L311.9,717.8 L310.2,718.9 L309,721.3 L307.7,721.9 L306.5,723.8 L305.3,723.4 L304.1,726.4 L302.8,726.2 L301.6,728.3 L299.9,728.1 L298.2,729.3 L296.5,729.4 L294.8,727.7 L293.1,727.9 L291.4,728.4 L289.7,728.8 L288,728.5 L286.3,727.9 L284.6,728.3 L282.9,729.6 L281.2,729.1 L280.4,728 L279.5,724.9 L278.1,722.6 L276.6,722.8 L275.2,722.1 L273.8,719.1 L272.3,720 L270.9,718 L269.2,717.7 L267.5,719.6 L265.8,720.1 L264.1,720.6 L262.6,721.8 L261.2,721.8 L259.7,723 L258.3,724.2 L256.8,724.7 L255.4,726.2 L253.9,726.6 L252.2,726.6 L250.5,726.6 L248.8,725.7 L247.1,727.3 L245.3,727.1 L243.6,726.5 L241.9,728 L240.2,727.4 L239.2,726.8 L238.1,724.6 L237.1,722.5 L236,721.9 L235,720.6 L233.3,718.4 L231.7,717.4 L230,717.2 L228.3,716.8 L226.6,715.8 L225,716.5 L223.3,716.5 L221.6,715.2 L219.9,716.5 L218.2,714.9 L216.6,716.4 L214.9,716.4 L213.2,715.5 L211.5,715.4 L209.8,714.2 L208.1,715.2 L206.4,714.8 L204.7,716.2 L203,714 L201.3,715.8 L199.6,716.1 L197.9,715.3 L196.2,714.6 L194.5,715.5 L192.8,714.1 L191.1,716.2 L189.3,715.1 L187.6,716.4 L185.9,716.5 L184.2,715.5 L183.1,716 L181.9,719.1 L180.8,720.9 L179.7,720 L178.5,722.2 L177.4,724 L175.7,724.7 L174,723.1 L172.3,725 L170.6,723.4 L168.9,724 L168.4,723.1 L167.9,719.7 L167.3,718.9 L166.8,718.3 L166.3,715.5 L164.3,714.2 L162.3,713.8 L160.3,713.8 L158.9,714.8 L157.6,715.4 L156.2,715.7 L154.9,717.1 L153.5,718.9 L152.1,718.9 L150.7,721.7 L149.2,721.9 L147.8,723.3 L146.4,722.3 L145,724 L143.3,724.7 L141.6,723 L139.9,724.1 L138.2,724.4 L136.5,723.6 L134.8,725 L133.1,724.1 L131.3,724.2 L129.6,725 L127.9,723 L126.2,725.3 L124.5,724.3 L122.8,723.7 L121.1,724.8 L119.4,724 L117.7,723.3 L116,725.1 L114.3,723.9 L112.6,723.3 L110.8,724.2 L109.1,723.3 L107.4,722.5 L105.7,723.9 L104,722 L102.3,723.1 L100.6,723.8 L98.9,722.2 L97.2,723 L95.5,723.7 L93.8,722.6 L92.1,722.6 L90.4,721.5 L88.7,720.6 L87,720.5 L85.3,720.6 L83.6,721.4 L82.2,720.7 L80.7,719.3 L79.3,718.5 L77.9,718.5 L76.4,715.5 L75,715.5 L73.8,713.7 L72.5,713.7 L71.2,711 L70,711.2 L68.5,709.1 L67,709.1 L65.5,707.6 L64,707.8 L62.5,708.5 L61,709.2 L59.5,711.2 L58,712 L56.8,713.4 L55.7,713.5 L54.5,715.8 L53.3,716.5 L52.2,716.8 L51,718.9 L49.3,720.2 L47.6,718.6 L45.9,718.5 L44.2,718.5 L42.5,720.1 L40.8,720.9 L39.1,720.8 L37.4,720 L35.7,719.8 L34,720.6 L32.3,719.2 L30.6,720.6 L28.9,720.3 L27.2,719.5 L25.5,720.1 L23.8,719.4 L22.1,720.5 L20.4,719.8 L18.7,718.4 L17,718.9 L15.3,719.4 L13.6,716.6 L11.9,717.2 L10.5,718.1 L9.1,718.6 L7.7,719.7 L6.2,720.1 L4.6,720.6 L3.1,723.5 L1.5,722.6 L0,724.9 Z" fill="#494e54"/></g>
<g clip-path="url(#paperclip)">
<path d="M1,709 H162 Q166,709 166,713 V722 H163 V713 H1 Z" fill="#3bb30f"/>
<path d="M313.5,722 V713 Q313.5,709 318,709 H1360 V713 H317.5 V722 Z" fill="#3bb30f"/>
</g>
<path d="M1384.7,0 L1382.3,0.4 L1379.9,0.9 L1378.4,1.3 L1376.3,2.1 L1373,3 L1371.5,3.8 L1369.1,4.6 L1366.9,5.3 L1364.4,5.9 L1363.2,6.6 L1362.5,8.6 L1362.5,11.4 L1362.5,14.3 L1363.7,16.1 L1366.5,17.9 L1368.4,19.5 L1370.5,21.2 L1372.8,24.2 L1374.1,27.2 L1371.5,28.6 L1369.1,30.6 L1367.4,32.5 L1366.5,34.5 L1366.5,37.2 L1368.4,39.2 L1370.5,41.2 L1373.2,42.3 L1374.1,43.3 L1376.4,44.4 L1379.2,45.4 L1381.1,46.5 L1379.5,47.5 L1376.4,48.5 L1373.8,49.5 L1371.6,50.2 L1370.6,50.8 L1367.7,51.5 L1365.4,53.2 L1365.3,55 L1363.2,56.7 L1365.2,58 L1367.2,59.2 L1370.2,60.5 L1371.5,61.4 L1373.8,62.3 L1376.7,63.2 L1377.5,64.1 L1380.2,65 L1382.3,65.9 L1384,66.8 L1381.9,67.6 L1380.3,68.5 L1377.6,69.3 L1375.7,70.1 L1374.1,71 L1372.7,71.8 L1371,72.8 L1368.6,73.8 L1366.4,74.8 L1364.9,75.8 L1362.7,76.8 L1364.3,78.1 L1365.7,79.3 L1367.7,80.6 L1370.1,81.5 L1371.8,82.5 L1372.9,83.5 L1375.4,84.4 L1377.2,85.3 L1379.7,86.3 L1381.3,87.2 L1382.8,88.2 L1380.9,89.7 L1380.7,91.2 L1377.6,92.7 L1376.7,94.2 L1375.3,95.7 L1374.1,97.1 L1371.4,98.6 L1370.4,100 L1368,101.5 L1367.5,102.9 L1366.1,104.4 L1364,105.8 L1365.4,107.5 L1367.1,109.1 L1367.7,110.8 L1369.3,112.4 L1371.9,113.9 L1373.6,115.5 L1375.3,117.1 L1374,118.6 L1372.3,120.1 L1371.5,121.5 L1370.2,123 L1367.8,124.5 L1366.4,126 L1368.3,127.2 L1368.8,128.5 L1371.5,129.8 L1372.7,131 L1375,132.3 L1377.6,133.5 L1379.3,134.8 L1380.4,136 L1382.8,137.3 L1381.6,139 L1381.1,140.8 L1378.9,142.5 L1378.7,144.3 L1377.8,146 L1375.6,147.5 L1373.9,148.9 L1372.1,150.4 L1371.8,151.8 L1369,153.3 L1367.6,154.7 L1366.4,156.2 L1367.2,158.2 L1369.1,160.2 L1368.7,162.2 L1370.4,164.2 L1371.5,166.2 L1371.3,168.2 L1371.7,170.2 L1371.3,172.3 L1371.1,174.3 L1370.2,176.3 L1370.2,178.5 L1370.9,180.8 L1371.5,183 L1371.6,185.3 L1373,187.7 L1372.7,190 L1375.1,191.9 L1375.2,193.8 L1376.8,195.7 L1379,197.6 L1376.6,198.7 L1374.8,199.7 L1373.3,200.8 L1371.6,201.9 L1369.2,202.9 L1367.7,204 L1367.8,205.9 L1369.5,207.8 L1370.3,209.6 L1371.5,211.5 L1373.5,213.1 L1376.1,214.7 L1377.5,216.2 L1379,217.8 L1379.3,219.8 L1379.7,221.8 L1380.1,223.9 L1379.2,225.9 L1380.3,227.9 L1379.1,228.7 L1377,229.6 L1375.3,230.4 L1373.3,231.2 L1370.7,232.1 L1369,232.9 L1368.6,235 L1367.9,237.1 L1368.6,239.2 L1367.3,241.3 L1367.1,243.4 L1367.7,245.5 L1368.7,247 L1370.1,248.5 L1372,250 L1373,251.5 L1375.3,253 L1375.8,254.5 L1377.5,256 L1378.8,257.6 L1380.7,259.1 L1382.3,260.6 L1380.3,262.7 L1380.8,264.8 L1379,266.9 L1377.4,268.4 L1374.8,269.9 L1373.3,271.5 L1371.7,273 L1370.2,274.5 L1370.3,276.7 L1370.2,278.9 L1371.8,281.1 L1371.5,283.3 L1373.6,285.8 L1374,288.3 L1372.6,289.8 L1371.3,291.3 L1369.2,292.9 L1367.8,294.4 L1367.2,295.9 L1368.3,297.8 L1369.5,299.7 L1371.8,301.5 L1372,303.4 L1373.1,305.3 L1375.3,307.2 L1374.6,309 L1372.3,310.7 L1370.1,312.5 L1369.3,314.2 L1367.7,316 L1366.3,318 L1366.8,320 L1367.1,322.1 L1366.4,324.1 L1365.2,326.1 L1364.8,328.4 L1363.3,330.6 L1362.7,332.9 L1361.6,335.1 L1361.4,337.4 L1363.8,338.2 L1365.3,339 L1367.7,339.8 L1368.9,340.6 L1370.6,341.4 L1373.6,342.2 L1375.9,343 L1377.6,343.8 L1379.5,344.6 L1381.4,345.4 L1382.8,346.2 L1381.6,347.5 L1379,348.7 L1377.8,350 L1375.9,350.9 L1373.6,351.8 L1371,352.7 L1369.1,353.6 L1367.5,354.5 L1365.5,355.4 L1364,356.3 L1364.6,359.1 L1364.5,362 L1365.6,364.6 L1364.9,367.1 L1365.2,369.7 L1366,372 L1366.1,374.3 L1366,376.6 L1365.2,378.9 L1367.1,380.2 L1368.9,381.4 L1371.5,382.7 L1372.8,384.2 L1374.5,385.7 L1376.2,387.2 L1378.8,388.7 L1380.3,390.2 L1382.3,392.1 L1383.4,394 L1384,395.9 L1385.3,397.8 L1384.7,400 L1384,402.2 L1381.8,404.4 L1381.6,406.6 L1380.4,408 L1379.5,409.5 L1377.8,410.9 L1376.3,412.4 L1374.3,413.8 L1372.4,415.3 L1371.5,416.7 L1373.5,418.2 L1374.1,419.6 L1376.4,421.1 L1378.2,422.6 L1378.6,424 L1380.3,425.5 L1379.9,427.5 L1380.6,429.5 L1379.9,431.6 L1378.7,433.6 L1379,435.6 L1376.8,437 L1375.2,438.4 L1375,439.8 L1373.3,441.2 L1370.5,442.7 L1370.1,444.1 L1368.8,445.5 L1366.4,446.9 L1368.1,448.3 L1369,449.8 L1370.8,451.2 L1371.5,452.7 L1372.7,454.1 L1375.9,455.6 L1376.5,457 L1375.2,458.4 L1373.4,459.8 L1372.6,461.2 L1370.1,462.6 L1369.3,464.1 L1367.6,465.5 L1365,466.9 L1363.9,468.3 L1365.2,469.8 L1367,471.3 L1368.7,472.9 L1371.1,474.4 L1372.7,475.9 L1372.9,478.4 L1374,480.9 L1373.6,482.9 L1372.8,484.9 L1374,487 L1372.7,489 L1372.7,491 L1372.6,493 L1372.9,495 L1373.4,497.1 L1372.6,499.1 L1372.7,501.1 L1372.2,502.8 L1370.2,504.4 L1369,506.1 L1367.7,507.8 L1365.6,509.4 L1365.2,511.1 L1364.7,513.2 L1363.8,515.3 L1363.9,517.4 L1364,519.6 L1366.3,521.8 L1366.2,524 L1367.7,526.2 L1368.4,528.2 L1369.6,530.2 L1370.1,532.3 L1370.4,534.3 L1371.5,536.3 L1372.1,538.5 L1372.8,540.6 L1373.8,542.8 L1373.9,545 L1373.9,548.5 L1372.5,550.6 L1372.6,552.8 L1371.3,554.9 L1371.1,557 L1371.3,559.3 L1372.7,561.5 L1372.8,563.8 L1373.5,566 L1373.9,568.3 L1374.9,570.6 L1375.8,572.8 L1375.5,575.1 L1376.4,577.3 L1376.8,579.6 L1374.8,580.6 L1372.8,581.6 L1371.1,582.6 L1368.6,583.6 L1366.7,584.6 L1364.6,585.6 L1362.6,586.6 L1364.5,588.6 L1365.2,590.6 L1366.7,592.5 L1368,594.5 L1368.3,596.5 L1368.4,598.8 L1369.5,601.1 L1370.8,603.3 L1371.2,605.6 L1371.1,607.9 L1371.3,609.9 L1372.1,611.8 L1373.5,613.8 L1373.7,615.7 L1375.3,617.7 L1374.6,619.8 L1374.1,622 L1374.9,624.1 L1374.9,626.2 L1374.8,628.4 L1373.9,630.5 L1373.9,632.8 L1375.4,635 L1375.9,637.3 L1375.6,639.5 L1376.8,641.8 L1376.1,643.2 L1374.8,644.6 L1372,646 L1371.9,647.5 L1369.5,648.9 L1368.2,650.3 L1367.7,651.7 L1365.4,653.1 L1365.7,655.4 L1364.2,657.6 L1364.4,659.9 L1364.3,662.1 L1364,664.4 L1365.4,665.8 L1366.8,667.2 L1368.6,668.6 L1371,670.1 L1371.4,671.5 L1373.9,672.9 L1376,673.7 L1377.8,674.6 L1379,675.4 L1381.5,676.3 L1383.8,677.1 L1382.1,677.9 L1380.1,678.7 L1377.4,679.5 L1377.2,680.3 L1374.9,681 L1373.4,681.8 L1369.9,682.6 L1368.4,683.4 L1366.9,684.2 L1366.4,686.3 L1368.1,688.5 L1367.5,690.6 L1368.3,692.7 L1369.5,694.6 L1371.9,696.4 L1373.9,698.3 L1372.5,699.4 L1370.2,700.5 L1367.1,701.5 L1365.4,702.6 L1362.7,703.9 L1361.2,705.2" fill="none" stroke="#1a1a1a" stroke-width="1" shape-rendering="crispEdges"/>
<!-- green annotation -->
<rect x="1.5" y="1.5" width="683" height="40" fill="none" stroke="#00fa00" stroke-width="3"/>
<path d="M286.29,39.64 L285.99,41.59 L285.67,43.54 L285.31,45.50 L284.91,47.45 L284.49,49.41 L284.04,51.37 L283.56,53.34 L283.05,55.30 L282.51,57.27 L281.95,59.23 L281.37,61.20 L280.76,63.17 L280.14,65.15 L279.49,67.12 L278.82,69.09 L278.14,71.07 L277.43,73.05 L276.71,75.03 L275.97,77.00 L275.22,78.98 L274.46,80.97 L273.68,82.95 L272.88,84.93 L272.08,86.91 L271.25,88.89 L270.42,90.88 L269.57,92.86 L268.72,94.84 L267.85,96.82 L266.98,98.81 L266.10,100.79 L265.21,102.78 L264.31,104.76 L263.41,106.75 L262.49,108.73 L261.58,110.72 L260.66,112.71 L259.73,114.70 L258.79,116.68 L257.86,118.67 L256.91,120.66 L255.97,122.65 L255.02,124.64 L254.06,126.62 L253.10,128.61 L252.14,130.60 L251.18,132.59 L250.21,134.58 L249.24,136.57 L248.27,138.56 L247.29,140.55 L246.31,142.54 L245.33,144.53 L244.35,146.52 L243.37,148.51 L242.39,150.51 L241.41,152.50 L240.42,154.50 L239.44,156.49 L238.45,158.48 L237.47,160.48 L236.48,162.47 L235.49,164.47 L234.50,166.46 L233.50,168.46 L232.51,170.45 L231.51,172.45 L230.52,174.44 L229.52,176.43 L228.52,178.43 L227.52,180.42 L226.52,182.42 L225.51,184.41 L224.51,186.41 L223.50,188.40 L222.50,190.39 L221.49,192.39 L220.48,194.38 L219.47,196.38 L218.46,198.37 L217.44,200.37 L216.43,202.36 L215.41,204.35 L214.39,206.35 L213.38,208.34 L212.36,210.34 L211.33,212.33 L210.31,214.33 L209.29,216.32 L208.26,218.31 L207.23,220.31 L206.20,222.30 L205.17,224.29 L204.14,226.29 L203.12,228.29 L202.09,230.28 L201.06,232.28 L200.03,234.28 L198.99,236.28 L197.96,238.27 L196.92,240.27 L195.89,242.27 L194.85,244.26 L193.81,246.26 L192.76,248.26 L191.72,250.26 L190.67,252.25 L189.63,254.25 L188.58,256.25 L187.53,258.25 L186.48,260.24 L185.42,262.24 L184.37,264.24 L183.31,266.24 L182.26,268.23 L181.20,270.23 L180.14,272.23 L179.08,274.23 L178.01,276.22 L176.95,278.22 L175.88,280.22 L174.82,282.22 L173.75,284.22 L172.68,286.21 L171.61,288.21 L170.54,290.21 L169.47,292.21 L168.40,294.21 L167.32,296.21 L166.25,298.20 L165.17,300.20 L164.10,302.20 L163.02,304.20 L161.95,306.20 L160.88,308.20 L159.81,310.21 L158.74,312.21 L157.66,314.21 L156.59,316.21 L155.52,318.21 L154.44,320.22 L153.37,322.22 L152.29,324.22 L151.22,326.22 L150.15,328.23 L149.07,330.23 L148.00,332.23 L146.93,334.24 L145.85,336.24 L144.78,338.24 L143.71,340.25 L142.64,342.25 L141.57,344.25 L140.50,346.26 L139.43,348.26 L138.36,350.26 L137.30,352.27 L136.23,354.27 L135.17,356.27 L134.10,358.28 L133.04,360.28 L131.98,362.29 L130.92,364.29 L129.86,366.30 L128.81,368.30 L127.75,370.30 L126.70,372.31 L125.65,374.31 L124.60,376.32 L123.55,378.32 L122.50,380.33 L121.46,382.33 L120.42,384.34 L119.38,386.35 L118.35,388.35 L117.31,390.36 L116.28,392.36 L115.25,394.37 L114.23,396.38 L113.20,398.38 L112.18,400.39 L111.16,402.40 L110.15,404.40 L109.13,406.41 L108.12,408.42 L107.11,410.43 L106.11,412.43 L105.10,414.44 L104.10,416.45 L103.10,418.45 L102.11,420.46 L101.12,422.47 L100.13,424.47 L99.14,426.48 L98.16,428.49 L97.18,430.50 L96.20,432.50 L95.23,434.51 L94.26,436.52 L93.29,438.53 L92.32,440.53 L91.36,442.54 L90.40,444.55 L89.45,446.55 L88.50,448.56 L87.55,450.57 L86.60,452.58 L85.66,454.58 L84.72,456.59 L83.78,458.60 L82.84,460.60 L81.91,462.61 L80.97,464.61 L80.04,466.62 L79.12,468.62 L78.20,470.62 L77.28,472.63 L76.37,474.63 L75.45,476.64 L74.55,478.64 L73.64,480.65 L72.74,482.65 L71.85,484.66 L70.96,486.67 L70.07,488.67 L69.18,490.68 L68.30,492.68 L67.43,494.69 L66.55,496.69 L65.69,498.70 L64.82,500.70 L63.97,502.71 L63.11,504.72 L62.26,506.72 L61.42,508.73 L60.58,510.74 L59.74,512.74 L58.91,514.75 L58.09,516.76 L57.27,518.77 L56.46,520.78 L55.65,522.78 L54.85,524.79 L54.06,526.80 L53.27,528.81 L52.49,530.82 L51.72,532.83 L50.95,534.84 L50.19,536.85 L49.44,538.86 L48.70,540.87 L47.96,542.89 L47.24,544.90 L46.52,546.91 L45.81,548.93 L45.12,550.94 L44.43,552.96 L43.76,554.97 L43.09,556.99 L42.44,559.01 L41.80,561.02 L41.17,563.04 L40.56,565.06 L39.96,567.08 L39.37,569.11 L38.80,571.13 L38.26,573.15 L37.73,575.18 L37.21,577.21 L36.72,579.24 L36.24,581.27 L35.79,583.30 L35.35,585.34 L34.94,587.37 L34.55,589.41 L34.18,591.44 L33.84,593.48 L33.52,595.52 L33.23,597.56 L32.96,599.61 L32.73,601.65 L32.52,603.70 L32.35,605.75 L32.21,607.80 L32.11,609.86 L32.04,611.91 L32.00,613.97 L32.01,616.03 L32.05,618.09 L32.14,620.15 L32.28,622.22 L32.45,624.28 L32.68,626.35 L32.95,628.42 L33.28,630.50 L33.66,632.57 L34.09,634.65 L39.97,633.35 L39.58,631.43 L39.24,629.50 L38.95,627.58 L38.71,625.65 L38.51,623.72 L38.36,621.78 L38.25,619.85 L38.18,617.91 L38.15,615.97 L38.16,614.03 L38.20,612.09 L38.29,610.14 L38.40,608.20 L38.55,606.25 L38.73,604.30 L38.94,602.35 L39.18,600.39 L39.45,598.44 L39.74,596.48 L40.07,594.52 L40.41,592.56 L40.78,590.59 L41.18,588.63 L41.60,586.66 L42.03,584.70 L42.49,582.73 L42.97,580.76 L43.47,578.79 L43.98,576.82 L44.52,574.85 L45.07,572.87 L45.62,570.89 L46.20,568.92 L46.79,566.94 L47.39,564.96 L48.01,562.98 L48.64,560.99 L49.28,559.01 L49.94,557.03 L50.60,555.04 L51.28,553.06 L51.97,551.07 L52.67,549.09 L53.38,547.10 L54.10,545.11 L54.82,543.13 L55.56,541.14 L56.30,539.15 L57.06,537.16 L57.82,535.17 L58.58,533.18 L59.36,531.19 L60.14,529.20 L60.93,527.21 L61.73,525.22 L62.53,523.22 L63.34,521.23 L64.15,519.24 L64.97,517.25 L65.79,515.26 L66.62,513.26 L67.46,511.27 L68.30,509.28 L69.15,507.28 L70.00,505.29 L70.85,503.30 L71.71,501.30 L72.58,499.31 L73.45,497.31 L74.32,495.32 L75.20,493.32 L76.08,491.33 L76.96,489.33 L77.85,487.34 L78.75,485.35 L79.64,483.35 L80.54,481.36 L81.45,479.36 L82.36,477.37 L83.27,475.37 L84.18,473.38 L85.10,471.38 L86.03,469.38 L86.95,467.39 L87.88,465.39 L88.82,463.40 L89.75,461.40 L90.70,459.41 L91.65,457.42 L92.60,455.42 L93.55,453.43 L94.51,451.44 L95.48,449.45 L96.44,447.45 L97.41,445.46 L98.38,443.47 L99.36,441.47 L100.34,439.48 L101.32,437.49 L102.30,435.50 L103.29,433.50 L104.28,431.51 L105.28,429.52 L106.27,427.53 L107.27,425.53 L108.28,423.54 L109.28,421.55 L110.29,419.55 L111.30,417.56 L112.31,415.57 L113.33,413.57 L114.35,411.58 L115.37,409.59 L116.40,407.60 L117.42,405.60 L118.45,403.61 L119.49,401.62 L120.52,399.62 L121.56,397.63 L122.60,395.64 L123.64,393.64 L124.69,391.65 L125.73,389.65 L126.78,387.66 L127.83,385.67 L128.88,383.67 L129.94,381.68 L130.99,379.68 L132.05,377.69 L133.10,375.69 L134.16,373.70 L135.23,371.70 L136.29,369.70 L137.36,367.71 L138.42,365.71 L139.49,363.72 L140.56,361.72 L141.63,359.73 L142.70,357.73 L143.78,355.73 L144.85,353.74 L145.93,351.74 L147.00,349.74 L148.08,347.75 L149.16,345.75 L150.24,343.75 L151.32,341.76 L152.40,339.76 L153.48,337.76 L154.56,335.77 L155.64,333.77 L156.72,331.77 L157.81,329.78 L158.89,327.78 L159.97,325.78 L161.05,323.78 L162.14,321.79 L163.22,319.79 L164.30,317.79 L165.39,315.79 L166.47,313.79 L167.55,311.80 L168.63,309.80 L169.71,307.80 L170.79,305.80 L171.86,303.80 L172.94,301.80 L174.01,299.79 L175.08,297.79 L176.16,295.79 L177.23,293.79 L178.30,291.79 L179.37,289.79 L180.43,287.78 L181.50,285.78 L182.57,283.78 L183.63,281.78 L184.69,279.78 L185.76,277.77 L186.82,275.77 L187.88,273.77 L188.93,271.77 L189.99,269.76 L191.05,267.76 L192.10,265.76 L193.15,263.76 L194.21,261.75 L195.25,259.75 L196.30,257.75 L197.35,255.75 L198.40,253.74 L199.44,251.74 L200.48,249.74 L201.52,247.74 L202.56,245.73 L203.60,243.73 L204.63,241.73 L205.67,239.72 L206.70,237.72 L207.73,235.72 L208.76,233.72 L209.79,231.71 L210.82,229.71 L211.83,227.71 L212.85,225.70 L213.86,223.69 L214.88,221.69 L215.89,219.68 L216.90,217.67 L217.91,215.67 L218.92,213.66 L219.92,211.66 L220.93,209.65 L221.93,207.65 L222.93,205.64 L223.93,203.63 L224.93,201.63 L225.93,199.62 L226.93,197.62 L227.92,195.61 L228.91,193.61 L229.91,191.60 L230.90,189.59 L231.89,187.59 L232.88,185.58 L233.86,183.58 L234.85,181.57 L235.83,179.57 L236.82,177.56 L237.80,175.55 L238.78,173.55 L239.76,171.54 L240.74,169.54 L241.72,167.53 L242.69,165.53 L243.67,163.52 L244.64,161.52 L245.61,159.51 L246.58,157.50 L247.55,155.50 L248.52,153.49 L249.48,151.49 L250.44,149.48 L251.40,147.47 L252.35,145.46 L253.30,143.45 L254.25,141.44 L255.20,139.43 L256.14,137.42 L257.08,135.41 L258.02,133.40 L258.96,131.39 L259.89,129.38 L260.82,127.36 L261.75,125.35 L262.67,123.34 L263.59,121.33 L264.50,119.32 L265.41,117.30 L266.31,115.29 L267.21,113.28 L268.11,111.27 L268.99,109.25 L269.87,107.24 L270.75,105.22 L271.62,103.21 L272.48,101.19 L273.33,99.18 L274.17,97.16 L275.01,95.14 L275.83,93.12 L276.65,91.11 L277.46,89.09 L278.26,87.07 L279.04,85.05 L279.82,83.03 L280.58,81.02 L281.33,79.00 L282.07,76.97 L282.79,74.95 L283.49,72.93 L284.17,70.91 L284.84,68.88 L285.49,66.85 L286.12,64.83 L286.72,62.80 L287.31,60.77 L287.87,58.73 L288.40,56.70 L288.91,54.66 L289.39,52.63 L289.85,50.59 L290.27,48.55 L290.66,46.50 L291.02,44.46 L291.35,42.41 L291.64,40.36 Z" fill="#00fa00"/>
<polygon points="45.8,624 28.6,640.2 53.3,649.1" fill="#00fa00"/>
</svg>
</body></html>
